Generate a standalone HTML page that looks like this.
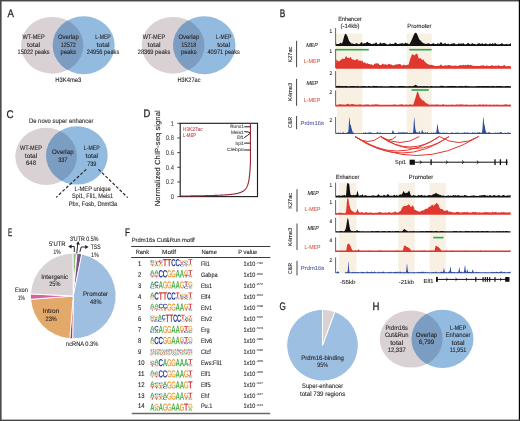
<!DOCTYPE html>
<html><head><meta charset="utf-8"><title>figure</title>
<style>
html,body{margin:0;padding:0;background:#ffffff;}
svg{display:block;will-change:transform;}
text{font-family:"Liberation Sans", sans-serif;}
</style></head>
<body>
<svg width="520" height="421" viewBox="0 0 520 421" text-rendering="geometricPrecision">
<defs>
<path id="gA" d="M1133 0 1008 360H471L346 0H51L565 1409H913L1425 0ZM739 1192 733 1170Q723 1134 709.0 1088.0Q695 1042 537 582H942L803 987L760 1123Z" transform="matrix(0.0007278 0 0 -0.0007097 -0.03712 1.00000)"/>
<path id="gC" d="M795 212Q1062 212 1166 480L1423 383Q1340 179 1179.5 79.5Q1019 -20 795 -20Q455 -20 269.5 172.5Q84 365 84 711Q84 1058 263.0 1244.0Q442 1430 782 1430Q1030 1430 1186.0 1330.5Q1342 1231 1405 1038L1145 967Q1112 1073 1015.5 1135.5Q919 1198 788 1198Q588 1198 484.5 1074.0Q381 950 381 711Q381 468 487.5 340.0Q594 212 795 212Z" transform="matrix(0.0007468 0 0 -0.0006897 -0.06273 0.98621)"/>
<path id="gG" d="M806 211Q921 211 1029.0 244.5Q1137 278 1196 330V525H852V743H1466V225Q1354 110 1174.5 45.0Q995 -20 798 -20Q454 -20 269.0 170.5Q84 361 84 711Q84 1059 270.0 1244.5Q456 1430 805 1430Q1301 1430 1436 1063L1164 981Q1120 1088 1026.0 1143.0Q932 1198 805 1198Q597 1198 489.0 1072.0Q381 946 381 711Q381 472 492.5 341.5Q604 211 806 211Z" transform="matrix(0.0007236 0 0 -0.0006897 -0.06078 0.98621)"/>
<path id="gT" d="M773 1181V0H478V1181H23V1409H1229V1181Z" transform="matrix(0.0008292 0 0 -0.0007097 -0.01907 1.00000)"/>
</defs>
<rect x="0" y="0" width="520" height="421" fill="#ffffff"/>
<text x="7.5" y="17.1" font-size="11" text-anchor="start" fill="#231f20" textLength="6.4" lengthAdjust="spacingAndGlyphs" stroke="#231f20" stroke-width="0.28">A</text>
<text x="279.7" y="16.5" font-size="11" text-anchor="start" fill="#231f20" textLength="5.5" lengthAdjust="spacingAndGlyphs" stroke="#231f20" stroke-width="0.28">B</text>
<text x="6.4" y="117.9" font-size="11" text-anchor="start" fill="#231f20" textLength="7.1" lengthAdjust="spacingAndGlyphs" stroke="#231f20" stroke-width="0.28">C</text>
<text x="143.5" y="117.4" font-size="11" text-anchor="start" fill="#231f20" textLength="6.8" lengthAdjust="spacingAndGlyphs" stroke="#231f20" stroke-width="0.28">D</text>
<text x="7.9" y="235.8" font-size="11" text-anchor="start" fill="#231f20" textLength="4.2" lengthAdjust="spacingAndGlyphs" stroke="#231f20" stroke-width="0.28">E</text>
<text x="125" y="235.8" font-size="11" text-anchor="start" fill="#231f20" textLength="4.9" lengthAdjust="spacingAndGlyphs" stroke="#231f20" stroke-width="0.28">F</text>
<text x="279.5" y="310" font-size="11" text-anchor="start" fill="#231f20" textLength="6.3" lengthAdjust="spacingAndGlyphs" stroke="#231f20" stroke-width="0.28">G</text>
<text x="372.5" y="309.8" font-size="11" text-anchor="start" fill="#231f20" textLength="6.9" lengthAdjust="spacingAndGlyphs" stroke="#231f20" stroke-width="0.28">H</text>
<ellipse cx="52.2" cy="45.3" rx="31.2" ry="28.4" fill="#d9d1d3"/>
<ellipse cx="83.7" cy="45.2" rx="31" ry="29" fill="#93bbdf"/>
<clipPath id="c11"><ellipse cx="52.2" cy="45.3" rx="31.2" ry="28.4"/></clipPath>
<ellipse cx="83.7" cy="45.2" rx="31" ry="29" fill="#7b9dc1" clip-path="url(#c11)"/>
<text x="33.6" y="38.8" font-size="6.5" text-anchor="middle" fill="#231f20" textLength="22.3" lengthAdjust="spacingAndGlyphs" stroke="#231f20" stroke-width="0.1">WT-MEP</text>
<text x="33.6" y="46.5" font-size="6.5" text-anchor="middle" fill="#231f20" textLength="13" lengthAdjust="spacingAndGlyphs" stroke="#231f20" stroke-width="0.1">total</text>
<text x="33.6" y="54.2" font-size="6.5" text-anchor="middle" fill="#231f20" textLength="32" lengthAdjust="spacingAndGlyphs" stroke="#231f20" stroke-width="0.1">15022 peaks</text>
<text x="68.3" y="38.8" font-size="6.5" text-anchor="middle" fill="#231f20" textLength="20.8" lengthAdjust="spacingAndGlyphs" stroke="#231f20" stroke-width="0.1">Overlap</text>
<text x="68.3" y="46.5" font-size="6.5" text-anchor="middle" fill="#231f20" textLength="15.2" lengthAdjust="spacingAndGlyphs" stroke="#231f20" stroke-width="0.1">12572</text>
<text x="68.3" y="54.2" font-size="6.5" text-anchor="middle" fill="#231f20" textLength="15.5" lengthAdjust="spacingAndGlyphs" stroke="#231f20" stroke-width="0.1">peaks</text>
<text x="103" y="38.8" font-size="6.5" text-anchor="middle" fill="#231f20" textLength="15.4" lengthAdjust="spacingAndGlyphs" stroke="#231f20" stroke-width="0.1">L-MEP</text>
<text x="103" y="46.5" font-size="6.5" text-anchor="middle" fill="#231f20" textLength="13" lengthAdjust="spacingAndGlyphs" stroke="#231f20" stroke-width="0.1">total</text>
<text x="103" y="54.2" font-size="6.5" text-anchor="middle" fill="#231f20" textLength="32.5" lengthAdjust="spacingAndGlyphs" stroke="#231f20" stroke-width="0.1">24956 peaks</text>
<text x="68.3" y="82.1" font-size="6.5" text-anchor="middle" fill="#231f20" textLength="26" lengthAdjust="spacingAndGlyphs" stroke="#231f20" stroke-width="0.1">H3K4me3</text>
<ellipse cx="173.1" cy="45.3" rx="31.4" ry="28.4" fill="#d9d1d3"/>
<ellipse cx="204.3" cy="45.2" rx="31.2" ry="29" fill="#93bbdf"/>
<clipPath id="c25"><ellipse cx="173.1" cy="45.3" rx="31.4" ry="28.4"/></clipPath>
<ellipse cx="204.3" cy="45.2" rx="31.2" ry="29" fill="#7b9dc1" clip-path="url(#c25)"/>
<text x="154" y="38.8" font-size="6.5" text-anchor="middle" fill="#231f20" textLength="22.3" lengthAdjust="spacingAndGlyphs" stroke="#231f20" stroke-width="0.1">WT-MEP</text>
<text x="154" y="46.5" font-size="6.5" text-anchor="middle" fill="#231f20" textLength="13" lengthAdjust="spacingAndGlyphs" stroke="#231f20" stroke-width="0.1">total</text>
<text x="154" y="54.2" font-size="6.5" text-anchor="middle" fill="#231f20" textLength="32.5" lengthAdjust="spacingAndGlyphs" stroke="#231f20" stroke-width="0.1">28369 peaks</text>
<text x="188.8" y="38.8" font-size="6.5" text-anchor="middle" fill="#231f20" textLength="20.8" lengthAdjust="spacingAndGlyphs" stroke="#231f20" stroke-width="0.1">Overlap</text>
<text x="188.8" y="46.5" font-size="6.5" text-anchor="middle" fill="#231f20" textLength="15.2" lengthAdjust="spacingAndGlyphs" stroke="#231f20" stroke-width="0.1">15218</text>
<text x="188.8" y="54.2" font-size="6.5" text-anchor="middle" fill="#231f20" textLength="15.5" lengthAdjust="spacingAndGlyphs" stroke="#231f20" stroke-width="0.1">peaks</text>
<text x="223.7" y="38.8" font-size="6.5" text-anchor="middle" fill="#231f20" textLength="15.4" lengthAdjust="spacingAndGlyphs" stroke="#231f20" stroke-width="0.1">L-MEP</text>
<text x="223.7" y="46.5" font-size="6.5" text-anchor="middle" fill="#231f20" textLength="13" lengthAdjust="spacingAndGlyphs" stroke="#231f20" stroke-width="0.1">total</text>
<text x="223.7" y="54.2" font-size="6.5" text-anchor="middle" fill="#231f20" textLength="32.5" lengthAdjust="spacingAndGlyphs" stroke="#231f20" stroke-width="0.1">40971 peaks</text>
<text x="189" y="82.1" font-size="6.5" text-anchor="middle" fill="#231f20" textLength="23" lengthAdjust="spacingAndGlyphs" stroke="#231f20" stroke-width="0.1">H3K27ac</text>
<text x="61.2" y="122.9" font-size="6.5" text-anchor="middle" fill="#231f20" textLength="64.5" lengthAdjust="spacingAndGlyphs" stroke="#231f20" stroke-width="0.1">De novo super enhancer</text>
<ellipse cx="46.1" cy="156.4" rx="30.8" ry="28.6" fill="#d9d1d3"/>
<ellipse cx="76.9" cy="155.4" rx="30.8" ry="29.2" fill="#93bbdf"/>
<clipPath id="c40"><ellipse cx="46.1" cy="156.4" rx="30.8" ry="28.6"/></clipPath>
<ellipse cx="76.9" cy="155.4" rx="30.8" ry="29.2" fill="#7b9dc1" clip-path="url(#c40)"/>
<text x="31" y="150.4" font-size="6.5" text-anchor="middle" fill="#231f20" textLength="22.1" lengthAdjust="spacingAndGlyphs" stroke="#231f20" stroke-width="0.1">WT-MEP</text>
<text x="31" y="157.9" font-size="6.5" text-anchor="middle" fill="#231f20" textLength="12.3" lengthAdjust="spacingAndGlyphs" stroke="#231f20" stroke-width="0.1">total</text>
<text x="31" y="165.4" font-size="6.5" text-anchor="middle" fill="#231f20" textLength="10" lengthAdjust="spacingAndGlyphs" stroke="#231f20" stroke-width="0.1">648</text>
<text x="62.8" y="154.1" font-size="6.5" text-anchor="middle" fill="#231f20" textLength="21.6" lengthAdjust="spacingAndGlyphs" stroke="#231f20" stroke-width="0.1">Overlap</text>
<text x="62.8" y="161.9" font-size="6.5" text-anchor="middle" fill="#231f20" textLength="9.3" lengthAdjust="spacingAndGlyphs" stroke="#231f20" stroke-width="0.1">337</text>
<text x="91.8" y="150.2" font-size="6.5" text-anchor="middle" fill="#231f20" textLength="15.9" lengthAdjust="spacingAndGlyphs" stroke="#231f20" stroke-width="0.1">L-MEP</text>
<text x="91.8" y="157.9" font-size="6.5" text-anchor="middle" fill="#231f20" textLength="12.4" lengthAdjust="spacingAndGlyphs" stroke="#231f20" stroke-width="0.1">total</text>
<text x="91.8" y="165.6" font-size="6.5" text-anchor="middle" fill="#231f20" textLength="9.2" lengthAdjust="spacingAndGlyphs" stroke="#231f20" stroke-width="0.1">739</text>
<line x1="86.2" y1="169.3" x2="56.2" y2="197.3" stroke="#231f20" stroke-width="1.15" stroke-dasharray="3.0 1.9"/>
<line x1="98.5" y1="169.3" x2="127.7" y2="197.6" stroke="#231f20" stroke-width="1.15" stroke-dasharray="3.0 1.9"/>
<text x="92.6" y="190.5" font-size="6.5" text-anchor="middle" fill="#231f20" textLength="36.3" lengthAdjust="spacingAndGlyphs" stroke="#231f20" stroke-width="0.1">L-MEP unique</text>
<text x="92.6" y="198.3" font-size="6.5" text-anchor="middle" fill="#231f20" textLength="41.1" lengthAdjust="spacingAndGlyphs" stroke="#231f20" stroke-width="0.1">Spi1, Fli1, Meis1</text>
<text x="93" y="206" font-size="6.5" text-anchor="middle" fill="#231f20" textLength="48.4" lengthAdjust="spacingAndGlyphs" stroke="#231f20" stroke-width="0.1">Pbx, Fosb, Dnmt3a</text>
<rect x="180.2" y="123.3" width="77.3" height="73.3" fill="none" stroke="#231f20" stroke-width="1.15"/>
<line x1="177.2" y1="196.6" x2="180.2" y2="196.6" stroke="#231f20" stroke-width="0.8"/>
<text x="173.9" y="198.9" font-size="6.8" text-anchor="end" fill="#505050" textLength="3.25" lengthAdjust="spacingAndGlyphs" stroke="#505050" stroke-width="0.1">0</text>
<line x1="177.2" y1="181.94" x2="180.2" y2="181.94" stroke="#231f20" stroke-width="0.8"/>
<text x="173.9" y="184.24" font-size="6.8" text-anchor="end" fill="#505050" textLength="8.13" lengthAdjust="spacingAndGlyphs" stroke="#505050" stroke-width="0.1">0.2</text>
<line x1="177.2" y1="167.28" x2="180.2" y2="167.28" stroke="#231f20" stroke-width="0.8"/>
<text x="173.9" y="169.58" font-size="6.8" text-anchor="end" fill="#505050" textLength="8.13" lengthAdjust="spacingAndGlyphs" stroke="#505050" stroke-width="0.1">0.4</text>
<line x1="177.2" y1="152.62" x2="180.2" y2="152.62" stroke="#231f20" stroke-width="0.8"/>
<text x="173.9" y="154.92" font-size="6.8" text-anchor="end" fill="#505050" textLength="8.13" lengthAdjust="spacingAndGlyphs" stroke="#505050" stroke-width="0.1">0.6</text>
<line x1="177.2" y1="137.96" x2="180.2" y2="137.96" stroke="#231f20" stroke-width="0.8"/>
<text x="173.9" y="140.26" font-size="6.8" text-anchor="end" fill="#505050" textLength="8.13" lengthAdjust="spacingAndGlyphs" stroke="#505050" stroke-width="0.1">0.8</text>
<line x1="177.2" y1="123.3" x2="180.2" y2="123.3" stroke="#231f20" stroke-width="0.8"/>
<text x="173.9" y="125.6" font-size="6.8" text-anchor="end" fill="#505050" textLength="3.25" lengthAdjust="spacingAndGlyphs" stroke="#505050" stroke-width="0.1">1</text>
<text transform="translate(157.6 158.3) rotate(-90)" x="0" y="0" font-size="7.4" text-anchor="middle" dominant-baseline="central" fill="#231f20" textLength="96" lengthAdjust="spacingAndGlyphs" stroke="#231f20" stroke-width="0.1">Normalized ChIP-seq signal</text>
<polyline points="180.7,196.06 180.93,196.05 181.16,196.05 181.4,196.05 181.63,196.05 181.86,196.04 182.09,196.04 182.32,196.04 182.56,196.04 182.79,196.03 183.02,196.03 183.25,196.03 183.48,196.03 183.72,196.03 183.95,196.02 184.18,196.02 184.41,196.02 184.64,196.02 184.88,196.01 185.11,196.01 185.34,196.01 185.57,196.01 185.8,196 186.04,196 186.27,196 186.5,195.99 186.73,195.99 186.96,195.99 187.2,195.99 187.43,195.98 187.66,195.98 187.89,195.98 188.12,195.98 188.36,195.97 188.59,195.97 188.82,195.97 189.05,195.96 189.28,195.96 189.52,195.96 189.75,195.96 189.98,195.95 190.21,195.95 190.44,195.95 190.68,195.94 190.91,195.94 191.14,195.94 191.37,195.93 191.6,195.93 191.84,195.93 192.07,195.93 192.3,195.92 192.53,195.92 192.76,195.92 193,195.91 193.23,195.91 193.46,195.91 193.69,195.9 193.92,195.9 194.16,195.9 194.39,195.89 194.62,195.89 194.85,195.89 195.08,195.88 195.32,195.88 195.55,195.88 195.78,195.87 196.01,195.87 196.24,195.86 196.48,195.86 196.71,195.86 196.94,195.85 197.17,195.85 197.4,195.85 197.64,195.84 197.87,195.84 198.1,195.83 198.33,195.83 198.56,195.83 198.8,195.82 199.03,195.82 199.26,195.81 199.49,195.81 199.72,195.81 199.96,195.8 200.19,195.8 200.42,195.79 200.65,195.79 200.88,195.78 201.12,195.78 201.35,195.78 201.58,195.77 201.81,195.77 202.04,195.76 202.28,195.76 202.51,195.75 202.74,195.75 202.97,195.74 203.2,195.74 203.44,195.73 203.67,195.73 203.9,195.72 204.13,195.72 204.36,195.71 204.6,195.71 204.83,195.7 205.06,195.7 205.29,195.69 205.52,195.69 205.76,195.68 205.99,195.68 206.22,195.67 206.45,195.67 206.68,195.66 206.92,195.66 207.15,195.65 207.38,195.64 207.61,195.64 207.84,195.63 208.08,195.63 208.31,195.62 208.54,195.62 208.77,195.61 209,195.6 209.24,195.6 209.47,195.59 209.7,195.58 209.93,195.58 210.16,195.57 210.4,195.57 210.63,195.56 210.86,195.55 211.09,195.55 211.32,195.54 211.56,195.53 211.79,195.52 212.02,195.52 212.25,195.51 212.48,195.5 212.72,195.5 212.95,195.49 213.18,195.48 213.41,195.47 213.64,195.47 213.88,195.46 214.11,195.45 214.34,195.44 214.57,195.43 214.8,195.43 215.04,195.42 215.27,195.41 215.5,195.4 215.73,195.39 215.96,195.38 216.2,195.37 216.43,195.36 216.66,195.36 216.89,195.35 217.12,195.34 217.36,195.33 217.59,195.32 217.82,195.31 218.05,195.3 218.28,195.29 218.52,195.28 218.75,195.27 218.98,195.26 219.21,195.25 219.44,195.24 219.68,195.23 219.91,195.22 220.14,195.2 220.37,195.19 220.6,195.18 220.84,195.17 221.07,195.16 221.3,195.15 221.53,195.13 221.76,195.12 222,195.11 222.23,195.1 222.46,195.08 222.69,195.07 222.92,195.06 223.16,195.04 223.39,195.03 223.62,195.01 223.85,195 224.08,194.99 224.32,194.97 224.55,194.96 224.78,194.94 225.01,194.92 225.24,194.91 225.48,194.89 225.71,194.88 225.94,194.86 226.17,194.84 226.4,194.83 226.64,194.81 226.87,194.79 227.1,194.77 227.33,194.75 227.56,194.73 227.8,194.71 228.03,194.69 228.26,194.67 228.49,194.65 228.72,194.63 228.96,194.61 229.19,194.59 229.42,194.57 229.65,194.55 229.88,194.52 230.12,194.5 230.35,194.47 230.58,194.45 230.81,194.42 231.04,194.4 231.28,194.37 231.51,194.34 231.74,194.32 231.97,194.29 232.2,194.26 232.44,194.23 232.67,194.2 232.9,194.17 233.13,194.14 233.36,194.1 233.6,194.07 233.83,194.04 234.06,194 234.29,193.96 234.52,193.93 234.76,193.89 234.99,193.85 235.22,193.81 235.45,193.77 235.68,193.73 235.92,193.68 236.15,193.64 236.38,193.59 236.61,193.54 236.84,193.49 237.08,193.44 237.31,193.39 237.54,193.33 237.77,193.28 238,193.22 238.24,193.16 238.47,193.1 238.7,193.03 238.93,192.97 239.16,192.9 239.4,192.83 239.63,192.75 239.86,192.67 240.09,192.59 240.32,192.51 240.56,192.42 240.79,192.33 241.02,192.24 241.25,192.14 241.48,192.04 241.72,191.93 241.95,191.81 242.18,191.7 242.41,191.57 242.64,191.44 242.88,191.3 243.11,191.16 243.34,191.01 243.57,190.85 243.8,190.68 244.04,190.5 244.27,190.3 244.5,190.1 244.73,189.88 244.96,189.65 245.2,189.4 245.43,189.14 245.66,188.85 245.89,188.54 246.12,188.21 246.36,187.85 246.59,187.45 246.82,187.02 247.05,186.55 247.28,186.03 247.52,185.46 247.75,184.82 247.98,184.1 248.21,183.29 248.44,182.37 248.68,181.31 248.91,180.08 249.14,178.65 249.37,176.94 249.6,174.87 249.84,172.33 250.07,169.12 250.3,164.93 250.45,163.62 250.45,123.3" fill="none" stroke="#9e2838" stroke-width="1.15"/>
<text x="183" y="131.2" font-size="5.3" text-anchor="start" fill="#c24a58" textLength="19.6" lengthAdjust="spacingAndGlyphs" stroke="#c24a58" stroke-width="0.1">H3K27ac</text>
<text x="183" y="137.3" font-size="5.3" text-anchor="start" fill="#c24a58" textLength="13.1" lengthAdjust="spacingAndGlyphs" stroke="#c24a58" stroke-width="0.1">L-MEP</text>
<text x="243.8" y="128.3" font-size="4.6" text-anchor="end" fill="#4a4a4a" textLength="13.6" lengthAdjust="spacingAndGlyphs" stroke="#4a4a4a" stroke-width="0.1">Runx1</text>
<text x="243.8" y="133.5" font-size="4.6" text-anchor="end" fill="#4a4a4a" textLength="12.9" lengthAdjust="spacingAndGlyphs" stroke="#4a4a4a" stroke-width="0.1">Meis1</text>
<text x="243.8" y="139" font-size="4.6" text-anchor="end" fill="#4a4a4a" textLength="6.9" lengthAdjust="spacingAndGlyphs" stroke="#4a4a4a" stroke-width="0.1">Elf1</text>
<text x="243.8" y="144.8" font-size="4.6" text-anchor="end" fill="#4a4a4a" textLength="8.5" lengthAdjust="spacingAndGlyphs" stroke="#4a4a4a" stroke-width="0.1">Spi1</text>
<text x="243.8" y="151.4" font-size="4.6" text-anchor="end" fill="#4a4a4a" textLength="16.9" lengthAdjust="spacingAndGlyphs" stroke="#4a4a4a" stroke-width="0.1">C/ebpα</text>
<line x1="244.2" y1="126.8" x2="250.4" y2="126.8" stroke="#231f20" stroke-width="1"/>
<polyline points="244.2,131.6 248,131.9 250.4,133.2" fill="none" stroke="#231f20" stroke-width="1.0"/>
<polyline points="244.2,137.6 247.5,135.4 250.4,133.2" fill="none" stroke="#231f20" stroke-width="1.0"/>
<line x1="244.2" y1="143.1" x2="250.4" y2="143.1" stroke="#231f20" stroke-width="1"/>
<line x1="244.2" y1="150" x2="250.4" y2="150" stroke="#231f20" stroke-width="1"/>
<path d="M73.3,296 L72.93,253.15 A42.85,42.85 0 0 1 76.51,253.27 Z" fill="#8dc07c" stroke="#ffffff" stroke-width="0.9" stroke-linejoin="round"/>
<path d="M73.3,296 L76.51,253.27 A42.85,42.85 0 0 1 77.03,253.31 Z" fill="#f4f1f3" stroke="#ffffff" stroke-width="0.9" stroke-linejoin="round"/>
<path d="M73.3,296 L77.03,253.31 A42.85,42.85 0 0 1 81.77,254 Z" fill="#7b4e88" stroke="#ffffff" stroke-width="0.9" stroke-linejoin="round"/>
<path d="M73.3,296 L81.77,254 A42.85,42.85 0 0 1 72.63,338.84 Z" fill="#9ebfe0" stroke="#ffffff" stroke-width="0.9" stroke-linejoin="round"/>
<path d="M73.3,296 L72.63,338.84 A42.85,42.85 0 0 1 69.64,338.69 Z" fill="#b83a40" stroke="#ffffff" stroke-width="0.9" stroke-linejoin="round"/>
<path d="M73.3,296 L69.79,338.71 A42.85,42.85 0 0 1 30.58,299.29 Z" fill="#e3a96b" stroke="#ffffff" stroke-width="0.9" stroke-linejoin="round"/>
<path d="M73.3,296 L30.58,299.29 A42.85,42.85 0 0 1 30.5,293.91 Z" fill="#d8629e" stroke="#ffffff" stroke-width="0.9" stroke-linejoin="round"/>
<path d="M73.3,296 L30.5,293.91 A42.85,42.85 0 0 1 72.93,253.15 Z" fill="#d9d3d6" stroke="#ffffff" stroke-width="0.9" stroke-linejoin="round"/>
<text x="54.7" y="278.5" font-size="6.5" text-anchor="middle" fill="#231f20" textLength="26.9" lengthAdjust="spacingAndGlyphs" stroke="#231f20" stroke-width="0.1">Intergenic</text>
<text x="54.8" y="286.2" font-size="6.5" text-anchor="middle" fill="#231f20" textLength="11.2" lengthAdjust="spacingAndGlyphs" stroke="#231f20" stroke-width="0.1">25%</text>
<text x="95.6" y="296.2" font-size="6.5" text-anchor="middle" fill="#231f20" textLength="25.1" lengthAdjust="spacingAndGlyphs" stroke="#231f20" stroke-width="0.1">Promoter</text>
<text x="95.8" y="303.8" font-size="6.5" text-anchor="middle" fill="#231f20" textLength="11.4" lengthAdjust="spacingAndGlyphs" stroke="#231f20" stroke-width="0.1">48%</text>
<text x="51" y="313.1" font-size="6.5" text-anchor="middle" fill="#231f20" textLength="16.6" lengthAdjust="spacingAndGlyphs" stroke="#231f20" stroke-width="0.1">Intron</text>
<text x="51.2" y="320.8" font-size="6.5" text-anchor="middle" fill="#231f20" textLength="11.3" lengthAdjust="spacingAndGlyphs" stroke="#231f20" stroke-width="0.1">23%</text>
<text x="21.4" y="292.1" font-size="6.5" text-anchor="middle" fill="#231f20" textLength="13" lengthAdjust="spacingAndGlyphs" stroke="#231f20" stroke-width="0.1">Exon</text>
<text x="21.4" y="300.1" font-size="6.5" text-anchor="middle" fill="#231f20" textLength="7" lengthAdjust="spacingAndGlyphs" stroke="#231f20" stroke-width="0.1">1%</text>
<text x="57.3" y="245.7" font-size="6.5" text-anchor="middle" fill="#231f20" textLength="16.6" lengthAdjust="spacingAndGlyphs" stroke="#231f20" stroke-width="0.1">5'UTR</text>
<text x="57" y="253.6" font-size="6.5" text-anchor="middle" fill="#231f20" textLength="7" lengthAdjust="spacingAndGlyphs" stroke="#231f20" stroke-width="0.1">1%</text>
<text x="69.9" y="240.8" font-size="6.5" text-anchor="start" fill="#231f20" textLength="28.5" lengthAdjust="spacingAndGlyphs" stroke="#231f20" stroke-width="0.1">3'UTR 0.5%</text>
<text x="90.7" y="248.5" font-size="6.5" text-anchor="start" fill="#231f20" textLength="10" lengthAdjust="spacingAndGlyphs" stroke="#231f20" stroke-width="0.1">TSS</text>
<text x="91.3" y="256.7" font-size="6.5" text-anchor="start" fill="#231f20" textLength="7.4" lengthAdjust="spacingAndGlyphs" stroke="#231f20" stroke-width="0.1">1%</text>
<text x="66" y="345.6" font-size="6.5" text-anchor="start" fill="#231f20" textLength="32.3" lengthAdjust="spacingAndGlyphs" stroke="#231f20" stroke-width="0.1">ncRNA 0.3%</text>
<polyline points="74.3,252.0 74.3,246.5 71.0,246.5" fill="none" stroke="#231f20" stroke-width="0.95" stroke-linejoin="round"/>
<path d="M68.2,246.5 L71.6,244.6 L71.6,248.4 Z" fill="#231f20"/>
<polyline points="76.7,253.6 77.8,244.0" fill="none" stroke="#231f20" stroke-width="0.95"/>
<path d="M78.2,240.9 L76.2,244.3 L79.9,244.7 Z" fill="#231f20"/>
<polyline points="79.8,252.2 81.2,247.0 85.8,247.0" fill="none" stroke="#231f20" stroke-width="0.95" stroke-linejoin="round"/>
<path d="M88.6,247.0 L85.2,245.1 L85.2,248.9 Z" fill="#231f20"/>
<text x="131.7" y="241.8" font-size="6" text-anchor="start" fill="#231f20" textLength="63" lengthAdjust="spacingAndGlyphs" stroke="#231f20" stroke-width="0.1">Prdm16s Cut&amp;Run motif</text>
<line x1="131.2" y1="246.5" x2="270.4" y2="246.5" stroke="#3a3a3a" stroke-width="1"/>
<line x1="131.2" y1="257.5" x2="270.4" y2="257.5" stroke="#3a3a3a" stroke-width="1"/>
<line x1="131.8" y1="413.5" x2="270.2" y2="413.5" stroke="#6a6a6a" stroke-width="1.5"/>
<text x="135.7" y="253.9" font-size="6" text-anchor="start" fill="#231f20" textLength="13.4" lengthAdjust="spacingAndGlyphs" stroke="#231f20" stroke-width="0.1">Rank</text>
<text x="162" y="253.9" font-size="6" text-anchor="start" fill="#231f20" textLength="14.1" lengthAdjust="spacingAndGlyphs" stroke="#231f20" stroke-width="0.1">Motif</text>
<text x="201.4" y="253.9" font-size="6" text-anchor="start" fill="#231f20" textLength="15.5" lengthAdjust="spacingAndGlyphs" stroke="#231f20" stroke-width="0.1">Name</text>
<text x="238.3" y="253.9" font-size="6" text-anchor="start" fill="#231f20" textLength="19" lengthAdjust="spacingAndGlyphs" stroke="#231f20" stroke-width="0.1">P value</text>
<text x="137.9" y="266.4" font-size="6.8" text-anchor="start" fill="#231f20" textLength="3.3" lengthAdjust="spacingAndGlyphs" stroke="#231f20" stroke-width="0.1">1</text>
<text x="200.9" y="266.4" font-size="6.5" text-anchor="start" fill="#231f20" textLength="9.01" lengthAdjust="spacingAndGlyphs" stroke="#231f20" stroke-width="0.1">Fli1</text>
<text x="243.4" y="266.4" font-size="6.4" text-anchor="start" fill="#231f20" textLength="11.9" lengthAdjust="spacingAndGlyphs" stroke="#231f20" stroke-width="0.1">1x10</text>
<text x="255.7" y="263.6" font-size="3" text-anchor="start" fill="#444444" textLength="7.4" lengthAdjust="spacingAndGlyphs" stroke="#444444" stroke-width="0.05">-732</text>
<text x="137.9" y="277.33" font-size="6.8" text-anchor="start" fill="#231f20" textLength="3.3" lengthAdjust="spacingAndGlyphs" stroke="#231f20" stroke-width="0.1">2</text>
<text x="200.9" y="277.33" font-size="6.5" text-anchor="start" fill="#231f20" textLength="16.78" lengthAdjust="spacingAndGlyphs" stroke="#231f20" stroke-width="0.1">Gabpa</text>
<text x="243.4" y="277.33" font-size="6.4" text-anchor="start" fill="#231f20" textLength="11.9" lengthAdjust="spacingAndGlyphs" stroke="#231f20" stroke-width="0.1">1x10</text>
<text x="255.7" y="274.53" font-size="3" text-anchor="start" fill="#444444" textLength="7.4" lengthAdjust="spacingAndGlyphs" stroke="#444444" stroke-width="0.05">-692</text>
<text x="137.9" y="288.26" font-size="6.8" text-anchor="start" fill="#231f20" textLength="3.3" lengthAdjust="spacingAndGlyphs" stroke="#231f20" stroke-width="0.1">3</text>
<text x="200.9" y="288.26" font-size="6.5" text-anchor="start" fill="#231f20" textLength="11.19" lengthAdjust="spacingAndGlyphs" stroke="#231f20" stroke-width="0.1">Ets1</text>
<text x="243.4" y="288.26" font-size="6.4" text-anchor="start" fill="#231f20" textLength="11.9" lengthAdjust="spacingAndGlyphs" stroke="#231f20" stroke-width="0.1">1x10</text>
<text x="255.7" y="285.46" font-size="3" text-anchor="start" fill="#444444" textLength="7.4" lengthAdjust="spacingAndGlyphs" stroke="#444444" stroke-width="0.05">-672</text>
<text x="137.9" y="299.19" font-size="6.8" text-anchor="start" fill="#231f20" textLength="3.3" lengthAdjust="spacingAndGlyphs" stroke="#231f20" stroke-width="0.1">4</text>
<text x="200.9" y="299.19" font-size="6.5" text-anchor="start" fill="#231f20" textLength="9.63" lengthAdjust="spacingAndGlyphs" stroke="#231f20" stroke-width="0.1">Elf4</text>
<text x="243.4" y="299.19" font-size="6.4" text-anchor="start" fill="#231f20" textLength="11.9" lengthAdjust="spacingAndGlyphs" stroke="#231f20" stroke-width="0.1">1x10</text>
<text x="255.7" y="296.39" font-size="3" text-anchor="start" fill="#444444" textLength="7.4" lengthAdjust="spacingAndGlyphs" stroke="#444444" stroke-width="0.05">-604</text>
<text x="137.9" y="310.12" font-size="6.8" text-anchor="start" fill="#231f20" textLength="3.3" lengthAdjust="spacingAndGlyphs" stroke="#231f20" stroke-width="0.1">5</text>
<text x="200.9" y="310.12" font-size="6.5" text-anchor="start" fill="#231f20" textLength="11.19" lengthAdjust="spacingAndGlyphs" stroke="#231f20" stroke-width="0.1">Etv1</text>
<text x="243.4" y="310.12" font-size="6.4" text-anchor="start" fill="#231f20" textLength="11.9" lengthAdjust="spacingAndGlyphs" stroke="#231f20" stroke-width="0.1">1x10</text>
<text x="255.7" y="307.32" font-size="3" text-anchor="start" fill="#444444" textLength="7.4" lengthAdjust="spacingAndGlyphs" stroke="#444444" stroke-width="0.05">-598</text>
<text x="137.9" y="321.05" font-size="6.8" text-anchor="start" fill="#231f20" textLength="3.3" lengthAdjust="spacingAndGlyphs" stroke="#231f20" stroke-width="0.1">6</text>
<text x="200.9" y="321.05" font-size="6.5" text-anchor="start" fill="#231f20" textLength="11.19" lengthAdjust="spacingAndGlyphs" stroke="#231f20" stroke-width="0.1">Etv2</text>
<text x="243.4" y="321.05" font-size="6.4" text-anchor="start" fill="#231f20" textLength="11.9" lengthAdjust="spacingAndGlyphs" stroke="#231f20" stroke-width="0.1">1x10</text>
<text x="255.7" y="318.25" font-size="3" text-anchor="start" fill="#444444" textLength="7.4" lengthAdjust="spacingAndGlyphs" stroke="#444444" stroke-width="0.05">-595</text>
<text x="137.9" y="331.98" font-size="6.8" text-anchor="start" fill="#231f20" textLength="3.3" lengthAdjust="spacingAndGlyphs" stroke="#231f20" stroke-width="0.1">7</text>
<text x="200.9" y="331.98" font-size="6.5" text-anchor="start" fill="#231f20" textLength="8.7" lengthAdjust="spacingAndGlyphs" stroke="#231f20" stroke-width="0.1">Erg</text>
<text x="243.4" y="331.98" font-size="6.4" text-anchor="start" fill="#231f20" textLength="11.9" lengthAdjust="spacingAndGlyphs" stroke="#231f20" stroke-width="0.1">1x10</text>
<text x="255.7" y="329.18" font-size="3" text-anchor="start" fill="#444444" textLength="7.4" lengthAdjust="spacingAndGlyphs" stroke="#444444" stroke-width="0.05">-523</text>
<text x="137.9" y="342.91" font-size="6.8" text-anchor="start" fill="#231f20" textLength="3.3" lengthAdjust="spacingAndGlyphs" stroke="#231f20" stroke-width="0.1">8</text>
<text x="200.9" y="342.91" font-size="6.5" text-anchor="start" fill="#231f20" textLength="11.19" lengthAdjust="spacingAndGlyphs" stroke="#231f20" stroke-width="0.1">Etv6</text>
<text x="243.4" y="342.91" font-size="6.4" text-anchor="start" fill="#231f20" textLength="11.9" lengthAdjust="spacingAndGlyphs" stroke="#231f20" stroke-width="0.1">1x10</text>
<text x="255.7" y="340.11" font-size="3" text-anchor="start" fill="#444444" textLength="7.4" lengthAdjust="spacingAndGlyphs" stroke="#444444" stroke-width="0.05">-589</text>
<text x="137.9" y="353.84" font-size="6.8" text-anchor="start" fill="#231f20" textLength="3.3" lengthAdjust="spacingAndGlyphs" stroke="#231f20" stroke-width="0.1">9</text>
<text x="200.9" y="353.84" font-size="6.5" text-anchor="start" fill="#231f20" textLength="9.94" lengthAdjust="spacingAndGlyphs" stroke="#231f20" stroke-width="0.1">Ctcf</text>
<text x="243.4" y="353.84" font-size="6.4" text-anchor="start" fill="#231f20" textLength="11.9" lengthAdjust="spacingAndGlyphs" stroke="#231f20" stroke-width="0.1">1x10</text>
<text x="255.7" y="351.04" font-size="3" text-anchor="start" fill="#444444" textLength="7.4" lengthAdjust="spacingAndGlyphs" stroke="#444444" stroke-width="0.05">-530</text>
<text x="137.9" y="364.77" font-size="6.8" text-anchor="start" fill="#231f20" textLength="6.6" lengthAdjust="spacingAndGlyphs" stroke="#231f20" stroke-width="0.1">10</text>
<text x="200.9" y="364.77" font-size="6.5" text-anchor="start" fill="#231f20" textLength="21.12" lengthAdjust="spacingAndGlyphs" stroke="#231f20" stroke-width="0.1">Ews:Fli1</text>
<text x="243.4" y="364.77" font-size="6.4" text-anchor="start" fill="#231f20" textLength="11.9" lengthAdjust="spacingAndGlyphs" stroke="#231f20" stroke-width="0.1">1x10</text>
<text x="255.7" y="361.97" font-size="3" text-anchor="start" fill="#444444" textLength="7.4" lengthAdjust="spacingAndGlyphs" stroke="#444444" stroke-width="0.05">-469</text>
<text x="137.9" y="375.7" font-size="6.8" text-anchor="start" fill="#231f20" textLength="6.6" lengthAdjust="spacingAndGlyphs" stroke="#231f20" stroke-width="0.1">11</text>
<text x="200.9" y="375.7" font-size="6.5" text-anchor="start" fill="#231f20" textLength="9.63" lengthAdjust="spacingAndGlyphs" stroke="#231f20" stroke-width="0.1">Elf1</text>
<text x="243.4" y="375.7" font-size="6.4" text-anchor="start" fill="#231f20" textLength="11.9" lengthAdjust="spacingAndGlyphs" stroke="#231f20" stroke-width="0.1">1x10</text>
<text x="255.7" y="372.9" font-size="3" text-anchor="start" fill="#444444" textLength="7.4" lengthAdjust="spacingAndGlyphs" stroke="#444444" stroke-width="0.05">-469</text>
<text x="137.9" y="386.63" font-size="6.8" text-anchor="start" fill="#231f20" textLength="6.6" lengthAdjust="spacingAndGlyphs" stroke="#231f20" stroke-width="0.1">12</text>
<text x="200.9" y="386.63" font-size="6.5" text-anchor="start" fill="#231f20" textLength="9.63" lengthAdjust="spacingAndGlyphs" stroke="#231f20" stroke-width="0.1">Elf5</text>
<text x="243.4" y="386.63" font-size="6.4" text-anchor="start" fill="#231f20" textLength="11.9" lengthAdjust="spacingAndGlyphs" stroke="#231f20" stroke-width="0.1">1x10</text>
<text x="255.7" y="383.83" font-size="3" text-anchor="start" fill="#444444" textLength="7.4" lengthAdjust="spacingAndGlyphs" stroke="#444444" stroke-width="0.05">-447</text>
<text x="137.9" y="397.56" font-size="6.8" text-anchor="start" fill="#231f20" textLength="6.6" lengthAdjust="spacingAndGlyphs" stroke="#231f20" stroke-width="0.1">13</text>
<text x="200.9" y="397.56" font-size="6.5" text-anchor="start" fill="#231f20" textLength="8.39" lengthAdjust="spacingAndGlyphs" stroke="#231f20" stroke-width="0.1">Ehf</text>
<text x="243.4" y="397.56" font-size="6.4" text-anchor="start" fill="#231f20" textLength="11.9" lengthAdjust="spacingAndGlyphs" stroke="#231f20" stroke-width="0.1">1x10</text>
<text x="255.7" y="394.76" font-size="3" text-anchor="start" fill="#444444" textLength="7.4" lengthAdjust="spacingAndGlyphs" stroke="#444444" stroke-width="0.05">-447</text>
<text x="137.9" y="408.49" font-size="6.8" text-anchor="start" fill="#231f20" textLength="6.6" lengthAdjust="spacingAndGlyphs" stroke="#231f20" stroke-width="0.1">14</text>
<text x="200.9" y="408.49" font-size="6.5" text-anchor="start" fill="#231f20" textLength="11.5" lengthAdjust="spacingAndGlyphs" stroke="#231f20" stroke-width="0.1">Pu.1</text>
<text x="243.4" y="408.49" font-size="6.4" text-anchor="start" fill="#231f20" textLength="11.9" lengthAdjust="spacingAndGlyphs" stroke="#231f20" stroke-width="0.1">1x10</text>
<text x="255.7" y="405.69" font-size="3" text-anchor="start" fill="#444444" textLength="7.4" lengthAdjust="spacingAndGlyphs" stroke="#444444" stroke-width="0.05">-444</text>
<use href="#gC" fill="#2d3f97" transform="translate(150.24 260.14) scale(4.15 1.54)"/>
<use href="#gA" fill="#4dae4b" transform="translate(150.24 261.68) scale(4.15 1.54)"/>
<use href="#gG" fill="#eba23e" transform="translate(150.24 263.22) scale(4.15 1.54)"/>
<use href="#gT" fill="#d03c3c" transform="translate(150.24 264.76) scale(4.15 1.54)"/>
<use href="#gG" fill="#eba23e" transform="translate(154.47 260.14) scale(4.15 2.05)"/>
<use href="#gT" fill="#d03c3c" transform="translate(154.47 262.19) scale(4.15 2.05)"/>
<use href="#gA" fill="#4dae4b" transform="translate(154.47 264.25) scale(4.15 2.05)"/>
<use href="#gC" fill="#2d3f97" transform="translate(158.7 260.14) scale(4.15 2.05)"/>
<use href="#gT" fill="#d03c3c" transform="translate(158.7 262.19) scale(4.15 2.05)"/>
<use href="#gG" fill="#eba23e" transform="translate(158.7 264.25) scale(4.15 2.05)"/>
<use href="#gT" fill="#d03c3c" transform="translate(162.93 258.99) scale(4.15 7.31)"/>
<use href="#gT" fill="#d03c3c" transform="translate(167.16 258.99) scale(4.15 7.31)"/>
<use href="#gC" fill="#2d3f97" transform="translate(171.39 258.99) scale(4.15 7.31)"/>
<use href="#gC" fill="#2d3f97" transform="translate(175.62 258.99) scale(4.15 7.31)"/>
<use href="#gG" fill="#eba23e" transform="translate(179.85 260.14) scale(4.15 2.05)"/>
<use href="#gT" fill="#d03c3c" transform="translate(179.85 262.19) scale(4.15 2.05)"/>
<use href="#gC" fill="#2d3f97" transform="translate(179.85 264.25) scale(4.15 2.05)"/>
<use href="#gG" fill="#eba23e" transform="translate(184.08 260.14) scale(4.15 1.54)"/>
<use href="#gC" fill="#2d3f97" transform="translate(184.08 261.68) scale(4.15 1.54)"/>
<use href="#gA" fill="#4dae4b" transform="translate(184.08 263.22) scale(4.15 1.54)"/>
<use href="#gT" fill="#d03c3c" transform="translate(184.08 264.76) scale(4.15 1.54)"/>
<use href="#gT" fill="#d03c3c" transform="translate(188.31 259.22) scale(4.15 4.77)"/>
<use href="#gA" fill="#4dae4b" transform="translate(188.31 263.99) scale(4.15 1.16)"/>
<use href="#gG" fill="#eba23e" transform="translate(188.31 265.14) scale(4.15 1.16)"/>
<use href="#gA" fill="#4dae4b" transform="translate(150.24 270.34) scale(4.15 3.85)"/>
<use href="#gC" fill="#2d3f97" transform="translate(150.24 274.19) scale(4.15 1.08)"/>
<use href="#gG" fill="#eba23e" transform="translate(150.24 275.26) scale(4.15 1.08)"/>
<use href="#gT" fill="#d03c3c" transform="translate(150.24 276.34) scale(4.15 1.08)"/>
<use href="#gA" fill="#4dae4b" transform="translate(154.47 270.34) scale(4.15 3.85)"/>
<use href="#gG" fill="#eba23e" transform="translate(154.47 274.19) scale(4.15 1.08)"/>
<use href="#gC" fill="#2d3f97" transform="translate(154.47 275.26) scale(4.15 1.08)"/>
<use href="#gT" fill="#d03c3c" transform="translate(154.47 276.34) scale(4.15 1.08)"/>
<use href="#gC" fill="#2d3f97" transform="translate(158.7 270.11) scale(4.15 7.31)"/>
<use href="#gC" fill="#2d3f97" transform="translate(162.93 270.11) scale(4.15 7.31)"/>
<use href="#gG" fill="#eba23e" transform="translate(167.16 270.11) scale(4.15 7.31)"/>
<use href="#gG" fill="#eba23e" transform="translate(171.39 270.11) scale(4.15 7.31)"/>
<use href="#gA" fill="#4dae4b" transform="translate(175.62 270.11) scale(4.15 7.31)"/>
<use href="#gA" fill="#4dae4b" transform="translate(179.85 270.11) scale(4.15 7.31)"/>
<use href="#gG" fill="#eba23e" transform="translate(184.08 270.34) scale(4.15 4.77)"/>
<use href="#gT" fill="#d03c3c" transform="translate(184.08 275.11) scale(4.15 2.31)"/>
<use href="#gT" fill="#d03c3c" transform="translate(188.31 270.34) scale(4.15 4.77)"/>
<use href="#gC" fill="#2d3f97" transform="translate(188.31 275.11) scale(4.15 1.16)"/>
<use href="#gA" fill="#4dae4b" transform="translate(188.31 276.26) scale(4.15 1.16)"/>
<use href="#gA" fill="#4dae4b" transform="translate(150.24 281.46) scale(4.15 4.77)"/>
<use href="#gC" fill="#2d3f97" transform="translate(150.24 286.23) scale(4.15 2.31)"/>
<use href="#gC" fill="#2d3f97" transform="translate(154.47 281.46) scale(4.15 4.77)"/>
<use href="#gA" fill="#4dae4b" transform="translate(154.47 286.23) scale(4.15 2.31)"/>
<use href="#gA" fill="#4dae4b" transform="translate(158.7 281.23) scale(4.15 7.31)"/>
<use href="#gG" fill="#eba23e" transform="translate(162.93 281.23) scale(4.15 7.31)"/>
<use href="#gG" fill="#eba23e" transform="translate(167.16 281.23) scale(4.15 7.31)"/>
<use href="#gA" fill="#4dae4b" transform="translate(171.39 281.23) scale(4.15 7.31)"/>
<use href="#gA" fill="#4dae4b" transform="translate(175.62 281.23) scale(4.15 7.31)"/>
<use href="#gG" fill="#eba23e" transform="translate(179.85 281.23) scale(4.15 7.31)"/>
<use href="#gT" fill="#d03c3c" transform="translate(184.08 281.46) scale(4.15 4.77)"/>
<use href="#gC" fill="#2d3f97" transform="translate(184.08 286.23) scale(4.15 2.31)"/>
<use href="#gG" fill="#eba23e" transform="translate(188.31 281.46) scale(4.15 4.77)"/>
<use href="#gC" fill="#2d3f97" transform="translate(188.31 286.23) scale(4.15 1.16)"/>
<use href="#gA" fill="#4dae4b" transform="translate(188.31 287.38) scale(4.15 1.16)"/>
<use href="#gA" fill="#4dae4b" transform="translate(150.24 292.58) scale(4.15 4.77)"/>
<use href="#gG" fill="#eba23e" transform="translate(150.24 297.35) scale(4.15 2.31)"/>
<use href="#gC" fill="#2d3f97" transform="translate(154.47 292.35) scale(4.15 7.31)"/>
<use href="#gT" fill="#d03c3c" transform="translate(158.7 292.35) scale(4.15 7.31)"/>
<use href="#gT" fill="#d03c3c" transform="translate(162.93 292.35) scale(4.15 7.31)"/>
<use href="#gC" fill="#2d3f97" transform="translate(167.16 292.35) scale(4.15 7.31)"/>
<use href="#gC" fill="#2d3f97" transform="translate(171.39 292.35) scale(4.15 7.31)"/>
<use href="#gT" fill="#d03c3c" transform="translate(175.62 292.58) scale(4.15 4.77)"/>
<use href="#gC" fill="#2d3f97" transform="translate(175.62 297.35) scale(4.15 1.16)"/>
<use href="#gG" fill="#eba23e" transform="translate(175.62 298.5) scale(4.15 1.16)"/>
<use href="#gG" fill="#eba23e" transform="translate(179.85 293.5) scale(4.15 1.54)"/>
<use href="#gC" fill="#2d3f97" transform="translate(179.85 295.04) scale(4.15 1.54)"/>
<use href="#gA" fill="#4dae4b" transform="translate(179.85 296.58) scale(4.15 1.54)"/>
<use href="#gT" fill="#d03c3c" transform="translate(179.85 298.12) scale(4.15 1.54)"/>
<use href="#gG" fill="#eba23e" transform="translate(184.08 293.5) scale(4.15 1.54)"/>
<use href="#gT" fill="#d03c3c" transform="translate(184.08 295.04) scale(4.15 1.54)"/>
<use href="#gC" fill="#2d3f97" transform="translate(184.08 296.58) scale(4.15 1.54)"/>
<use href="#gA" fill="#4dae4b" transform="translate(184.08 298.12) scale(4.15 1.54)"/>
<use href="#gT" fill="#d03c3c" transform="translate(188.31 292.58) scale(4.15 4.77)"/>
<use href="#gA" fill="#4dae4b" transform="translate(188.31 297.35) scale(4.15 1.16)"/>
<use href="#gG" fill="#eba23e" transform="translate(188.31 298.5) scale(4.15 1.16)"/>
<use href="#gA" fill="#4dae4b" transform="translate(150.24 303.7) scale(4.15 3.85)"/>
<use href="#gC" fill="#2d3f97" transform="translate(150.24 307.55) scale(4.15 1.08)"/>
<use href="#gG" fill="#eba23e" transform="translate(150.24 308.62) scale(4.15 1.08)"/>
<use href="#gT" fill="#d03c3c" transform="translate(150.24 309.7) scale(4.15 1.08)"/>
<use href="#gA" fill="#4dae4b" transform="translate(154.47 303.7) scale(4.15 3.85)"/>
<use href="#gG" fill="#eba23e" transform="translate(154.47 307.55) scale(4.15 1.08)"/>
<use href="#gC" fill="#2d3f97" transform="translate(154.47 308.62) scale(4.15 1.08)"/>
<use href="#gT" fill="#d03c3c" transform="translate(154.47 309.7) scale(4.15 1.08)"/>
<use href="#gC" fill="#2d3f97" transform="translate(158.7 303.7) scale(4.15 4.77)"/>
<use href="#gG" fill="#eba23e" transform="translate(158.7 308.47) scale(4.15 2.31)"/>
<use href="#gC" fill="#2d3f97" transform="translate(162.93 303.7) scale(4.15 4.77)"/>
<use href="#gT" fill="#d03c3c" transform="translate(162.93 308.47) scale(4.15 2.31)"/>
<use href="#gG" fill="#eba23e" transform="translate(167.16 303.47) scale(4.15 7.31)"/>
<use href="#gG" fill="#eba23e" transform="translate(171.39 303.47) scale(4.15 7.31)"/>
<use href="#gA" fill="#4dae4b" transform="translate(175.62 303.47) scale(4.15 7.31)"/>
<use href="#gA" fill="#4dae4b" transform="translate(179.85 303.47) scale(4.15 7.31)"/>
<use href="#gG" fill="#eba23e" transform="translate(184.08 303.7) scale(4.15 4.77)"/>
<use href="#gT" fill="#d03c3c" transform="translate(184.08 308.47) scale(4.15 2.31)"/>
<use href="#gT" fill="#d03c3c" transform="translate(188.31 303.7) scale(4.15 4.77)"/>
<use href="#gC" fill="#2d3f97" transform="translate(188.31 308.47) scale(4.15 1.16)"/>
<use href="#gA" fill="#4dae4b" transform="translate(188.31 309.62) scale(4.15 1.16)"/>
<use href="#gC" fill="#2d3f97" transform="translate(150.24 315.74) scale(3.77 1.54)"/>
<use href="#gA" fill="#4dae4b" transform="translate(150.24 317.28) scale(3.77 1.54)"/>
<use href="#gG" fill="#eba23e" transform="translate(150.24 318.82) scale(3.77 1.54)"/>
<use href="#gT" fill="#d03c3c" transform="translate(150.24 320.36) scale(3.77 1.54)"/>
<use href="#gG" fill="#eba23e" transform="translate(154.09 315.74) scale(3.77 1.54)"/>
<use href="#gT" fill="#d03c3c" transform="translate(154.09 317.28) scale(3.77 1.54)"/>
<use href="#gA" fill="#4dae4b" transform="translate(154.09 318.82) scale(3.77 1.54)"/>
<use href="#gC" fill="#2d3f97" transform="translate(154.09 320.36) scale(3.77 1.54)"/>
<use href="#gA" fill="#4dae4b" transform="translate(157.93 314.82) scale(3.77 4.77)"/>
<use href="#gC" fill="#2d3f97" transform="translate(157.93 319.59) scale(3.77 2.31)"/>
<use href="#gC" fill="#2d3f97" transform="translate(161.78 314.82) scale(3.77 4.77)"/>
<use href="#gT" fill="#d03c3c" transform="translate(161.78 319.59) scale(3.77 1.16)"/>
<use href="#gG" fill="#eba23e" transform="translate(161.78 320.74) scale(3.77 1.16)"/>
<use href="#gT" fill="#d03c3c" transform="translate(165.62 314.58) scale(3.77 7.31)"/>
<use href="#gT" fill="#d03c3c" transform="translate(169.47 314.58) scale(3.77 7.31)"/>
<use href="#gC" fill="#2d3f97" transform="translate(173.31 314.58) scale(3.77 7.31)"/>
<use href="#gC" fill="#2d3f97" transform="translate(177.16 314.58) scale(3.77 7.31)"/>
<use href="#gT" fill="#d03c3c" transform="translate(181 314.82) scale(3.77 4.77)"/>
<use href="#gG" fill="#eba23e" transform="translate(181 319.59) scale(3.77 2.31)"/>
<use href="#gG" fill="#eba23e" transform="translate(184.85 315.74) scale(3.77 1.54)"/>
<use href="#gA" fill="#4dae4b" transform="translate(184.85 317.28) scale(3.77 1.54)"/>
<use href="#gC" fill="#2d3f97" transform="translate(184.85 318.82) scale(3.77 1.54)"/>
<use href="#gT" fill="#d03c3c" transform="translate(184.85 320.36) scale(3.77 1.54)"/>
<use href="#gT" fill="#d03c3c" transform="translate(188.69 315.74) scale(3.77 1.54)"/>
<use href="#gG" fill="#eba23e" transform="translate(188.69 317.28) scale(3.77 1.54)"/>
<use href="#gC" fill="#2d3f97" transform="translate(188.69 318.82) scale(3.77 1.54)"/>
<use href="#gA" fill="#4dae4b" transform="translate(188.69 320.36) scale(3.77 1.54)"/>
<use href="#gA" fill="#4dae4b" transform="translate(150.24 325.94) scale(4.15 4.77)"/>
<use href="#gC" fill="#2d3f97" transform="translate(150.24 330.71) scale(4.15 2.31)"/>
<use href="#gC" fill="#2d3f97" transform="translate(154.47 325.94) scale(4.15 4.77)"/>
<use href="#gA" fill="#4dae4b" transform="translate(154.47 330.71) scale(4.15 2.31)"/>
<use href="#gA" fill="#4dae4b" transform="translate(158.7 325.7) scale(4.15 7.31)"/>
<use href="#gG" fill="#eba23e" transform="translate(162.93 325.7) scale(4.15 7.31)"/>
<use href="#gG" fill="#eba23e" transform="translate(167.16 325.7) scale(4.15 7.31)"/>
<use href="#gA" fill="#4dae4b" transform="translate(171.39 325.7) scale(4.15 7.31)"/>
<use href="#gA" fill="#4dae4b" transform="translate(175.62 325.7) scale(4.15 7.31)"/>
<use href="#gG" fill="#eba23e" transform="translate(179.85 325.94) scale(4.15 4.77)"/>
<use href="#gT" fill="#d03c3c" transform="translate(179.85 330.71) scale(4.15 2.31)"/>
<use href="#gT" fill="#d03c3c" transform="translate(184.08 325.94) scale(4.15 4.77)"/>
<use href="#gC" fill="#2d3f97" transform="translate(184.08 330.71) scale(4.15 2.31)"/>
<use href="#gG" fill="#eba23e" transform="translate(188.31 325.94) scale(4.15 4.77)"/>
<use href="#gC" fill="#2d3f97" transform="translate(188.31 330.71) scale(4.15 1.16)"/>
<use href="#gA" fill="#4dae4b" transform="translate(188.31 331.86) scale(4.15 1.16)"/>
<use href="#gA" fill="#4dae4b" transform="translate(150.24 337.06) scale(4.15 4.77)"/>
<use href="#gG" fill="#eba23e" transform="translate(150.24 341.83) scale(4.15 2.31)"/>
<use href="#gC" fill="#2d3f97" transform="translate(154.47 336.82) scale(4.15 7.31)"/>
<use href="#gC" fill="#2d3f97" transform="translate(158.7 336.82) scale(4.15 7.31)"/>
<use href="#gG" fill="#eba23e" transform="translate(162.93 336.82) scale(4.15 7.31)"/>
<use href="#gG" fill="#eba23e" transform="translate(167.16 336.82) scale(4.15 7.31)"/>
<use href="#gA" fill="#4dae4b" transform="translate(171.39 336.82) scale(4.15 7.31)"/>
<use href="#gA" fill="#4dae4b" transform="translate(175.62 336.82) scale(4.15 7.31)"/>
<use href="#gG" fill="#eba23e" transform="translate(179.85 337.06) scale(4.15 4.77)"/>
<use href="#gT" fill="#d03c3c" transform="translate(179.85 341.83) scale(4.15 2.31)"/>
<use href="#gT" fill="#d03c3c" transform="translate(184.08 337.06) scale(4.15 4.77)"/>
<use href="#gC" fill="#2d3f97" transform="translate(184.08 341.83) scale(4.15 2.31)"/>
<use href="#gG" fill="#eba23e" transform="translate(188.31 337.06) scale(4.15 4.77)"/>
<use href="#gC" fill="#2d3f97" transform="translate(188.31 341.83) scale(4.15 1.16)"/>
<use href="#gA" fill="#4dae4b" transform="translate(188.31 342.98) scale(4.15 1.16)"/>
<use href="#gA" fill="#4dae4b" transform="translate(150.24 349.1) scale(2.15 1.54)"/>
<use href="#gT" fill="#d03c3c" transform="translate(150.24 350.64) scale(2.15 1.54)"/>
<use href="#gG" fill="#eba23e" transform="translate(150.24 352.18) scale(2.15 1.54)"/>
<use href="#gC" fill="#2d3f97" transform="translate(150.24 353.72) scale(2.15 1.54)"/>
<use href="#gT" fill="#d03c3c" transform="translate(152.47 349.1) scale(2.15 1.54)"/>
<use href="#gA" fill="#4dae4b" transform="translate(152.47 350.64) scale(2.15 1.54)"/>
<use href="#gC" fill="#2d3f97" transform="translate(152.47 352.18) scale(2.15 1.54)"/>
<use href="#gG" fill="#eba23e" transform="translate(152.47 353.72) scale(2.15 1.54)"/>
<use href="#gG" fill="#eba23e" transform="translate(154.69 349.1) scale(2.15 1.54)"/>
<use href="#gC" fill="#2d3f97" transform="translate(154.69 350.64) scale(2.15 1.54)"/>
<use href="#gA" fill="#4dae4b" transform="translate(154.69 352.18) scale(2.15 1.54)"/>
<use href="#gT" fill="#d03c3c" transform="translate(154.69 353.72) scale(2.15 1.54)"/>
<use href="#gT" fill="#d03c3c" transform="translate(156.92 349.1) scale(2.15 1.54)"/>
<use href="#gG" fill="#eba23e" transform="translate(156.92 350.64) scale(2.15 1.54)"/>
<use href="#gC" fill="#2d3f97" transform="translate(156.92 352.18) scale(2.15 1.54)"/>
<use href="#gA" fill="#4dae4b" transform="translate(156.92 353.72) scale(2.15 1.54)"/>
<use href="#gC" fill="#2d3f97" transform="translate(159.15 349.1) scale(2.15 1.54)"/>
<use href="#gG" fill="#eba23e" transform="translate(159.15 350.64) scale(2.15 1.54)"/>
<use href="#gA" fill="#4dae4b" transform="translate(159.15 352.18) scale(2.15 1.54)"/>
<use href="#gT" fill="#d03c3c" transform="translate(159.15 353.72) scale(2.15 1.54)"/>
<use href="#gA" fill="#4dae4b" transform="translate(161.37 349.1) scale(2.15 1.54)"/>
<use href="#gG" fill="#eba23e" transform="translate(161.37 350.64) scale(2.15 1.54)"/>
<use href="#gT" fill="#d03c3c" transform="translate(161.37 352.18) scale(2.15 1.54)"/>
<use href="#gC" fill="#2d3f97" transform="translate(161.37 353.72) scale(2.15 1.54)"/>
<use href="#gG" fill="#eba23e" transform="translate(163.6 349.1) scale(2.15 1.54)"/>
<use href="#gC" fill="#2d3f97" transform="translate(163.6 350.64) scale(2.15 1.54)"/>
<use href="#gT" fill="#d03c3c" transform="translate(163.6 352.18) scale(2.15 1.54)"/>
<use href="#gA" fill="#4dae4b" transform="translate(163.6 353.72) scale(2.15 1.54)"/>
<use href="#gA" fill="#4dae4b" transform="translate(165.82 349.1) scale(2.15 1.54)"/>
<use href="#gC" fill="#2d3f97" transform="translate(165.82 350.64) scale(2.15 1.54)"/>
<use href="#gG" fill="#eba23e" transform="translate(165.82 352.18) scale(2.15 1.54)"/>
<use href="#gT" fill="#d03c3c" transform="translate(165.82 353.72) scale(2.15 1.54)"/>
<use href="#gT" fill="#d03c3c" transform="translate(168.05 349.1) scale(2.15 1.54)"/>
<use href="#gC" fill="#2d3f97" transform="translate(168.05 350.64) scale(2.15 1.54)"/>
<use href="#gG" fill="#eba23e" transform="translate(168.05 352.18) scale(2.15 1.54)"/>
<use href="#gA" fill="#4dae4b" transform="translate(168.05 353.72) scale(2.15 1.54)"/>
<use href="#gC" fill="#2d3f97" transform="translate(170.28 349.1) scale(2.15 1.54)"/>
<use href="#gT" fill="#d03c3c" transform="translate(170.28 350.64) scale(2.15 1.54)"/>
<use href="#gA" fill="#4dae4b" transform="translate(170.28 352.18) scale(2.15 1.54)"/>
<use href="#gG" fill="#eba23e" transform="translate(170.28 353.72) scale(2.15 1.54)"/>
<use href="#gG" fill="#eba23e" transform="translate(172.5 349.1) scale(2.15 1.54)"/>
<use href="#gA" fill="#4dae4b" transform="translate(172.5 350.64) scale(2.15 1.54)"/>
<use href="#gT" fill="#d03c3c" transform="translate(172.5 352.18) scale(2.15 1.54)"/>
<use href="#gC" fill="#2d3f97" transform="translate(172.5 353.72) scale(2.15 1.54)"/>
<use href="#gT" fill="#d03c3c" transform="translate(174.73 349.1) scale(2.15 1.54)"/>
<use href="#gG" fill="#eba23e" transform="translate(174.73 350.64) scale(2.15 1.54)"/>
<use href="#gA" fill="#4dae4b" transform="translate(174.73 352.18) scale(2.15 1.54)"/>
<use href="#gC" fill="#2d3f97" transform="translate(174.73 353.72) scale(2.15 1.54)"/>
<use href="#gC" fill="#2d3f97" transform="translate(176.96 349.1) scale(2.15 1.54)"/>
<use href="#gT" fill="#d03c3c" transform="translate(176.96 350.64) scale(2.15 1.54)"/>
<use href="#gG" fill="#eba23e" transform="translate(176.96 352.18) scale(2.15 1.54)"/>
<use href="#gA" fill="#4dae4b" transform="translate(176.96 353.72) scale(2.15 1.54)"/>
<use href="#gA" fill="#4dae4b" transform="translate(179.18 349.1) scale(2.15 1.54)"/>
<use href="#gC" fill="#2d3f97" transform="translate(179.18 350.64) scale(2.15 1.54)"/>
<use href="#gT" fill="#d03c3c" transform="translate(179.18 352.18) scale(2.15 1.54)"/>
<use href="#gG" fill="#eba23e" transform="translate(179.18 353.72) scale(2.15 1.54)"/>
<use href="#gG" fill="#eba23e" transform="translate(181.41 349.1) scale(2.15 1.54)"/>
<use href="#gT" fill="#d03c3c" transform="translate(181.41 350.64) scale(2.15 1.54)"/>
<use href="#gC" fill="#2d3f97" transform="translate(181.41 352.18) scale(2.15 1.54)"/>
<use href="#gA" fill="#4dae4b" transform="translate(181.41 353.72) scale(2.15 1.54)"/>
<use href="#gT" fill="#d03c3c" transform="translate(183.63 349.1) scale(2.15 1.54)"/>
<use href="#gC" fill="#2d3f97" transform="translate(183.63 350.64) scale(2.15 1.54)"/>
<use href="#gA" fill="#4dae4b" transform="translate(183.63 352.18) scale(2.15 1.54)"/>
<use href="#gG" fill="#eba23e" transform="translate(183.63 353.72) scale(2.15 1.54)"/>
<use href="#gA" fill="#4dae4b" transform="translate(185.86 349.1) scale(2.15 1.54)"/>
<use href="#gG" fill="#eba23e" transform="translate(185.86 350.64) scale(2.15 1.54)"/>
<use href="#gC" fill="#2d3f97" transform="translate(185.86 352.18) scale(2.15 1.54)"/>
<use href="#gT" fill="#d03c3c" transform="translate(185.86 353.72) scale(2.15 1.54)"/>
<use href="#gC" fill="#2d3f97" transform="translate(188.09 349.1) scale(2.15 1.54)"/>
<use href="#gG" fill="#eba23e" transform="translate(188.09 350.64) scale(2.15 1.54)"/>
<use href="#gT" fill="#d03c3c" transform="translate(188.09 352.18) scale(2.15 1.54)"/>
<use href="#gA" fill="#4dae4b" transform="translate(188.09 353.72) scale(2.15 1.54)"/>
<use href="#gC" fill="#2d3f97" transform="translate(190.31 349.1) scale(2.15 1.54)"/>
<use href="#gA" fill="#4dae4b" transform="translate(190.31 350.64) scale(2.15 1.54)"/>
<use href="#gT" fill="#d03c3c" transform="translate(190.31 352.18) scale(2.15 1.54)"/>
<use href="#gG" fill="#eba23e" transform="translate(190.31 353.72) scale(2.15 1.54)"/>
<use href="#gG" fill="#eba23e" transform="translate(150.24 360.22) scale(4.15 1.54)"/>
<use href="#gC" fill="#2d3f97" transform="translate(150.24 361.76) scale(4.15 1.54)"/>
<use href="#gA" fill="#4dae4b" transform="translate(150.24 363.3) scale(4.15 1.54)"/>
<use href="#gT" fill="#d03c3c" transform="translate(150.24 364.84) scale(4.15 1.54)"/>
<use href="#gA" fill="#4dae4b" transform="translate(154.47 359.3) scale(4.15 4.77)"/>
<use href="#gC" fill="#2d3f97" transform="translate(154.47 364.07) scale(4.15 1.16)"/>
<use href="#gG" fill="#eba23e" transform="translate(154.47 365.22) scale(4.15 1.16)"/>
<use href="#gC" fill="#2d3f97" transform="translate(158.7 359.06) scale(4.15 7.31)"/>
<use href="#gA" fill="#4dae4b" transform="translate(162.93 359.06) scale(4.15 7.31)"/>
<use href="#gG" fill="#eba23e" transform="translate(167.16 359.06) scale(4.15 7.31)"/>
<use href="#gG" fill="#eba23e" transform="translate(171.39 359.06) scale(4.15 7.31)"/>
<use href="#gA" fill="#4dae4b" transform="translate(175.62 359.06) scale(4.15 7.31)"/>
<use href="#gA" fill="#4dae4b" transform="translate(179.85 359.06) scale(4.15 7.31)"/>
<use href="#gA" fill="#4dae4b" transform="translate(184.08 359.06) scale(4.15 7.31)"/>
<use href="#gT" fill="#d03c3c" transform="translate(188.31 359.3) scale(4.15 4.77)"/>
<use href="#gC" fill="#2d3f97" transform="translate(188.31 364.07) scale(4.15 1.16)"/>
<use href="#gG" fill="#eba23e" transform="translate(188.31 365.22) scale(4.15 1.16)"/>
<use href="#gA" fill="#4dae4b" transform="translate(150.24 370.42) scale(4.15 3.85)"/>
<use href="#gC" fill="#2d3f97" transform="translate(150.24 374.27) scale(4.15 1.08)"/>
<use href="#gG" fill="#eba23e" transform="translate(150.24 375.34) scale(4.15 1.08)"/>
<use href="#gT" fill="#d03c3c" transform="translate(150.24 376.42) scale(4.15 1.08)"/>
<use href="#gA" fill="#4dae4b" transform="translate(154.47 371.34) scale(4.15 1.54)"/>
<use href="#gC" fill="#2d3f97" transform="translate(154.47 372.88) scale(4.15 1.54)"/>
<use href="#gG" fill="#eba23e" transform="translate(154.47 374.42) scale(4.15 1.54)"/>
<use href="#gT" fill="#d03c3c" transform="translate(154.47 375.96) scale(4.15 1.54)"/>
<use href="#gC" fill="#2d3f97" transform="translate(158.7 370.19) scale(4.15 7.31)"/>
<use href="#gC" fill="#2d3f97" transform="translate(162.93 370.19) scale(4.15 7.31)"/>
<use href="#gG" fill="#eba23e" transform="translate(167.16 370.19) scale(4.15 7.31)"/>
<use href="#gG" fill="#eba23e" transform="translate(171.39 370.19) scale(4.15 7.31)"/>
<use href="#gA" fill="#4dae4b" transform="translate(175.62 370.19) scale(4.15 7.31)"/>
<use href="#gA" fill="#4dae4b" transform="translate(179.85 370.19) scale(4.15 7.31)"/>
<use href="#gG" fill="#eba23e" transform="translate(184.08 370.19) scale(4.15 7.31)"/>
<use href="#gT" fill="#d03c3c" transform="translate(188.31 370.42) scale(4.15 4.77)"/>
<use href="#gC" fill="#2d3f97" transform="translate(188.31 375.19) scale(4.15 1.16)"/>
<use href="#gA" fill="#4dae4b" transform="translate(188.31 376.34) scale(4.15 1.16)"/>
<use href="#gA" fill="#4dae4b" transform="translate(150.24 381.54) scale(4.15 4.77)"/>
<use href="#gT" fill="#d03c3c" transform="translate(150.24 386.31) scale(4.15 2.31)"/>
<use href="#gC" fill="#2d3f97" transform="translate(154.47 382.46) scale(4.15 1.54)"/>
<use href="#gG" fill="#eba23e" transform="translate(154.47 384) scale(4.15 1.54)"/>
<use href="#gA" fill="#4dae4b" transform="translate(154.47 385.54) scale(4.15 1.54)"/>
<use href="#gT" fill="#d03c3c" transform="translate(154.47 387.08) scale(4.15 1.54)"/>
<use href="#gC" fill="#2d3f97" transform="translate(158.7 382.46) scale(4.15 1.54)"/>
<use href="#gG" fill="#eba23e" transform="translate(158.7 384) scale(4.15 1.54)"/>
<use href="#gT" fill="#d03c3c" transform="translate(158.7 385.54) scale(4.15 1.54)"/>
<use href="#gA" fill="#4dae4b" transform="translate(158.7 387.08) scale(4.15 1.54)"/>
<use href="#gA" fill="#4dae4b" transform="translate(162.93 381.54) scale(4.15 4.77)"/>
<use href="#gC" fill="#2d3f97" transform="translate(162.93 386.31) scale(4.15 2.31)"/>
<use href="#gG" fill="#eba23e" transform="translate(167.16 381.31) scale(4.15 7.31)"/>
<use href="#gG" fill="#eba23e" transform="translate(171.39 381.31) scale(4.15 7.31)"/>
<use href="#gA" fill="#4dae4b" transform="translate(175.62 381.31) scale(4.15 7.31)"/>
<use href="#gA" fill="#4dae4b" transform="translate(179.85 381.31) scale(4.15 7.31)"/>
<use href="#gG" fill="#eba23e" transform="translate(184.08 381.31) scale(4.15 7.31)"/>
<use href="#gT" fill="#d03c3c" transform="translate(188.31 381.31) scale(4.15 7.31)"/>
<use href="#gA" fill="#4dae4b" transform="translate(150.24 392.66) scale(4.15 4.77)"/>
<use href="#gT" fill="#d03c3c" transform="translate(150.24 397.43) scale(4.15 2.31)"/>
<use href="#gC" fill="#2d3f97" transform="translate(154.47 393.58) scale(4.15 1.54)"/>
<use href="#gG" fill="#eba23e" transform="translate(154.47 395.12) scale(4.15 1.54)"/>
<use href="#gA" fill="#4dae4b" transform="translate(154.47 396.66) scale(4.15 1.54)"/>
<use href="#gT" fill="#d03c3c" transform="translate(154.47 398.2) scale(4.15 1.54)"/>
<use href="#gC" fill="#2d3f97" transform="translate(158.7 393.58) scale(4.15 1.54)"/>
<use href="#gG" fill="#eba23e" transform="translate(158.7 395.12) scale(4.15 1.54)"/>
<use href="#gT" fill="#d03c3c" transform="translate(158.7 396.66) scale(4.15 1.54)"/>
<use href="#gA" fill="#4dae4b" transform="translate(158.7 398.2) scale(4.15 1.54)"/>
<use href="#gA" fill="#4dae4b" transform="translate(162.93 392.66) scale(4.15 4.77)"/>
<use href="#gC" fill="#2d3f97" transform="translate(162.93 397.43) scale(4.15 2.31)"/>
<use href="#gG" fill="#eba23e" transform="translate(167.16 392.43) scale(4.15 7.31)"/>
<use href="#gG" fill="#eba23e" transform="translate(171.39 392.43) scale(4.15 7.31)"/>
<use href="#gA" fill="#4dae4b" transform="translate(175.62 392.43) scale(4.15 7.31)"/>
<use href="#gA" fill="#4dae4b" transform="translate(179.85 392.43) scale(4.15 7.31)"/>
<use href="#gG" fill="#eba23e" transform="translate(184.08 392.66) scale(4.15 4.77)"/>
<use href="#gT" fill="#d03c3c" transform="translate(184.08 397.43) scale(4.15 2.31)"/>
<use href="#gT" fill="#d03c3c" transform="translate(188.31 392.66) scale(4.15 4.77)"/>
<use href="#gC" fill="#2d3f97" transform="translate(188.31 397.43) scale(4.15 1.16)"/>
<use href="#gA" fill="#4dae4b" transform="translate(188.31 398.58) scale(4.15 1.16)"/>
<use href="#gA" fill="#4dae4b" transform="translate(150.24 403.55) scale(4.15 7.31)"/>
<use href="#gG" fill="#eba23e" transform="translate(154.47 403.78) scale(4.15 4.77)"/>
<use href="#gA" fill="#4dae4b" transform="translate(154.47 408.55) scale(4.15 2.31)"/>
<use href="#gA" fill="#4dae4b" transform="translate(158.7 403.55) scale(4.15 7.31)"/>
<use href="#gG" fill="#eba23e" transform="translate(162.93 403.55) scale(4.15 7.31)"/>
<use href="#gG" fill="#eba23e" transform="translate(167.16 403.55) scale(4.15 7.31)"/>
<use href="#gA" fill="#4dae4b" transform="translate(171.39 403.55) scale(4.15 7.31)"/>
<use href="#gA" fill="#4dae4b" transform="translate(175.62 403.55) scale(4.15 7.31)"/>
<use href="#gG" fill="#eba23e" transform="translate(179.85 403.55) scale(4.15 7.31)"/>
<use href="#gT" fill="#d03c3c" transform="translate(184.08 403.55) scale(4.15 7.31)"/>
<use href="#gG" fill="#eba23e" transform="translate(188.31 403.78) scale(4.15 4.77)"/>
<use href="#gA" fill="#4dae4b" transform="translate(188.31 408.55) scale(4.15 2.31)"/>
<path d="M322.5,345.2 L334.86,311.6 A35.8,35.8 0 1 1 322.5,309.4 Z" fill="#9dbfe1" stroke="#ffffff" stroke-width="1"/>
<path d="M322.5,345.2 L322.5,309.4 A35.8,35.8 0 0 1 334.86,311.6 Z" fill="#d9d1d4" stroke="#ffffff" stroke-width="1"/>
<text x="322.6" y="359.9" font-size="6.5" text-anchor="middle" fill="#231f20" textLength="42.5" lengthAdjust="spacingAndGlyphs" stroke="#231f20" stroke-width="0.1">Prdm16-binding</text>
<text x="322.6" y="367.3" font-size="6.5" text-anchor="middle" fill="#231f20" textLength="10.5" lengthAdjust="spacingAndGlyphs" stroke="#231f20" stroke-width="0.1">95%</text>
<text x="322.6" y="388" font-size="6.5" text-anchor="middle" fill="#231f20" textLength="41" lengthAdjust="spacingAndGlyphs" stroke="#231f20" stroke-width="0.1">Super-enhancer</text>
<text x="322.6" y="395.6" font-size="6.5" text-anchor="middle" fill="#231f20" textLength="45.2" lengthAdjust="spacingAndGlyphs" stroke="#231f20" stroke-width="0.1">total 739 regions</text>
<ellipse cx="411.2" cy="339" rx="31.5" ry="28.6" fill="#d9d1d3"/>
<ellipse cx="442.5" cy="338.9" rx="31" ry="29.1" fill="#93bbdf"/>
<clipPath id="c502"><ellipse cx="411.2" cy="339" rx="31.5" ry="28.6"/></clipPath>
<ellipse cx="442.5" cy="338.9" rx="31" ry="29.1" fill="#7b9dc1" clip-path="url(#c502)"/>
<text x="396.7" y="329.6" font-size="6.5" text-anchor="middle" fill="#231f20" textLength="22.5" lengthAdjust="spacingAndGlyphs" stroke="#231f20" stroke-width="0.1">Prdm16s</text>
<text x="396.7" y="337.1" font-size="6.5" text-anchor="middle" fill="#231f20" textLength="23.5" lengthAdjust="spacingAndGlyphs" stroke="#231f20" stroke-width="0.1">Cut&amp;Run</text>
<text x="396.7" y="344.6" font-size="6.5" text-anchor="middle" fill="#231f20" textLength="13" lengthAdjust="spacingAndGlyphs" stroke="#231f20" stroke-width="0.1">total</text>
<text x="396.7" y="352.1" font-size="6.5" text-anchor="middle" fill="#231f20" textLength="18" lengthAdjust="spacingAndGlyphs" stroke="#231f20" stroke-width="0.1">12,337</text>
<text x="426.5" y="336.7" font-size="6.5" text-anchor="middle" fill="#231f20" textLength="21.4" lengthAdjust="spacingAndGlyphs" stroke="#231f20" stroke-width="0.1">Overlap</text>
<text x="426.5" y="344.2" font-size="6.5" text-anchor="middle" fill="#231f20" textLength="15.5" lengthAdjust="spacingAndGlyphs" stroke="#231f20" stroke-width="0.1">6,799</text>
<text x="458.1" y="329.6" font-size="6.5" text-anchor="middle" fill="#231f20" textLength="16.1" lengthAdjust="spacingAndGlyphs" stroke="#231f20" stroke-width="0.1">L-MEP</text>
<text x="458.1" y="337.1" font-size="6.5" text-anchor="middle" fill="#231f20" textLength="24.8" lengthAdjust="spacingAndGlyphs" stroke="#231f20" stroke-width="0.1">Enhancer</text>
<text x="458.1" y="344.6" font-size="6.5" text-anchor="middle" fill="#231f20" textLength="13" lengthAdjust="spacingAndGlyphs" stroke="#231f20" stroke-width="0.1">total</text>
<text x="458.1" y="352.1" font-size="6.5" text-anchor="middle" fill="#231f20" textLength="16.5" lengthAdjust="spacingAndGlyphs" stroke="#231f20" stroke-width="0.1">11,951</text>
<rect x="336" y="33.6" width="26.4" height="74.4" fill="#f7f0e3"/>
<rect x="406.8" y="33.6" width="24.8" height="74.4" fill="#f7f0e3"/>
<rect x="337.2" y="108.3" width="25.2" height="25.9" fill="#f7f0e3"/>
<rect x="406.8" y="108.3" width="24.8" height="25.9" fill="#f7f0e3"/>
<text x="338.2" y="21.1" font-size="6" text-anchor="start" fill="#231f20" textLength="23.7" lengthAdjust="spacingAndGlyphs" stroke="#231f20" stroke-width="0.1">Enhancer</text>
<text x="340.5" y="27.6" font-size="6" text-anchor="start" fill="#231f20" textLength="19.1" lengthAdjust="spacingAndGlyphs" stroke="#231f20" stroke-width="0.1">(-14kb)</text>
<text x="407.3" y="27.9" font-size="6" text-anchor="start" fill="#231f20" textLength="24.3" lengthAdjust="spacingAndGlyphs" stroke="#231f20" stroke-width="0.1">Promoter</text>
<path d="M336,46.1 L336,43.43 L336.3,43.72 L336.6,44 L336.9,44.15 L337.2,44.14 L337.5,44.03 L337.8,43.93 L338.1,43.92 L338.4,43.99 L338.7,44.08 L339,44.04 L339.3,43.83 L339.6,43.45 L339.9,43.04 L340.2,42.75 L340.5,42.7 L340.8,42.91 L341.1,43.3 L341.4,43.55 L341.7,43.33 L342,42.97 L342.3,42.49 L342.6,41.97 L342.9,41.21 L343.2,40.03 L343.5,38.84 L343.8,37.63 L344.1,36.53 L344.4,35.66 L344.7,34.83 L345,34.03 L345.3,33.97 L345.6,33.92 L345.9,33.84 L346.2,34.01 L346.5,34.63 L346.8,35.19 L347.1,35.64 L347.4,36.23 L347.7,36.91 L348,37.71 L348.3,38.78 L348.6,39.68 L348.9,40.4 L349.2,40.96 L349.5,41.38 L349.8,41.77 L350.1,41.97 L350.4,42.28 L350.7,42.74 L351,43.29 L351.3,43.5 L351.6,43.59 L351.9,43.54 L352.2,43.45 L352.5,43.42 L352.8,43.49 L353.1,43.64 L353.4,43.8 L353.7,43.92 L354,44 L354.3,44.04 L354.6,44.01 L354.9,43.92 L355.2,43.8 L355.5,43.72 L355.8,43.67 L356.1,43.53 L356.4,43.28 L356.7,43.04 L357,43.01 L357.3,43.28 L357.6,43.68 L357.9,44.02 L358.2,44.19 L358.5,44.21 L358.8,44.16 L359.1,44.07 L359.4,44 L359.7,43.91 L360,43.73 L360.3,43.44 L360.6,43.04 L360.9,42.58 L361.2,42.17 L361.5,41.98 L361.8,42.14 L362.1,42.61 L362.4,43.17 L362.7,43.55 L363,43.66 L363.3,43.58 L363.6,43.5 L363.9,43.43 L364.2,43.33 L364.5,43.18 L364.8,43.05 L365.1,43.07 L365.4,43.19 L365.7,43.25 L366,43.11 L366.3,42.77 L366.6,42.35 L366.9,42 L367.2,41.84 L367.5,41.88 L367.8,42.11 L368.1,42.46 L368.4,42.85 L368.7,43.11 L369,43.16 L369.3,43.02 L369.6,42.9 L369.9,42.97 L370.2,43.23 L370.5,43.57 L370.8,43.87 L371.1,44.06 L371.4,44.12 L371.7,44.1 L372,44.05 L372.3,44.02 L372.6,43.99 L372.9,43.87 L373.2,43.67 L373.5,43.46 L373.8,43.39 L374.1,43.5 L374.4,43.64 L374.7,43.64 L375,43.43 L375.3,43.08 L375.6,42.73 L375.9,42.48 L376.2,42.45 L376.5,42.68 L376.8,43.1 L377.1,43.56 L377.4,43.93 L377.7,44.15 L378,44.24 L378.3,44.25 L378.6,44.16 L378.9,44.01 L379.2,43.81 L379.5,43.54 L379.8,43.15 L380.1,42.71 L380.4,42.42 L380.7,42.49 L381,42.86 L381.3,43.33 L381.6,43.63 L381.9,43.67 L382.2,43.49 L382.5,43.26 L382.8,43.15 L383.1,43.16 L383.4,43.14 L383.7,43.01 L384,42.87 L384.3,42.89 L384.6,43.09 L384.9,43.32 L385.2,43.49 L385.5,43.57 L385.8,43.66 L386.1,43.8 L386.4,43.97 L386.7,44.15 L387,44.27 L387.3,44.35 L387.6,44.38 L387.9,44.39 L388.2,44.4 L388.5,44.4 L388.8,44.36 L389.1,44.26 L389.4,44.05 L389.7,43.73 L390,43.4 L390.3,43.23 L390.6,43.34 L390.9,43.63 L391.2,43.93 L391.5,44.08 L391.8,44.06 L392.1,43.95 L392.4,43.86 L392.7,43.86 L393,43.94 L393.3,43.99 L393.6,43.94 L393.9,43.77 L394.2,43.5 L394.5,43.18 L394.8,42.89 L395.1,42.67 L395.4,42.57 L395.7,42.63 L396,42.81 L396.3,43.08 L396.6,43.39 L396.9,43.69 L397.2,43.91 L397.5,44.03 L397.8,44.06 L398.1,44.05 L398.4,44.06 L398.7,44.06 L399,44.01 L399.3,43.86 L399.6,43.68 L399.9,43.57 L400.2,43.56 L400.5,43.59 L400.8,43.59 L401.1,43.51 L401.4,43.4 L401.7,43.32 L402,43.26 L402.3,43.23 L402.6,43.24 L402.9,43.32 L403.2,43.5 L403.5,43.7 L403.8,43.84 L404.1,43.82 L404.4,43.67 L404.7,43.4 L405,43.07 L405.3,42.75 L405.6,42.61 L405.9,42.73 L406.2,43.07 L406.5,43.4 L406.8,43.53 L407.1,43.44 L407.4,43.3 L407.7,43.32 L408,43.54 L408.3,43.87 L408.6,44.14 L408.9,44.3 L409.2,44.37 L409.5,44.06 L409.8,43.55 L410.1,43.02 L410.4,42.48 L410.7,41.92 L411,41.32 L411.3,40.72 L411.6,40.12 L411.9,39.48 L412.2,38.81 L412.5,38.09 L412.8,37.31 L413.1,36.61 L413.4,35.95 L413.7,35.25 L414,34.51 L414.3,33.88 L414.6,33.38 L414.9,33.05 L415.2,32.77 L415.5,32.9 L415.8,32.87 L416.1,32.79 L416.4,32.94 L416.7,33.55 L417,34.13 L417.3,34.67 L417.6,35.24 L417.9,35.94 L418.2,36.63 L418.5,37.47 L418.8,38.16 L419.1,38.83 L419.4,39.47 L419.7,39.92 L420,40.19 L420.3,40.3 L420.6,40.52 L420.9,40.87 L421.2,41.28 L421.5,41.65 L421.8,41.96 L422.1,42.22 L422.4,42.46 L422.7,42.67 L423,42.89 L423.3,43.03 L423.6,43.16 L423.9,43.29 L424.2,43.41 L424.5,43.56 L424.8,43.71 L425.1,43.86 L425.4,43.96 L425.7,43.99 L426,43.98 L426.3,43.86 L426.6,43.81 L426.9,43.83 L427.2,43.81 L427.5,43.67 L427.8,43.45 L428.1,43.3 L428.4,43.29 L428.7,43.37 L429,43.44 L429.3,43.53 L429.6,43.69 L429.9,43.9 L430.2,44.09 L430.5,44.16 L430.8,44.14 L431.1,44.07 L431.4,44 L431.7,43.93 L432,43.82 L432.3,43.64 L432.6,43.44 L432.9,43.28 L433.2,43.23 L433.5,43.28 L433.8,43.41 L434.1,43.59 L434.4,43.78 L434.7,43.94 L435,44.06 L435.3,44.11 L435.6,44.11 L435.9,44.12 L436.2,44.13 L436.5,44.12 L436.8,44.01 L437.1,43.74 L437.4,43.39 L437.7,43.15 L438,43.17 L438.3,43.44 L438.6,43.78 L438.9,43.97 L439.2,43.95 L439.5,43.71 L439.8,43.33 L440.1,42.88 L440.4,42.48 L440.7,42.21 L441,42.14 L441.3,42.29 L441.6,42.62 L441.9,43.06 L442.2,43.48 L442.5,43.8 L442.8,43.97 L443.1,43.98 L443.4,43.86 L443.7,43.7 L444,43.56 L444.3,43.39 L444.6,43.17 L444.9,43 L445.2,43.02 L445.5,43.29 L445.8,43.66 L446.1,43.93 L446.4,44.04 L446.7,44.03 L447,43.99 L447.3,43.91 L447.6,43.8 L447.9,43.66 L448.2,43.59 L448.5,43.68 L448.8,43.89 L449.1,44.1 L449.4,44.23 L449.7,44.28 L450,44.27 L450.3,44.24 L450.6,44.16 L450.9,44.04 L451.2,43.85 L451.5,43.63 L451.8,43.45 L452.1,43.4 L452.4,43.49 L452.7,43.64 L453,43.7 L453.3,43.57 L453.6,43.3 L453.9,43.04 L454.2,42.99 L454.5,43.2 L454.8,43.57 L455.1,43.93 L455.4,44.18 L455.7,44.32 L456,44.37 L456.3,44.37 L456.6,44.33 L456.9,44.26 L457.2,44.16 L457.5,44.06 L457.8,43.94 L458.1,43.77 L458.4,43.53 L458.7,43.33 L459,43.32 L459.3,43.52 L459.6,43.79 L459.9,43.95 L460.2,43.88 L460.5,43.62 L460.8,43.34 L461.1,43.24 L461.4,43.41 L461.7,43.69 L462,43.9 L462.3,43.86 L462.6,43.59 L462.9,43.24 L463.2,43.03 L463.5,43.15 L463.8,43.5 L464.1,43.89 L464.4,44.16 L464.7,44.29 L465,44.33 L465.3,44.33 L465.6,44.29 L465.9,44.23 L466.2,44.16 L466.5,44.09 L466.8,44 L467.1,43.83 L467.4,43.56 L467.7,43.2 L468,42.89 L468.3,42.82 L468.6,43.01 L468.9,43.36 L469.2,43.68 L469.5,43.9 L469.8,44.05 L470.1,44.18 L470.4,44.26 L470.7,44.28 L471,44.2 L471.3,43.96 L471.6,43.6 L471.9,43.24 L472.2,43.09 L472.5,43.24 L472.8,43.58 L473.1,43.87 L473.4,43.98 L473.7,43.93 L474,43.85 L474.3,43.83 L474.6,43.94 L474.9,44.1 L475.2,44.24 L475.5,44.32 L475.8,44.36 L476.1,44.39 L476.4,44.39 L476.7,44.36 L477,44.28 L477.3,44.1 L477.6,43.82 L477.9,43.5 L478.2,43.3 L478.5,43.29 L478.8,43.38 L479.1,43.41 L479.4,43.37 L479.7,43.37 L480,43.52 L480.3,43.79 L480.6,43.99 L480.9,44.05 L481.2,43.94 L481.5,43.7 L481.8,43.39 L482.1,43.19 L482.4,43.24 L482.7,43.52 L483,43.87 L483.3,44.12 L483.6,44.22 L483.9,44.18 L484.2,44.07 L484.5,43.94 L484.8,43.85 L485.1,43.75 L485.4,43.58 L485.7,43.39 L486,43.3 L486.3,43.43 L486.6,43.71 L486.9,44 L487.2,44.2 L487.5,44.3 L487.8,44.32 L488.1,44.3 L488.4,44.23 L488.7,44.13 L489,43.97 L489.3,43.77 L489.6,43.56 L489.9,43.42 L490.2,43.41 L490.5,43.54 L490.8,43.74 L491.1,43.91 L491.4,43.99 L491.7,43.89 L492,43.63 L492.3,43.32 L492.6,43.17 L492.9,43.29 L493.2,43.59 L493.5,43.9 L493.8,44.02 L494.1,43.89 L494.4,43.57 L494.7,43.23 L495,43.03 L495.3,43.08 L495.6,43.3 L495.9,43.59 L496.2,43.85 L496.5,44.08 L496.8,44.25 L497.1,44.33 L497.4,44.35 L497.7,44.35 L498,44.3 L498.3,44.23 L498.6,44.18 L498.9,44.16 L499.2,44.18 L499.5,44.19 L499.8,44.17 L500.1,44.13 L500.4,44.08 L500.7,43.99 L501,43.78 L501.3,43.45 L501.6,43.15 L501.9,43.06 L502.2,43.27 L502.5,43.64 L502.8,43.98 L503.1,44.16 L503.4,44.23 L503.7,44.26 L504,44.28 L504.3,44.32 L504.6,44.35 L504.9,44.35 L505.2,44.3 L505.5,44.19 L505.8,44.03 L506.1,43.88 L506.4,43.84 L506.7,43.92 L507,44.06 L507.3,44.18 L507.6,44.22 L507.9,44.21 L508.2,44.21 L508.5,44.22 L508.8,44.24 L509.1,44.25 L509.4,44.17 L509.7,44.04 L510,43.81 L510.3,43.48 L510.6,43.15 L510.9,43.01 L511,46.1 Z" fill="#111111"/>
<path d="M336,68.7 L336,63.63 L336.3,59.92 L336.6,59.43 L336.9,59.45 L337.2,59.88 L337.5,60.49 L337.8,61.02 L338.1,61.33 L338.4,61.44 L338.7,61.35 L339,61.17 L339.3,60.93 L339.6,60.7 L339.9,60.55 L340.2,60.44 L340.5,60.35 L340.8,60.17 L341.1,59.87 L341.4,59.46 L341.7,59.07 L342,58.81 L342.3,58.71 L342.6,58.69 L342.9,58.68 L343.2,58.66 L343.5,58.71 L343.8,58.81 L344.1,58.89 L344.4,58.88 L344.7,58.69 L345,58.26 L345.3,57.59 L345.6,56.84 L345.9,56.29 L346.2,56.19 L346.5,56.52 L346.8,57.02 L347.1,57.44 L347.4,57.71 L347.7,57.77 L348,57.75 L348.3,57.71 L348.6,57.8 L348.9,57.96 L349.2,58.12 L349.5,58.12 L349.8,57.86 L350.1,57.42 L350.4,57.09 L350.7,57.13 L351,57.56 L351.3,58.2 L351.6,58.78 L351.9,59.15 L352.2,59.32 L352.5,59.38 L352.8,59.44 L353.1,59.52 L353.4,59.63 L353.7,59.76 L354,59.89 L354.3,60.02 L354.6,60.12 L354.9,60.17 L355.2,60.12 L355.5,59.94 L355.8,59.68 L356.1,59.4 L356.4,59.27 L356.7,59.27 L357,59.3 L357.3,59.29 L357.6,59.3 L357.9,59.5 L358.2,59.92 L358.5,60.42 L358.8,60.81 L359.1,60.95 L359.4,60.84 L359.7,60.59 L360,60.43 L360.3,60.48 L360.6,60.76 L360.9,61.08 L361.2,61.19 L361.5,61.03 L361.8,60.73 L362.1,60.59 L362.4,60.81 L362.7,61.35 L363,61.98 L363.3,62.47 L363.6,62.7 L363.9,62.67 L364.2,62.51 L364.5,62.33 L364.8,62.3 L365.1,62.5 L365.4,62.87 L365.7,63.22 L366,63.46 L366.3,63.54 L366.6,63.47 L366.9,63.36 L367.2,63.28 L367.5,63.33 L367.8,63.5 L368.1,63.74 L368.4,63.97 L368.7,64.09 L369,64.1 L369.3,64.07 L369.6,64.09 L369.9,64.19 L370.2,64.38 L370.5,64.53 L370.8,64.55 L371.1,64.4 L371.4,64.21 L371.7,64.14 L372,64.32 L372.3,64.71 L372.6,65.17 L372.9,65.33 L373.2,65.24 L373.5,64.99 L373.8,64.64 L374.1,64.23 L374.4,63.88 L374.7,63.67 L375,63.6 L375.3,63.59 L375.6,63.54 L375.9,63.41 L376.2,63.31 L376.5,63.39 L376.8,63.37 L377.1,63.35 L377.4,63.37 L377.7,63.41 L378,63.47 L378.3,63.56 L378.6,63.75 L378.9,64.06 L379.2,64.48 L379.5,64.9 L379.8,65.08 L380.1,65.1 L380.4,65.08 L380.7,65.07 L381,65.04 L381.3,64.98 L381.6,64.81 L381.9,64.48 L382.2,64.05 L382.5,63.68 L382.8,63.54 L383.1,63.71 L383.4,64.06 L383.7,64.41 L384,64.6 L384.3,64.6 L384.6,64.47 L384.9,64.31 L385.2,64.2 L385.5,64.24 L385.8,64.42 L386.1,64.61 L386.4,64.75 L386.7,64.8 L387,64.79 L387.3,64.74 L387.6,64.66 L387.9,64.54 L388.2,64.33 L388.5,64.04 L388.8,63.82 L389.1,63.8 L389.4,64.01 L389.7,64.3 L390,64.46 L390.3,64.39 L390.6,64.24 L390.9,64.2 L391.2,64.37 L391.5,64.67 L391.8,64.98 L392.1,65.21 L392.4,65.32 L392.7,65.35 L393,65.35 L393.3,65.31 L393.6,65.28 L393.9,65.24 L394.2,65.2 L394.5,65.12 L394.8,64.96 L395.1,64.76 L395.4,64.61 L395.7,64.55 L396,64.61 L396.3,64.65 L396.6,64.57 L396.9,64.37 L397.2,64.18 L397.5,64.14 L397.8,64.24 L398.1,64.34 L398.4,64.32 L398.7,64.21 L399,64.11 L399.3,64.09 L399.6,64.11 L399.9,64.11 L400.2,64.12 L400.5,64.26 L400.8,64.56 L401.1,64.93 L401.4,65.22 L401.7,65.39 L402,65.46 L402.3,65.47 L402.6,65.39 L402.9,65.24 L403.2,65.02 L403.5,64.77 L403.8,64.6 L404.1,64.59 L404.4,64.74 L404.7,64.96 L405,65.16 L405.3,65.24 L405.6,65.25 L405.9,65.23 L406.2,65.16 L406.5,65.08 L406.8,64.98 L407.1,64.87 L407.4,64.78 L407.7,64.73 L408,64.72 L408.3,64.73 L408.6,64.4 L408.9,63.42 L409.2,62.4 L409.5,61.36 L409.8,60.3 L410.1,59.33 L410.4,58.5 L410.7,57.72 L411,56.94 L411.3,56.16 L411.6,55.35 L411.9,54.53 L412.2,54.04 L412.5,54.23 L412.8,54.43 L413.1,54.63 L413.4,54.83 L413.7,55.03 L414,55.23 L414.3,55.43 L414.6,55.31 L414.9,55.04 L415.2,54.77 L415.5,54.47 L415.8,54.12 L416.1,53.64 L416.4,53.78 L416.7,53.77 L417,53.81 L417.3,54.12 L417.6,54.83 L417.9,55.83 L418.2,56.88 L418.5,57.7 L418.8,58.15 L419.1,58.41 L419.4,58.56 L419.7,58.54 L420,58.38 L420.3,58.17 L420.6,58.11 L420.9,58.32 L421.2,58.78 L421.5,59.34 L421.8,59.83 L422.1,60.07 L422.4,60.03 L422.7,59.78 L423,59.48 L423.3,59.38 L423.6,59.62 L423.9,60.18 L424.2,60.82 L424.5,61.35 L424.8,61.71 L425.1,61.99 L425.4,62.24 L425.7,62.48 L426,62.75 L426.3,63.03 L426.6,63.3 L426.9,63.54 L427.2,63.77 L427.5,63.99 L427.8,64.18 L428.1,64.28 L428.4,64.39 L428.7,64.5 L429,64.59 L429.3,64.67 L429.6,64.75 L429.9,64.83 L430.2,64.9 L430.5,64.96 L430.8,64.96 L431.1,64.92 L431.4,64.83 L431.7,64.8 L432,64.89 L432.3,65.06 L432.6,65.23 L432.9,65.35 L433.2,65.41 L433.5,65.46 L433.8,65.52 L434.1,65.61 L434.4,65.71 L434.7,65.8 L435,65.88 L435.3,65.89 L435.6,65.9 L435.9,65.9 L436.2,65.9 L436.5,65.89 L436.8,65.89 L437.1,65.88 L437.4,65.88 L437.7,65.87 L438,65.87 L438.3,65.87 L438.6,65.87 L438.9,65.88 L439.2,65.86 L439.5,65.8 L439.8,65.65 L440.1,65.36 L440.4,64.97 L440.7,64.61 L441,64.46 L441.3,64.61 L441.6,64.97 L441.9,65.36 L442.2,65.66 L442.5,65.82 L442.8,65.88 L443.1,65.88 L443.4,65.84 L443.7,65.77 L444,65.7 L444.3,65.62 L444.6,65.5 L444.9,65.36 L445.2,65.25 L445.5,65.25 L445.8,65.37 L446.1,65.55 L446.4,65.7 L446.7,65.75 L447,65.67 L447.3,65.47 L447.6,65.22 L447.9,65.03 L448.2,64.97 L448.5,65 L448.8,65.07 L449.1,65.11 L449.4,65.12 L449.7,65.16 L450,65.25 L450.3,65.37 L450.6,65.53 L450.9,65.67 L451.2,65.76 L451.5,65.79 L451.8,65.77 L452.1,65.73 L452.4,65.71 L452.7,65.7 L453,65.72 L453.3,65.75 L453.6,65.77 L453.9,65.75 L454.2,65.68 L454.5,65.58 L454.8,65.51 L455.1,65.52 L455.4,65.6 L455.7,65.71 L456,65.78 L456.3,65.82 L456.6,65.82 L456.9,65.85 L457.2,65.88 L457.5,65.92 L457.8,65.94 L458.1,65.92 L458.4,65.83 L458.7,65.65 L459,65.41 L459.3,65.16 L459.6,65.03 L459.9,65.05 L460.2,65.15 L460.5,65.22 L460.8,65.22 L461.1,65.19 L461.4,65.18 L461.7,65.19 L462,65.19 L462.3,65.16 L462.6,65.09 L462.9,64.98 L463.2,64.87 L463.5,64.83 L463.8,64.93 L464.1,65.15 L464.4,65.36 L464.7,65.38 L465,65.2 L465.3,64.92 L465.6,64.73 L465.9,64.73 L466.2,64.93 L466.5,65.13 L466.8,65.15 L467.1,64.96 L467.4,64.68 L467.7,64.54 L468,64.6 L468.3,64.81 L468.6,64.99 L468.9,65.06 L469.2,65.06 L469.5,65.09 L469.8,65.13 L470.1,65.1 L470.4,64.98 L470.7,64.86 L471,64.89 L471.3,65.1 L471.6,65.37 L471.9,65.58 L472.2,65.66 L472.5,65.63 L472.8,65.59 L473.1,65.62 L473.4,65.7 L473.7,65.82 L474,65.91 L474.3,65.95 L474.6,65.94 L474.9,65.93 L475.2,65.91 L475.5,65.92 L475.8,65.93 L476.1,65.92 L476.4,65.89 L476.7,65.85 L477,65.84 L477.3,65.87 L477.6,65.93 L477.9,65.99 L478.2,66.03 L478.5,66.05 L478.8,66.05 L479.1,66.05 L479.4,66.03 L479.7,66.01 L480,65.96 L480.3,65.86 L480.6,65.7 L480.9,65.54 L481.2,65.45 L481.5,65.47 L481.8,65.56 L482.1,65.64 L482.4,65.59 L482.7,65.41 L483,65.21 L483.3,65.12 L483.6,65.21 L483.9,65.43 L484.2,65.68 L484.5,65.86 L484.8,65.96 L485.1,65.99 L485.4,65.98 L485.7,65.88 L486,65.72 L486.3,65.52 L486.6,65.38 L486.9,65.36 L487.2,65.49 L487.5,65.7 L487.8,65.89 L488.1,66.01 L488.4,66.07 L488.7,66.1 L489,66.11 L489.3,66.11 L489.6,66.11 L489.9,66.09 L490.2,66.06 L490.5,65.96 L490.8,65.78 L491.1,65.54 L491.4,65.32 L491.7,65.2 L492,65.26 L492.3,65.41 L492.6,65.55 L492.9,65.61 L493.2,65.63 L493.5,65.66 L493.8,65.77 L494.1,65.87 L494.4,65.94 L494.7,65.94 L495,65.85 L495.3,65.71 L495.6,65.6 L495.9,65.59 L496.2,65.69 L496.5,65.81 L496.8,65.9 L497.1,65.88 L497.4,65.71 L497.7,65.45 L498,65.2 L498.3,65.09 L498.6,65.2 L498.9,65.47 L499.2,65.74 L499.5,65.94 L499.8,66.03 L500.1,66.02 L500.4,65.98 L500.7,65.92 L501,65.89 L501.3,65.89 L501.6,65.9 L501.9,65.92 L502.2,65.94 L502.5,65.94 L502.8,65.92 L503.1,65.81 L503.4,65.56 L503.7,65.23 L504,64.95 L504.3,64.9 L504.6,65.09 L504.9,65.43 L505.2,65.76 L505.5,65.98 L505.8,66.09 L506.1,66.12 L506.4,66.14 L506.7,66.14 L507,66.14 L507.3,66.15 L507.6,66.14 L507.9,66.12 L508.2,66.1 L508.5,66.1 L508.8,66.1 L509.1,66.12 L509.4,66.13 L509.7,66.15 L510,66.16 L510.3,66.18 L510.6,66.19 L510.9,66.2 L511,68.7 Z" fill="#e0382e"/>
<path d="M336,87.7 L336,86.07 L336.3,86.09 L336.6,86.1 L336.9,86.06 L337.2,85.98 L337.5,85.88 L337.8,85.81 L338.1,85.82 L338.4,85.89 L338.7,85.94 L339,85.92 L339.3,85.86 L339.6,85.85 L339.9,85.91 L340.2,86.02 L340.5,86.1 L340.8,86.13 L341.1,86.12 L341.4,86.09 L341.7,86.07 L342,86.05 L342.3,86.04 L342.6,86.02 L342.9,86.02 L343.2,86.06 L343.5,86.12 L343.8,86.15 L344.1,86.16 L344.4,86.12 L344.7,86.05 L345,85.99 L345.3,85.97 L345.6,85.99 L345.9,86.01 L346.2,85.99 L346.5,85.96 L346.8,85.97 L347.1,86.03 L347.4,86.11 L347.7,86.16 L348,86.19 L348.3,86.2 L348.6,86.2 L348.9,86.2 L349.2,86.2 L349.5,86.18 L349.8,86.15 L350.1,86.1 L350.4,86.03 L350.7,85.99 L351,86.01 L351.3,86.07 L351.6,86.12 L351.9,86.14 L352.2,86.1 L352.5,86.01 L352.8,85.92 L353.1,85.89 L353.4,85.94 L353.7,86.02 L354,86.07 L354.3,86.09 L354.6,86.09 L354.9,86.11 L355.2,86.15 L355.5,86.17 L355.8,86.18 L356.1,86.17 L356.4,86.13 L356.7,86.04 L357,85.94 L357.3,85.87 L357.6,85.88 L357.9,85.98 L358.2,86.07 L358.5,86.13 L358.8,86.15 L359.1,86.14 L359.4,86.14 L359.7,86.14 L360,86.14 L360.3,86.13 L360.6,86.12 L360.9,86.13 L361.2,86.14 L361.5,86.13 L361.8,86.07 L362.1,85.98 L362.4,85.91 L362.7,85.91 L363,85.99 L363.3,86.07 L363.6,86.11 L363.9,86.07 L364.2,86 L364.5,85.93 L364.8,85.93 L365.1,86 L365.4,86.09 L365.7,86.15 L366,86.18 L366.3,86.18 L366.6,86.18 L366.9,86.18 L367.2,86.19 L367.5,86.18 L367.8,86.16 L368.1,86.11 L368.4,86.02 L368.7,85.93 L369,85.9 L369.3,85.95 L369.6,86.04 L369.9,86.11 L370.2,86.15 L370.5,86.16 L370.8,86.17 L371.1,86.18 L371.4,86.18 L371.7,86.17 L372,86.15 L372.3,86.13 L372.6,86.09 L372.9,86.02 L373.2,85.92 L373.5,85.85 L373.8,85.84 L374.1,85.89 L374.4,85.95 L374.7,85.95 L375,85.93 L375.3,85.92 L375.6,85.96 L375.9,86.03 L376.2,86.09 L376.5,86.11 L376.8,86.08 L377.1,86.04 L377.4,86.03 L377.7,86.07 L378,86.11 L378.3,86.13 L378.6,86.13 L378.9,86.13 L379.2,86.15 L379.5,86.17 L379.8,86.18 L380.1,86.17 L380.4,86.15 L380.7,86.11 L381,86.08 L381.3,86.08 L381.6,86.11 L381.9,86.15 L382.2,86.18 L382.5,86.19 L382.8,86.19 L383.1,86.19 L383.4,86.19 L383.7,86.18 L384,86.17 L384.3,86.17 L384.6,86.17 L384.9,86.18 L385.2,86.19 L385.5,86.19 L385.8,86.18 L386.1,86.18 L386.4,86.17 L386.7,86.16 L387,86.15 L387.3,86.14 L387.6,86.14 L387.9,86.15 L388.2,86.17 L388.5,86.18 L388.8,86.18 L389.1,86.16 L389.4,86.13 L389.7,86.11 L390,86.09 L390.3,86.07 L390.6,86.03 L390.9,86.01 L391.2,86.03 L391.5,86.07 L391.8,86.1 L392.1,86.09 L392.4,86.05 L392.7,86.03 L393,86.05 L393.3,86.1 L393.6,86.15 L393.9,86.16 L394.2,86.15 L394.5,86.12 L394.8,86.1 L395.1,86.11 L395.4,86.13 L395.7,86.15 L396,86.15 L396.3,86.14 L396.6,86.14 L396.9,86.16 L397.2,86.17 L397.5,86.18 L397.8,86.18 L398.1,86.16 L398.4,86.11 L398.7,86.05 L399,86.01 L399.3,85.99 L399.6,85.98 L399.9,85.99 L400.2,86 L400.5,86 L400.8,85.99 L401.1,85.99 L401.4,86.01 L401.7,86.03 L402,86.05 L402.3,86.08 L402.6,86.1 L402.9,86.08 L403.2,86.04 L403.5,86 L403.8,86 L404.1,86.05 L404.4,86.12 L404.7,86.16 L405,86.19 L405.3,86.19 L405.6,86.2 L405.9,86.2 L406.2,86.2 L406.5,86.2 L406.8,86.19 L407.1,86.18 L407.4,86.17 L407.7,86.16 L408,86.15 L408.3,86.15 L408.6,86.14 L408.9,86.13 L409.2,86.12 L409.5,86.12 L409.8,86.12 L410.1,86.11 L410.4,86.12 L410.7,86.13 L411,86.15 L411.3,86.15 L411.6,86.13 L411.9,86.12 L412.2,86.12 L412.5,86.13 L412.8,86.12 L413.1,86.07 L413.4,85.98 L413.7,85.87 L414,85.76 L414.3,85.62 L414.6,85.44 L414.9,85.23 L415.2,85.03 L415.5,84.9 L415.8,84.87 L416.1,84.97 L416.4,85.16 L416.7,85.4 L417,85.63 L417.3,85.82 L417.6,85.96 L417.9,86.06 L418.2,86.12 L418.5,86.16 L418.8,86.18 L419.1,86.19 L419.4,86.18 L419.7,86.15 L420,86.09 L420.3,86.01 L420.6,85.94 L420.9,85.94 L421.2,86 L421.5,86.09 L421.8,86.15 L422.1,86.17 L422.4,86.17 L422.7,86.15 L423,86.11 L423.3,86.04 L423.6,85.95 L423.9,85.91 L424.2,85.94 L424.5,86.02 L424.8,86.1 L425.1,86.15 L425.4,86.17 L425.7,86.15 L426,86.09 L426.3,86.02 L426.6,85.95 L426.9,85.96 L427.2,86.02 L427.5,86.1 L427.8,86.15 L428.1,86.16 L428.4,86.16 L428.7,86.15 L429,86.15 L429.3,86.17 L429.6,86.18 L429.9,86.17 L430.2,86.14 L430.5,86.07 L430.8,85.99 L431.1,85.94 L431.4,85.95 L431.7,86.01 L432,86.07 L432.3,86.12 L432.6,86.15 L432.9,86.18 L433.2,86.18 L433.5,86.17 L433.8,86.15 L434.1,86.13 L434.4,86.13 L434.7,86.14 L435,86.14 L435.3,86.13 L435.6,86.11 L435.9,86.11 L436.2,86.13 L436.5,86.16 L436.8,86.18 L437.1,86.19 L437.4,86.2 L437.7,86.2 L438,86.2 L438.3,86.2 L438.6,86.2 L438.9,86.19 L439.2,86.18 L439.5,86.13 L439.8,86.05 L440.1,85.94 L440.4,85.86 L440.7,85.86 L441,85.93 L441.3,85.96 L441.6,85.93 L441.9,85.87 L442.2,85.84 L442.5,85.84 L442.8,85.85 L443.1,85.88 L443.4,85.94 L443.7,86.03 L444,86.1 L444.3,86.13 L444.6,86.14 L444.9,86.15 L445.2,86.16 L445.5,86.17 L445.8,86.18 L446.1,86.19 L446.4,86.18 L446.7,86.15 L447,86.09 L447.3,86 L447.6,85.95 L447.9,85.95 L448.2,85.99 L448.5,86.02 L448.8,86.01 L449.1,85.99 L449.4,86.01 L449.7,86.06 L450,86.11 L450.3,86.12 L450.6,86.07 L450.9,85.98 L451.2,85.89 L451.5,85.84 L451.8,85.85 L452.1,85.88 L452.4,85.92 L452.7,85.97 L453,86.01 L453.3,86.02 L453.6,86 L453.9,86.01 L454.2,86.04 L454.5,86.06 L454.8,86.02 L455.1,85.94 L455.4,85.88 L455.7,85.91 L456,85.99 L456.3,86.08 L456.6,86.13 L456.9,86.15 L457.2,86.16 L457.5,86.16 L457.8,86.17 L458.1,86.17 L458.4,86.14 L458.7,86.07 L459,86 L459.3,85.95 L459.6,85.95 L459.9,85.99 L460.2,86.01 L460.5,86.04 L460.8,86.07 L461.1,86.11 L461.4,86.13 L461.7,86.1 L462,86.03 L462.3,85.97 L462.6,85.96 L462.9,86.01 L463.2,86.09 L463.5,86.15 L463.8,86.17 L464.1,86.15 L464.4,86.09 L464.7,85.99 L465,85.89 L465.3,85.82 L465.6,85.79 L465.9,85.8 L466.2,85.87 L466.5,85.96 L466.8,86.06 L467.1,86.12 L467.4,86.15 L467.7,86.15 L468,86.12 L468.3,86.09 L468.6,86.09 L468.9,86.12 L469.2,86.15 L469.5,86.18 L469.8,86.19 L470.1,86.19 L470.4,86.19 L470.7,86.19 L471,86.19 L471.3,86.19 L471.6,86.19 L471.9,86.2 L472.2,86.2 L472.5,86.2 L472.8,86.2 L473.1,86.2 L473.4,86.2 L473.7,86.19 L474,86.19 L474.3,86.18 L474.6,86.17 L474.9,86.15 L475.2,86.14 L475.5,86.14 L475.8,86.14 L476.1,86.13 L476.4,86.1 L476.7,86.05 L477,86.03 L477.3,86.04 L477.6,86.07 L477.9,86.1 L478.2,86.11 L478.5,86.1 L478.8,86.06 L479.1,86.01 L479.4,85.98 L479.7,86 L480,86.06 L480.3,86.12 L480.6,86.15 L480.9,86.17 L481.2,86.16 L481.5,86.12 L481.8,86.05 L482.1,85.98 L482.4,85.96 L482.7,85.99 L483,86.04 L483.3,86.06 L483.6,86.04 L483.9,86.01 L484.2,86.01 L484.5,86.03 L484.8,86.04 L485.1,86.06 L485.4,86.09 L485.7,86.12 L486,86.13 L486.3,86.1 L486.6,86.04 L486.9,86 L487.2,86 L487.5,86.03 L487.8,86.05 L488.1,86.06 L488.4,86.05 L488.7,86.08 L489,86.11 L489.3,86.13 L489.6,86.13 L489.9,86.11 L490.2,86.1 L490.5,86.12 L490.8,86.15 L491.1,86.15 L491.4,86.11 L491.7,86.02 L492,85.92 L492.3,85.87 L492.6,85.9 L492.9,85.95 L493.2,85.97 L493.5,85.95 L493.8,85.94 L494.1,85.99 L494.4,86.07 L494.7,86.13 L495,86.17 L495.3,86.18 L495.6,86.17 L495.9,86.13 L496.2,86.05 L496.5,85.96 L496.8,85.91 L497.1,85.94 L497.4,86.02 L497.7,86.09 L498,86.1 L498.3,86.05 L498.6,85.99 L498.9,85.96 L499.2,85.98 L499.5,86 L499.8,85.99 L500.1,85.97 L500.4,85.95 L500.7,85.93 L501,85.92 L501.3,85.97 L501.6,86.04 L501.9,86.12 L502.2,86.16 L502.5,86.18 L502.8,86.2 L503.1,86.2 L503.4,86.2 L503.7,86.2 L504,86.2 L504.3,86.2 L504.6,86.19 L504.9,86.18 L505.2,86.14 L505.5,86.07 L505.8,85.99 L506.1,85.93 L506.4,85.95 L506.7,86.03 L507,86.11 L507.3,86.14 L507.6,86.12 L507.9,86.05 L508.2,85.94 L508.5,85.88 L508.8,85.9 L509.1,86 L509.4,86.1 L509.7,86.16 L510,86.19 L510.3,86.2 L510.6,86.19 L510.9,86.17 L511,87.7 Z" fill="#111111"/>
<path d="M336,106.6 L336,104.78 L336.3,104.79 L336.6,104.79 L336.9,104.79 L337.2,104.79 L337.5,104.79 L337.8,104.78 L338.1,104.76 L338.4,104.68 L338.7,104.56 L339,104.43 L339.3,104.34 L339.6,104.32 L339.9,104.31 L340.2,104.28 L340.5,104.22 L340.8,104.2 L341.1,104.25 L341.4,104.34 L341.7,104.44 L342,104.53 L342.3,104.6 L342.6,104.64 L342.9,104.62 L343.2,104.54 L343.5,104.45 L343.8,104.41 L344.1,104.48 L344.4,104.6 L344.7,104.69 L345,104.73 L345.3,104.71 L345.6,104.66 L345.9,104.55 L346.2,104.37 L346.5,104.15 L346.8,103.93 L347.1,103.79 L347.4,103.76 L347.7,103.8 L348,103.87 L348.3,103.99 L348.6,104.14 L348.9,104.29 L349.2,104.44 L349.5,104.55 L349.8,104.59 L350.1,104.56 L350.4,104.48 L350.7,104.38 L351,104.29 L351.3,104.2 L351.6,104.11 L351.9,104.03 L352.2,103.99 L352.5,104.01 L352.8,104.08 L353.1,104.19 L353.4,104.29 L353.7,104.36 L354,104.42 L354.3,104.48 L354.6,104.54 L354.9,104.58 L355.2,104.58 L355.5,104.57 L355.8,104.59 L356.1,104.66 L356.4,104.71 L356.7,104.73 L357,104.7 L357.3,104.65 L357.6,104.61 L357.9,104.61 L358.2,104.63 L358.5,104.62 L358.8,104.58 L359.1,104.51 L359.4,104.42 L359.7,104.34 L360,104.31 L360.3,104.33 L360.6,104.41 L360.9,104.51 L361.2,104.61 L361.5,104.68 L361.8,104.68 L362.1,104.65 L362.4,104.64 L362.7,104.66 L363,104.71 L363.3,104.75 L363.6,104.75 L363.9,104.72 L364.2,104.67 L364.5,104.59 L364.8,104.54 L365.1,104.53 L365.4,104.55 L365.7,104.55 L366,104.51 L366.3,104.47 L366.6,104.47 L366.9,104.51 L367.2,104.51 L367.5,104.44 L367.8,104.36 L368.1,104.35 L368.4,104.44 L368.7,104.57 L369,104.69 L369.3,104.75 L369.6,104.78 L369.9,104.79 L370.2,104.78 L370.5,104.76 L370.8,104.74 L371.1,104.71 L371.4,104.68 L371.7,104.65 L372,104.62 L372.3,104.61 L372.6,104.59 L372.9,104.51 L373.2,104.41 L373.5,104.37 L373.8,104.44 L374.1,104.56 L374.4,104.66 L374.7,104.67 L375,104.56 L375.3,104.36 L375.6,104.14 L375.9,104.01 L376.2,104.03 L376.5,104.18 L376.8,104.4 L377.1,104.57 L377.4,104.63 L377.7,104.57 L378,104.44 L378.3,104.35 L378.6,104.38 L378.9,104.51 L379.2,104.64 L379.5,104.73 L379.8,104.74 L380.1,104.73 L380.4,104.72 L380.7,104.72 L381,104.73 L381.3,104.75 L381.6,104.77 L381.9,104.78 L382.2,104.77 L382.5,104.75 L382.8,104.71 L383.1,104.68 L383.4,104.67 L383.7,104.7 L384,104.74 L384.3,104.77 L384.6,104.78 L384.9,104.77 L385.2,104.75 L385.5,104.73 L385.8,104.72 L386.1,104.73 L386.4,104.73 L386.7,104.7 L387,104.67 L387.3,104.66 L387.6,104.68 L387.9,104.72 L388.2,104.76 L388.5,104.78 L388.8,104.78 L389.1,104.77 L389.4,104.75 L389.7,104.74 L390,104.73 L390.3,104.73 L390.6,104.74 L390.9,104.76 L391.2,104.75 L391.5,104.71 L391.8,104.66 L392.1,104.61 L392.4,104.62 L392.7,104.67 L393,104.71 L393.3,104.71 L393.6,104.62 L393.9,104.48 L394.2,104.34 L394.5,104.31 L394.8,104.4 L395.1,104.52 L395.4,104.61 L395.7,104.64 L396,104.65 L396.3,104.68 L396.6,104.7 L396.9,104.72 L397.2,104.74 L397.5,104.76 L397.8,104.78 L398.1,104.78 L398.4,104.77 L398.7,104.72 L399,104.66 L399.3,104.6 L399.6,104.58 L399.9,104.59 L400.2,104.6 L400.5,104.54 L400.8,104.43 L401.1,104.32 L401.4,104.26 L401.7,104.23 L402,104.24 L402.3,104.32 L402.6,104.46 L402.9,104.62 L403.2,104.72 L403.5,104.76 L403.8,104.75 L404.1,104.72 L404.4,104.68 L404.7,104.67 L405,104.69 L405.3,104.7 L405.6,104.67 L405.9,104.58 L406.2,104.48 L406.5,104.45 L406.8,104.51 L407.1,104.62 L407.4,104.72 L407.7,104.76 L408,104.78 L408.3,104.77 L408.6,104.74 L408.9,104.67 L409.2,104.55 L409.5,104.42 L409.8,104.37 L410.1,104.43 L410.4,104.54 L410.7,104.6 L411,104.58 L411.3,104.54 L411.6,104.54 L411.9,104.6 L412.2,104.68 L412.5,104.72 L412.8,104.69 L413.1,104.6 L413.4,104.18 L413.7,103.21 L414,102.33 L414.3,101.5 L414.6,100.64 L414.9,99.69 L415.2,98.72 L415.5,97.75 L415.8,96.8 L416.1,95.8 L416.4,94.68 L416.7,93.52 L417,92.42 L417.3,91.4 L417.6,91.75 L417.9,92.1 L418.2,92.49 L418.5,93.2 L418.8,94.06 L419.1,94.96 L419.4,95.94 L419.7,96.93 L420,97.67 L420.3,97.98 L420.6,98.19 L420.9,98.42 L421.2,98.78 L421.5,99.3 L421.8,99.71 L422.1,100.08 L422.4,100.33 L422.7,100.45 L423,100.46 L423.3,100.44 L423.6,100.5 L423.9,100.72 L424.2,101.09 L424.5,101.55 L424.8,102 L425.1,102.36 L425.4,102.63 L425.7,102.86 L426,103.08 L426.3,103.28 L426.6,103.45 L426.9,103.57 L427.2,103.61 L427.5,103.65 L427.8,103.78 L428.1,104.03 L428.4,104.31 L428.7,104.55 L429,104.74 L429.3,104.74 L429.6,104.72 L429.9,104.66 L430.2,104.56 L430.5,104.44 L430.8,104.38 L431.1,104.43 L431.4,104.56 L431.7,104.67 L432,104.7 L432.3,104.66 L432.6,104.58 L432.9,104.49 L433.2,104.45 L433.5,104.47 L433.8,104.55 L434.1,104.65 L434.4,104.72 L434.7,104.74 L435,104.7 L435.3,104.61 L435.6,104.49 L435.9,104.39 L436.2,104.34 L436.5,104.35 L436.8,104.41 L437.1,104.45 L437.4,104.43 L437.7,104.4 L438,104.42 L438.3,104.52 L438.6,104.64 L438.9,104.7 L439.2,104.7 L439.5,104.65 L439.8,104.61 L440.1,104.61 L440.4,104.66 L440.7,104.72 L441,104.75 L441.3,104.75 L441.6,104.71 L441.9,104.64 L442.2,104.54 L442.5,104.4 L442.8,104.26 L443.1,104.21 L443.4,104.25 L443.7,104.36 L444,104.5 L444.3,104.63 L444.6,104.72 L444.9,104.76 L445.2,104.76 L445.5,104.73 L445.8,104.68 L446.1,104.66 L446.4,104.67 L446.7,104.71 L447,104.76 L447.3,104.78 L447.6,104.79 L447.9,104.79 L448.2,104.79 L448.5,104.79 L448.8,104.79 L449.1,104.78 L449.4,104.76 L449.7,104.73 L450,104.72 L450.3,104.73 L450.6,104.75 L450.9,104.76 L451.2,104.74 L451.5,104.66 L451.8,104.55 L452.1,104.46 L452.4,104.45 L452.7,104.53 L453,104.64 L453.3,104.71 L453.6,104.73 L453.9,104.72 L454.2,104.7 L454.5,104.69 L454.8,104.7 L455.1,104.72 L455.4,104.74 L455.7,104.7 L456,104.61 L456.3,104.48 L456.6,104.37 L456.9,104.35 L457.2,104.43 L457.5,104.55 L457.8,104.66 L458.1,104.7 L458.4,104.68 L458.7,104.58 L459,104.46 L459.3,104.35 L459.6,104.32 L459.9,104.38 L460.2,104.5 L460.5,104.58 L460.8,104.55 L461.1,104.43 L461.4,104.33 L461.7,104.33 L462,104.44 L462.3,104.55 L462.6,104.6 L462.9,104.58 L463.2,104.56 L463.5,104.58 L463.8,104.63 L464.1,104.66 L464.4,104.65 L464.7,104.64 L465,104.64 L465.3,104.65 L465.6,104.61 L465.9,104.52 L466.2,104.42 L466.5,104.4 L466.8,104.48 L467.1,104.61 L467.4,104.71 L467.7,104.74 L468,104.72 L468.3,104.68 L468.6,104.65 L468.9,104.65 L469.2,104.67 L469.5,104.67 L469.8,104.68 L470.1,104.69 L470.4,104.72 L470.7,104.75 L471,104.77 L471.3,104.78 L471.6,104.79 L471.9,104.79 L472.2,104.78 L472.5,104.77 L472.8,104.76 L473.1,104.76 L473.4,104.76 L473.7,104.74 L474,104.69 L474.3,104.62 L474.6,104.58 L474.9,104.6 L475.2,104.67 L475.5,104.73 L475.8,104.77 L476.1,104.78 L476.4,104.79 L476.7,104.79 L477,104.79 L477.3,104.78 L477.6,104.77 L477.9,104.76 L478.2,104.75 L478.5,104.74 L478.8,104.7 L479.1,104.61 L479.4,104.48 L479.7,104.35 L480,104.3 L480.3,104.37 L480.6,104.52 L480.9,104.66 L481.2,104.74 L481.5,104.75 L481.8,104.7 L482.1,104.59 L482.4,104.48 L482.7,104.44 L483,104.48 L483.3,104.57 L483.6,104.62 L483.9,104.61 L484.2,104.58 L484.5,104.58 L484.8,104.63 L485.1,104.67 L485.4,104.64 L485.7,104.53 L486,104.4 L486.3,104.35 L486.6,104.42 L486.9,104.56 L487.2,104.69 L487.5,104.76 L487.8,104.78 L488.1,104.79 L488.4,104.78 L488.7,104.77 L489,104.74 L489.3,104.68 L489.6,104.58 L489.9,104.5 L490.2,104.49 L490.5,104.56 L490.8,104.65 L491.1,104.72 L491.4,104.73 L491.7,104.72 L492,104.72 L492.3,104.72 L492.6,104.73 L492.9,104.71 L493.2,104.66 L493.5,104.59 L493.8,104.57 L494.1,104.61 L494.4,104.68 L494.7,104.74 L495,104.77 L495.3,104.77 L495.6,104.74 L495.9,104.69 L496.2,104.64 L496.5,104.59 L496.8,104.54 L497.1,104.54 L497.4,104.59 L497.7,104.67 L498,104.74 L498.3,104.78 L498.6,104.78 L498.9,104.76 L499.2,104.72 L499.5,104.69 L499.8,104.67 L500.1,104.68 L500.4,104.71 L500.7,104.72 L501,104.71 L501.3,104.71 L501.6,104.71 L501.9,104.73 L502.2,104.75 L502.5,104.77 L502.8,104.78 L503.1,104.76 L503.4,104.72 L503.7,104.64 L504,104.58 L504.3,104.56 L504.6,104.59 L504.9,104.61 L505.2,104.56 L505.5,104.41 L505.8,104.23 L506.1,104.13 L506.4,104.18 L506.7,104.36 L507,104.56 L507.3,104.7 L507.6,104.77 L507.9,104.78 L508.2,104.75 L508.5,104.69 L508.8,104.61 L509.1,104.55 L509.4,104.54 L509.7,104.58 L510,104.65 L510.3,104.71 L510.6,104.72 L510.9,104.68 L511,106.6 Z" fill="#e0382e"/>
<path d="M336,134.1 L336,132.38 L336.3,132.44 L336.6,132.71 L336.9,132.91 L337.2,132.99 L337.5,132.98 L337.8,132.9 L338.1,132.69 L338.4,132.42 L338.7,132.39 L339,132.63 L339.3,132.86 L339.6,132.89 L339.9,132.79 L340.2,132.69 L340.5,132.74 L340.8,132.87 L341.1,132.97 L341.4,132.99 L341.7,133 L342,132.99 L342.3,132.93 L342.6,132.71 L342.9,132.34 L343.2,132.14 L343.5,132.35 L343.8,132.67 L344.1,132.83 L344.4,132.88 L344.7,132.93 L345,132.97 L345.3,132.99 L345.6,133 L345.9,133 L346.2,132.99 L346.5,132.93 L346.8,132.71 L347.1,132.33 L347.4,132.12 L347.7,132.3 L348,132.42 L348.3,131.57 L348.6,128.71 L348.9,123.51 L349.2,118.27 L349.5,116.83 L349.8,120.27 L350.1,123.91 L350.4,124.86 L350.7,125.01 L351,126.07 L351.3,127.53 L351.6,128.57 L351.9,129.4 L352.2,130.4 L352.5,131.46 L352.8,132.27 L353.1,132.63 L353.4,132.55 L353.7,132.26 L354,133.3 L354.3,133.3 L354.6,133.3 L354.9,133.3 L355.2,133.3 L355.5,133.3 L355.8,133.3 L356.1,133.3 L356.4,133.3 L356.7,133.3 L357,133.3 L357.3,133.3 L357.6,133.3 L357.9,133.3 L358.2,133.3 L358.5,133.3 L358.8,133.3 L359.1,133.3 L359.4,133.3 L359.7,133.3 L360,133.3 L360.3,133.3 L360.6,133.3 L360.9,133.3 L361.2,133.3 L361.5,133.3 L361.8,133.3 L362.1,133.3 L362.4,133.3 L362.7,133.3 L363,132.73 L363.3,132.5 L363.6,132.46 L363.9,132.68 L364.2,132.87 L364.5,132.88 L364.8,132.66 L365.1,132.34 L365.4,132.28 L365.7,132.56 L366,132.83 L366.3,132.92 L366.6,132.83 L366.9,132.7 L367.2,132.68 L367.5,132.81 L367.8,132.92 L368.1,132.89 L368.4,132.64 L368.7,132.22 L369,132.04 L369.3,132.33 L369.6,132.7 L369.9,132.79 L370.2,132.56 L370.5,132.26 L370.8,132.28 L371.1,132.56 L371.4,132.73 L371.7,132.76 L372,132.81 L372.3,132.91 L372.6,132.97 L372.9,132.99 L373.2,132.99 L373.5,132.99 L373.8,133 L374.1,133 L374.4,132.99 L374.7,132.95 L375,132.92 L375.3,132.92 L375.6,132.95 L375.9,132.98 L376.2,132.98 L376.5,132.88 L376.8,132.58 L377.1,132.19 L377.4,132.1 L377.7,132.37 L378,132.58 L378.3,132.6 L378.6,132.66 L378.9,132.82 L379.2,132.94 L379.5,132.94 L379.8,132.8 L380.1,132.52 L380.4,132.35 L380.7,132.5 L381,132.78 L381.3,132.94 L381.6,132.99 L381.9,133 L382.2,133 L382.5,133 L382.8,133 L383.1,132.99 L383.4,132.99 L383.7,133 L384,132.99 L384.3,132.97 L384.6,132.9 L384.9,132.82 L385.2,132.81 L385.5,132.89 L385.8,132.96 L386.1,132.99 L386.4,133 L386.7,132.99 L387,132.96 L387.3,132.88 L387.6,132.81 L387.9,132.83 L388.2,132.91 L388.5,132.97 L388.8,132.99 L389.1,132.96 L389.4,132.9 L389.7,132.83 L390,132.84 L390.3,132.92 L390.6,132.96 L390.9,132.98 L391.2,132.98 L391.5,132.98 L391.8,132.86 L392.1,132.34 L392.4,131.21 L392.7,130.17 L393,130.21 L393.3,130.98 L393.6,131.68 L393.9,132.27 L394.2,132.73 L394.5,132.94 L394.8,132.99 L395.1,132.96 L395.4,132.91 L395.7,132.88 L396,132.92 L396.3,132.96 L396.6,132.99 L396.9,132.99 L397.2,132.95 L397.5,132.84 L397.8,132.71 L398.1,132.65 L398.4,132.58 L398.7,132.32 L399,132.12 L399.3,132.31 L399.6,132.63 L399.9,132.67 L400.2,132.41 L400.5,132.23 L400.8,132.4 L401.1,132.66 L401.4,132.59 L401.7,132.25 L402,132.08 L402.3,132.34 L402.6,132.66 L402.9,132.62 L403.2,132.24 L403.5,131.98 L403.8,132.21 L404.1,132.62 L404.4,132.79 L404.7,132.62 L405,132.3 L405.3,132.25 L405.6,132.54 L405.9,132.8 L406.2,132.79 L406.5,132.45 L406.8,132.06 L407.1,132.08 L407.4,132.49 L407.7,132.84 L408,132.97 L408.3,133 L408.6,132.99 L408.9,132.95 L409.2,132.84 L409.5,132.72 L409.8,132.71 L410.1,132.83 L410.4,132.91 L410.7,132.86 L411,132.73 L411.3,132.67 L411.6,132.77 L411.9,132.89 L412.2,132.93 L412.5,132.9 L412.8,132.67 L413.1,131.7 L413.4,128.96 L413.7,124.1 L414,119.09 L414.3,117.4 L414.6,120.09 L414.9,124.51 L415.2,127.8 L415.5,129.56 L415.8,130.67 L416.1,131.55 L416.4,132.18 L416.7,132.4 L417,132.31 L417.3,132.32 L417.6,132.58 L417.9,132.84 L418.2,132.9 L418.5,132.66 L418.8,131.99 L419.1,131.22 L419.4,131.06 L419.7,131.64 L420,132.38 L420.3,132.82 L420.6,132.96 L420.9,132.94 L421.2,132.72 L421.5,132.07 L421.8,130.98 L422.1,130.06 L422.4,130.07 L422.7,130.96 L423,131.96 L423.3,132.5 L423.6,132.52 L423.9,132.4 L424.2,132.5 L424.5,132.73 L424.8,132.82 L425.1,132.63 L425.4,132.37 L425.7,132.37 L426,132.64 L426.3,132.87 L426.6,132.89 L426.9,132.67 L427.2,132.27 L427.5,132.08 L427.8,132.34 L428.1,132.73 L428.4,132.94 L428.7,133 L429,133 L429.3,133 L429.6,133 L429.9,133 L430.2,132.99 L430.5,132.93 L430.8,132.76 L431.1,132.53 L431.4,132.46 L431.7,132.65 L432,132.87 L432.3,132.97 L432.6,132.96 L432.9,132.84 L433.2,132.62 L433.5,132.48 L433.8,132.59 L434.1,132.82 L434.4,132.93 L434.7,132.87 L435,132.67 L435.3,132.49 L435.6,132.55 L435.9,132.68 L436.2,132.43 L436.5,131.21 L436.8,128.61 L437.1,125.41 L437.4,123.73 L437.7,124.74 L438,127.21 L438.3,129.25 L438.6,130.49 L438.9,131.44 L439.2,132.21 L439.5,132.62 L439.8,132.61 L440.1,132.45 L440.4,132.48 L440.7,132.72 L441,132.91 L441.3,132.98 L441.6,133 L441.9,132.97 L442.2,132.87 L442.5,132.71 L442.8,132.62 L443.1,132.66 L443.4,132.63 L443.7,132.39 L444,132.23 L444.3,132.43 L444.6,132.76 L444.9,132.94 L445.2,133 L445.5,132.99 L445.8,132.95 L446.1,132.79 L446.4,132.54 L446.7,132.43 L447,132.59 L447.3,132.83 L447.6,132.96 L447.9,133 L448.2,132.99 L448.5,132.97 L448.8,132.94 L449.1,132.93 L449.4,132.96 L449.7,132.99 L450,132.98 L450.3,132.92 L450.6,132.73 L450.9,132.51 L451.2,132.48 L451.5,132.69 L451.8,132.86 L452.1,132.83 L452.4,132.58 L452.7,132.34 L453,132.4 L453.3,132.69 L453.6,132.91 L453.9,132.98 L454.2,133 L454.5,133 L454.8,132.99 L455.1,132.94 L455.4,132.8 L455.7,132.57 L456,132.48 L456.3,132.64 L456.6,132.83 L456.9,132.83 L457.2,132.66 L457.5,132.5 L457.8,132.57 L458.1,132.74 L458.4,132.84 L458.7,132.86 L459,132.84 L459.3,132.81 L459.6,132.84 L459.9,132.92 L460.2,132.97 L460.5,132.99 L460.8,132.99 L461.1,132.99 L461.4,133 L461.7,132.98 L462,132.89 L462.3,132.7 L462.6,132.53 L462.9,132.58 L463.2,132.79 L463.5,132.9 L463.8,132.81 L464.1,132.49 L464.4,132.17 L464.7,132.23 L465,132.57 L465.3,132.79 L465.6,132.84 L465.9,132.87 L466.2,132.89 L466.5,132.78 L466.8,132.49 L467.1,132.25 L467.4,132.37 L467.7,132.67 L468,132.82 L468.3,132.71 L468.6,132.54 L468.9,132.57 L469.2,132.77 L469.5,132.91 L469.8,132.91 L470.1,132.83 L470.4,132.8 L470.7,132.87 L471,132.95 L471.3,132.99 L471.6,132.96 L471.9,132.83 L472.2,132.54 L472.5,132.28 L472.8,132.36 L473.1,132.66 L473.4,132.82 L473.7,132.71 L474,132.52 L474.3,132.49 L474.6,132.59 L474.9,132.58 L475.2,132.52 L475.5,132.63 L475.8,132.83 L476.1,132.96 L476.4,132.99 L476.7,132.97 L477,132.85 L477.3,132.53 L477.6,132.13 L477.9,132.09 L478.2,132.43 L478.5,132.67 L478.8,132.51 L479.1,132.19 L479.4,132.14 L479.7,132.32 L480,132.45 L480.3,132.58 L480.6,132.79 L480.9,132.93 L481.2,132.95 L481.5,132.83 L481.8,132.47 L482.1,131.63 L482.4,129.53 L482.7,125.23 L483,119.81 L483.3,116.82 L483.6,118.3 L483.9,121.87 L484.2,124.19 L484.5,124.97 L484.8,125.94 L485.1,127.8 L485.4,129.77 L485.7,130.98 L486,131.58 L486.3,132.13 L486.6,132.64 L486.9,132.91 L487.2,132.94 L487.5,132.79 L487.8,132.44 L488.1,132.14 L488.4,132.24 L488.7,132.53 L489,132.52 L489.3,132.19 L489.6,132.03 L489.9,132.33 L490.2,132.74 L490.5,132.93 L490.8,132.96 L491.1,132.88 L491.4,132.82 L491.7,132.85 L492,132.92 L492.3,132.98 L492.6,133 L492.9,133 L493.2,132.98 L493.5,132.94 L493.8,132.87 L494.1,132.85 L494.4,132.89 L494.7,132.9 L495,132.77 L495.3,132.57 L495.6,132.52 L495.9,132.7 L496.2,132.88 L496.5,132.91 L496.8,132.74 L497.1,132.44 L497.4,132.31 L497.7,132.52 L498,132.81 L498.3,132.95 L498.6,132.95 L498.9,132.82 L499.2,132.65 L499.5,132.58 L499.8,132.55 L500.1,132.31 L500.4,132.01 L500.7,132.07 L501,132.33 L501.3,132.36 L501.6,132.28 L501.9,132.44 L502.2,132.72 L502.5,132.88 L502.8,132.94 L503.1,132.98 L503.4,132.99 L503.7,133 L504,132.98 L504.3,132.91 L504.6,132.74 L504.9,132.55 L505.2,132.56 L505.5,132.75 L505.8,132.92 L506.1,132.96 L506.4,132.89 L506.7,132.71 L507,132.54 L507.3,132.59 L507.6,132.79 L507.9,132.89 L508.2,132.79 L508.5,132.51 L508.8,132.34 L509.1,132.49 L509.4,132.77 L509.7,132.93 L510,132.94 L510.3,132.87 L510.6,132.81 L510.9,132.84 L511,134.1 Z" fill="#2e4e9e"/>
<rect x="335.4" y="48.9" width="33.4" height="1.6" fill="#2aa84a"/>
<rect x="409.2" y="48.9" width="22.4" height="1.6" fill="#2aa84a"/>
<rect x="411.6" y="89.2" width="17.2" height="1.6" fill="#2aa84a"/>
<line x1="335.6" y1="28" x2="335.6" y2="45.8" stroke="#555555" stroke-width="0.9"/>
<text x="329.4" y="32.7" font-size="5.4" text-anchor="start" fill="#231f20" textLength="2.58" lengthAdjust="spacingAndGlyphs" stroke="#231f20" stroke-width="0.1">1</text>
<line x1="335.6" y1="49.2" x2="335.6" y2="68.2" stroke="#555555" stroke-width="0.9"/>
<text x="329.4" y="53.1" font-size="5.4" text-anchor="start" fill="#231f20" textLength="2.58" lengthAdjust="spacingAndGlyphs" stroke="#231f20" stroke-width="0.1">1</text>
<line x1="335.6" y1="71" x2="335.6" y2="87.8" stroke="#555555" stroke-width="0.9"/>
<text x="329.4" y="75.4" font-size="5.4" text-anchor="start" fill="#231f20" textLength="2.58" lengthAdjust="spacingAndGlyphs" stroke="#231f20" stroke-width="0.1">2</text>
<line x1="335.6" y1="90.5" x2="335.6" y2="106.3" stroke="#555555" stroke-width="0.9"/>
<text x="329.4" y="94.2" font-size="5.4" text-anchor="start" fill="#231f20" textLength="2.58" lengthAdjust="spacingAndGlyphs" stroke="#231f20" stroke-width="0.1">2</text>
<line x1="335.6" y1="117" x2="335.6" y2="133.8" stroke="#555555" stroke-width="0.9"/>
<text x="329.4" y="121.5" font-size="5.4" text-anchor="start" fill="#231f20" textLength="2.58" lengthAdjust="spacingAndGlyphs" stroke="#231f20" stroke-width="0.1">2</text>
<line x1="296.6" y1="40.8" x2="296.6" y2="67.2" stroke="#444444" stroke-width="1"/>
<text transform="translate(290.6 54.6) rotate(-90)" x="0" y="0" font-size="5.6" text-anchor="middle" dominant-baseline="central" fill="#231f20" textLength="15.8" lengthAdjust="spacingAndGlyphs" stroke="#231f20" stroke-width="0.1">K27ac</text>
<line x1="296.6" y1="78.8" x2="296.6" y2="105.8" stroke="#444444" stroke-width="1"/>
<text transform="translate(290.6 92) rotate(-90)" x="0" y="0" font-size="5.6" text-anchor="middle" dominant-baseline="central" fill="#231f20" textLength="18.4" lengthAdjust="spacingAndGlyphs" stroke="#231f20" stroke-width="0.1">K4me3</text>
<line x1="296.6" y1="116" x2="296.6" y2="129.3" stroke="#444444" stroke-width="1"/>
<text transform="translate(290.6 122.5) rotate(-90)" x="0" y="0" font-size="5.6" text-anchor="middle" dominant-baseline="central" fill="#231f20" textLength="11" lengthAdjust="spacingAndGlyphs" stroke="#231f20" stroke-width="0.1">C&amp;R</text>
<text x="306.2" y="46.9" font-size="5.8" text-anchor="start" fill="#231f20" textLength="11.5" lengthAdjust="spacingAndGlyphs" stroke="#231f20" stroke-width="0.1" font-style="italic">MEP</text>
<text x="303.8" y="63" font-size="5.8" text-anchor="start" fill="#d95a46" textLength="16.5" lengthAdjust="spacingAndGlyphs" stroke="#d95a46" stroke-width="0.08">L-MEP</text>
<text x="306.5" y="85.4" font-size="5.8" text-anchor="start" fill="#231f20" textLength="11.5" lengthAdjust="spacingAndGlyphs" stroke="#231f20" stroke-width="0.1" font-style="italic">MEP</text>
<text x="303.8" y="101.8" font-size="5.8" text-anchor="start" fill="#d95a46" textLength="16.5" lengthAdjust="spacingAndGlyphs" stroke="#d95a46" stroke-width="0.08">L-MEP</text>
<text x="300.5" y="124.7" font-size="5.8" text-anchor="start" fill="#5060a8" textLength="23.3" lengthAdjust="spacingAndGlyphs" stroke="#5060a8" stroke-width="0.08">Prdm16s</text>
<path d="M355,136.5 Q367.85,146.5 380.7,136.5" fill="none" stroke="#e5362f" stroke-width="1.0"/>
<path d="M355,136.5 Q397.15,165.5 439.3,136.5" fill="none" stroke="#e5362f" stroke-width="1.0"/>
<path d="M355,136.5 Q402,169.5 449,136.5" fill="none" stroke="#e5362f" stroke-width="1.0"/>
<path d="M355,136.5 Q416.8,174.5 478.6,136.5" fill="none" stroke="#e5362f" stroke-width="1.0"/>
<path d="M380.7,136.5 Q410,157.5 439.3,136.5" fill="none" stroke="#e5362f" stroke-width="1.0"/>
<path d="M380.7,136.5 Q414.85,160.5 449,136.5" fill="none" stroke="#e5362f" stroke-width="1.0"/>
<path d="M380.7,136.5 Q388.4,143.7 396.1,136.5" fill="none" stroke="#e5362f" stroke-width="1.0"/>
<path d="M380.7,136.5 Q400.05,148.5 419.4,136.5" fill="none" stroke="#e5362f" stroke-width="1.0"/>
<path d="M439.3,136.5 Q458.95,148.5 478.6,136.5" fill="none" stroke="#e5362f" stroke-width="1.0"/>
<text x="395.1" y="164.3" font-size="5.8" text-anchor="start" fill="#231f20" textLength="11.1" lengthAdjust="spacingAndGlyphs" stroke="#231f20" stroke-width="0.1">Spi1</text>
<rect x="409.6" y="159.7" width="5.3" height="5.1" fill="#111111"/>
<line x1="414.9" y1="162.2" x2="507.8" y2="162.2" stroke="#111111" stroke-width="1"/>
<rect x="430.45" y="159.3" width="1.3" height="5.8" fill="#111111"/>
<rect x="494.35" y="159.3" width="1.3" height="5.8" fill="#111111"/>
<rect x="499.75" y="159.3" width="1.3" height="5.8" fill="#111111"/>
<rect x="505.95" y="159.3" width="1.3" height="5.8" fill="#111111"/>
<polyline points="419.8,160.6 421.6,162.2 419.8,163.8" fill="none" stroke="#111111" stroke-width="0.9"/>
<polyline points="445.9,160.6 447.7,162.2 445.9,163.8" fill="none" stroke="#111111" stroke-width="0.9"/>
<polyline points="462,160.6 463.8,162.2 462,163.8" fill="none" stroke="#111111" stroke-width="0.9"/>
<polyline points="476.8,160.6 478.6,162.2 476.8,163.8" fill="none" stroke="#111111" stroke-width="0.9"/>
<rect x="339.2" y="182.8" width="17.2" height="90.4" fill="#f7f0e3"/>
<rect x="398.4" y="183" width="16.2" height="91.6" fill="#f7f0e3"/>
<rect x="429.6" y="183" width="16.2" height="91.6" fill="#f7f0e3"/>
<text x="335.7" y="178.9" font-size="6" text-anchor="start" fill="#231f20" textLength="23.7" lengthAdjust="spacingAndGlyphs" stroke="#231f20" stroke-width="0.1">Enhancer</text>
<text x="408.8" y="178.9" font-size="6" text-anchor="start" fill="#231f20" textLength="24.5" lengthAdjust="spacingAndGlyphs" stroke="#231f20" stroke-width="0.1">Promoter</text>
<path d="M336,197.6 L336,195.48 L336.3,195.55 L336.6,195.68 L336.9,195.77 L337.2,195.78 L337.5,195.7 L337.8,195.59 L338.1,195.53 L338.4,195.55 L338.7,195.6 L339,195.6 L339.3,195.55 L339.6,195.52 L339.9,195.58 L340.2,195.7 L340.5,195.8 L340.8,195.86 L341.1,195.87 L341.4,195.82 L341.7,195.7 L342,195.5 L342.3,195.28 L342.6,195.16 L342.9,195.22 L343.2,195.39 L343.5,195.47 L343.8,195.34 L344.1,195.08 L344.4,194.93 L344.7,195.02 L345,195.31 L345.3,195.6 L345.6,195.78 L345.9,195.83 L346.2,193.44 L346.5,189.75 L346.8,185.95 L347.1,184.1 L347.4,183.34 L347.7,182.95 L348,183.04 L348.3,183.15 L348.6,183.51 L348.9,183.96 L349.2,184.32 L349.5,186.45 L349.8,189.42 L350.1,191.97 L350.4,193.79 L350.7,194.99 L351,194.96 L351.3,195.04 L351.6,195.15 L351.9,195.2 L352.2,195.2 L352.5,195.19 L352.8,195.13 L353.1,195.01 L353.4,194.87 L353.7,194.85 L354,195 L354.3,195.24 L354.6,195.37 L354.9,195.29 L355.2,195.05 L355.5,194.88 L355.8,194.9 L356.1,194.95 L356.4,194.65 L356.7,193.71 L357,192.31 L357.3,191.16 L357.6,190.97 L357.9,191.92 L358.2,193.39 L358.5,194.66 L358.8,195.4 L359.1,195.69 L359.4,195.67 L359.7,195.47 L360,195.24 L360.3,195.12 L360.6,195.21 L360.9,195.41 L361.2,195.51 L361.5,195.36 L361.8,194.97 L362.1,194.54 L362.4,194.34 L362.7,194.53 L363,194.97 L363.3,195.42 L363.6,195.69 L363.9,195.77 L364.2,195.7 L364.5,195.55 L364.8,195.36 L365.1,195.17 L365.4,195.07 L365.7,195.1 L366,195.26 L366.3,195.45 L366.6,195.62 L366.9,195.74 L367.2,195.83 L367.5,195.87 L367.8,195.89 L368.1,195.89 L368.4,195.88 L368.7,195.87 L369,195.86 L369.3,195.85 L369.6,195.86 L369.9,195.87 L370.2,195.88 L370.5,195.88 L370.8,195.84 L371.1,195.76 L371.4,195.63 L371.7,195.51 L372,195.47 L372.3,195.5 L372.6,195.52 L372.9,195.44 L373.2,195.31 L373.5,195.27 L373.8,195.38 L374.1,195.57 L374.4,195.73 L374.7,195.81 L375,195.83 L375.3,195.82 L375.6,195.79 L375.9,195.76 L376.2,195.74 L376.5,195.74 L376.8,195.69 L377.1,195.53 L377.4,195.23 L377.7,194.83 L378,194.47 L378.3,194.28 L378.6,194.37 L378.9,194.69 L379.2,195.09 L379.5,195.42 L379.8,195.58 L380.1,195.62 L380.4,195.63 L380.7,195.68 L381,195.76 L381.3,195.83 L381.6,195.87 L381.9,195.87 L382.2,195.85 L382.5,195.77 L382.8,195.64 L383.1,195.43 L383.4,195.18 L383.7,194.95 L384,194.83 L384.3,194.88 L384.6,195.07 L384.9,195.34 L385.2,195.58 L385.5,195.74 L385.8,195.8 L386.1,195.75 L386.4,195.61 L386.7,195.35 L387,194.96 L387.3,194.5 L387.6,194.12 L387.9,193.99 L388.2,194.17 L388.5,194.53 L388.8,194.92 L389.1,195.23 L389.4,195.48 L389.7,195.64 L390,195.73 L390.3,195.74 L390.6,195.66 L390.9,195.58 L391.2,195.57 L391.5,195.64 L391.8,195.73 L392.1,195.8 L392.4,195.8 L392.7,195.75 L393,195.63 L393.3,195.42 L393.6,195.13 L393.9,194.88 L394.2,194.78 L394.5,194.86 L394.8,195.1 L395.1,195.4 L395.4,195.61 L395.7,195.68 L396,195.53 L396.3,195.27 L396.6,195.02 L396.9,195 L397.2,195.21 L397.5,195.51 L397.8,195.72 L398.1,195.81 L398.4,195.75 L398.7,195.59 L399,195.3 L399.3,194.94 L399.6,194.6 L399.9,194.44 L400.2,194.45 L400.5,194.55 L400.8,194.62 L401.1,194.62 L401.4,194.57 L401.7,194.48 L402,194.24 L402.3,193.77 L402.6,193.06 L402.9,192.24 L403.2,191.54 L403.5,191.16 L403.8,191.23 L404.1,191.67 L404.4,192.28 L404.7,192.82 L405,193.14 L405.3,193.18 L405.6,193.02 L405.9,192.85 L406.2,192.85 L406.5,192.96 L406.8,192.98 L407.1,192.85 L407.4,192.64 L407.7,192.47 L408,192.23 L408.3,191.81 L408.6,191.25 L408.9,190.82 L409.2,190.79 L409.5,191.26 L409.8,192.16 L410.1,193.24 L410.4,194.23 L410.7,194.97 L411,195.43 L411.3,195.67 L411.6,195.77 L411.9,195.81 L412.2,195.8 L412.5,195.73 L412.8,195.53 L413.1,195.24 L413.4,194.98 L413.7,194.94 L414,195.13 L414.3,195.37 L414.6,195.49 L414.9,195.47 L415.2,195.44 L415.5,195.5 L415.8,195.64 L416.1,195.77 L416.4,195.85 L416.7,195.89 L417,195.88 L417.3,195.81 L417.6,195.65 L417.9,195.37 L418.2,195.06 L418.5,194.88 L418.8,194.91 L419.1,195.1 L419.4,195.32 L419.7,195.47 L420,195.53 L420.3,195.43 L420.6,195.18 L420.9,194.92 L421.2,194.84 L421.5,194.95 L421.8,195.07 L422.1,195.14 L422.4,195.22 L422.7,195.39 L423,195.6 L423.3,195.73 L423.6,195.74 L423.9,195.62 L424.2,195.44 L424.5,195.32 L424.8,195.35 L425.1,195.52 L425.4,195.69 L425.7,195.79 L426,195.79 L426.3,195.74 L426.6,195.69 L426.9,195.69 L427.2,195.72 L427.5,195.68 L427.8,195.53 L428.1,195.29 L428.4,195.09 L428.7,195.06 L429,195.15 L429.3,195.18 L429.6,195.1 L429.9,195.04 L430.2,195.14 L430.5,195.31 L430.8,195.43 L431.1,195.41 L431.4,195.3 L431.7,195.16 L432,195.01 L432.3,194.84 L432.6,194.64 L432.9,194.44 L433.2,194.28 L433.5,194.19 L433.8,194.15 L434.1,194.12 L434.4,194.01 L434.7,193.77 L435,193.48 L435.3,193.27 L435.6,193.22 L435.9,193.22 L436.2,193.17 L436.5,193.12 L436.8,193.24 L437.1,193.56 L437.4,193.93 L437.7,194.16 L438,194.22 L438.3,194.24 L438.6,194.34 L438.9,194.54 L439.2,194.72 L439.5,194.81 L439.8,194.83 L440.1,194.87 L440.4,194.93 L440.7,195.04 L441,195.19 L441.3,195.36 L441.6,195.52 L441.9,195.64 L442.2,195.67 L442.5,195.59 L442.8,195.47 L443.1,195.41 L443.4,195.47 L443.7,195.62 L444,195.77 L444.3,195.85 L444.6,195.89 L444.9,195.9 L445.2,195.9 L445.5,195.89 L445.8,195.88 L446.1,195.85 L446.4,195.83 L446.7,195.79 L447,195.75 L447.3,195.66 L447.6,195.52 L447.9,195.39 L448.2,195.36 L448.5,195.46 L448.8,195.6 L449.1,195.68 L449.4,195.69 L449.7,195.68 L450,195.67 L450.3,195.65 L450.6,195.61 L450.9,195.6 L451.2,195.66 L451.5,195.75 L451.8,195.82 L452.1,195.83 L452.4,195.76 L452.7,195.57 L453,195.3 L453.3,195.09 L453.6,195.08 L453.9,195.24 L454.2,195.43 L454.5,195.52 L454.8,195.49 L455.1,195.35 L455.4,195.17 L455.7,195.11 L456,195.24 L456.3,195.47 L456.6,195.65 L456.9,195.66 L457.2,195.48 L457.5,195.18 L457.8,194.93 L458.1,194.89 L458.4,195.04 L458.7,195.26 L459,195.46 L459.3,195.58 L459.6,195.63 L459.9,195.62 L460.2,195.62 L460.5,195.68 L460.8,195.76 L461.1,195.81 L461.4,195.81 L461.7,195.76 L462,195.73 L462.3,195.73 L462.6,195.78 L462.9,195.83 L463.2,195.85 L463.5,195.8 L463.8,195.65 L464.1,195.36 L464.4,195.02 L464.7,194.82 L465,194.88 L465.3,195.14 L465.6,195.38 L465.9,195.47 L466.2,195.45 L466.5,195.48 L466.8,195.57 L467.1,195.71 L467.4,195.81 L467.7,195.87 L468,195.89 L468.3,195.9 L468.6,195.9 L468.9,195.9 L469.2,195.89 L469.5,195.89 L469.8,195.88 L470.1,195.86 L470.4,195.84 L470.7,195.82 L471,195.78 L471.3,195.71 L471.6,195.63 L471.9,195.6 L472.2,195.63 L472.5,195.67 L472.8,195.61 L473.1,195.44 L473.4,195.24 L473.7,195.18 L474,195.3 L474.3,195.53 L474.6,195.73 L474.9,195.82 L475.2,195.84 L475.5,195.83 L475.8,195.81 L476.1,195.82 L476.4,195.84 L476.7,195.87 L477,195.89 L477.3,195.9 L477.6,195.9 L477.9,195.89 L478.2,195.88 L478.5,195.84 L478.8,195.78 L479.1,195.69 L479.4,195.54 L479.7,195.38 L480,195.3 L480.3,195.36 L480.6,195.51 L480.9,195.59 L481.2,195.53 L481.5,195.36 L481.8,195.25 L482.1,195.26 L482.4,195.36 L482.7,195.37 L483,195.23 L483.3,195.03 L483.6,194.96 L483.9,195.01 L484.2,195.06 L484.5,195.03 L484.8,194.99 L485.1,195.02 L485.4,195.15 L485.7,195.36 L486,195.58 L486.3,195.71 L486.6,195.73 L486.9,195.64 L487.2,195.52 L487.5,195.47 L487.8,195.54 L488.1,195.68 L488.4,195.77 L488.7,195.78 L489,195.65 L489.3,195.39 L489.6,195.11 L489.9,194.98 L490.2,195.1 L490.5,195.37 L490.8,195.6 L491.1,195.73 L491.4,195.79 L491.7,195.83 L492,195.83 L492.3,195.8 L492.6,195.69 L492.9,195.53 L493.2,195.39 L493.5,195.34 L493.8,195.34 L494.1,195.27 L494.4,195.12 L494.7,195.02 L495,195.13 L495.3,195.39 L495.6,195.64 L495.9,195.81 L496.2,195.86 L496.5,195.84 L496.8,195.75 L497.1,195.63 L497.4,195.51 L497.7,195.47 L498,195.45 L498.3,195.37 L498.6,195.18 L498.9,195.03 L499.2,195.07 L499.5,195.31 L499.8,195.58 L500.1,195.77 L500.4,195.85 L500.7,195.88 L501,195.88 L501.3,195.86 L501.6,195.82 L501.9,195.71 L502.2,195.51 L502.5,195.29 L502.8,195.14 L503.1,195.11 L503.4,195.1 L503.7,195.08 L504,195.12 L504.3,195.29 L504.6,195.53 L504.9,195.71 L505.2,195.79 L505.5,195.81 L505.8,195.83 L506.1,195.84 L506.4,195.83 L506.7,195.79 L507,195.69 L507.3,195.53 L507.6,195.35 L507.9,195.27 L508.2,195.35 L508.5,195.53 L508.8,195.67 L509.1,195.66 L509.4,195.47 L509.7,195.19 L510,194.99 L510.3,195.04 L510.6,195.3 L510.6,197.6 Z" fill="#111111"/>
<path d="M336,214.8 L336,212.67 L336.3,212.75 L336.6,212.92 L336.9,213.07 L337.2,213.15 L337.5,213.17 L337.8,213.15 L338.1,213.05 L338.4,212.85 L338.7,212.62 L339,212.48 L339.3,212.53 L339.6,212.73 L339.9,212.94 L340.2,213.03 L340.5,212.98 L340.8,212.87 L341.1,212.78 L341.4,212.79 L341.7,212.86 L342,212.91 L342.3,212.9 L342.6,212.89 L342.9,212.94 L343.2,213.03 L343.5,213.12 L343.8,213.16 L344.1,213.17 L344.4,213.16 L344.7,213.09 L345,212.96 L345.3,212.78 L345.6,212.65 L345.9,212.63 L346.2,210.34 L346.5,206.81 L346.8,203.01 L347.1,199.84 L347.4,198.66 L347.7,197.7 L348,198.1 L348.3,198.85 L348.6,199.7 L348.9,202.13 L349.2,204.14 L349.5,205.56 L349.8,206.3 L350.1,207.36 L350.4,208.56 L350.7,209.51 L351,209.98 L351.3,210.29 L351.6,210.54 L351.9,210.8 L352.2,211.11 L352.5,211.28 L352.8,211.34 L353.1,211.42 L353.4,211.6 L353.7,211.9 L354,212.2 L354.3,212.37 L354.6,212.47 L354.9,212.53 L355.2,212.53 L355.5,212.51 L355.8,212.5 L356.1,212.28 L356.4,211.59 L356.7,210.87 L357,210.09 L357.3,209.26 L357.6,208.95 L357.9,209.69 L358.2,210.51 L358.5,211.47 L358.8,212 L359.1,212.27 L359.4,212.46 L359.7,212.56 L360,212.6 L360.3,212.57 L360.6,212.46 L360.9,212.31 L361.2,212.18 L361.5,212.14 L361.8,212.17 L362.1,212.26 L362.4,212.4 L362.7,212.6 L363,212.77 L363.3,212.84 L363.6,212.86 L363.9,212.87 L364.2,212.86 L364.5,212.81 L364.8,212.66 L365.1,212.44 L365.4,212.22 L365.7,212.15 L366,212.16 L366.3,212.15 L366.6,212.13 L366.9,212.21 L367.2,212.42 L367.5,212.66 L367.8,212.81 L368.1,212.86 L368.4,212.86 L368.7,212.82 L369,212.76 L369.3,212.64 L369.6,212.44 L369.9,212.28 L370.2,212.27 L370.5,212.42 L370.8,212.62 L371.1,212.76 L371.4,212.83 L371.7,212.85 L372,212.85 L372.3,212.82 L372.6,212.79 L372.9,212.8 L373.2,212.84 L373.5,212.88 L373.8,212.91 L374.1,212.92 L374.4,212.91 L374.7,212.9 L375,212.87 L375.3,212.82 L375.6,212.78 L375.9,212.77 L376.2,212.8 L376.5,212.84 L376.8,212.85 L377.1,212.81 L377.4,212.71 L377.7,212.61 L378,212.55 L378.3,212.55 L378.6,212.51 L378.9,212.35 L379.2,212.11 L379.5,211.97 L379.8,212.03 L380.1,212.18 L380.4,212.25 L380.7,212.21 L381,212.21 L381.3,212.34 L381.6,212.54 L381.9,212.71 L382.2,212.78 L382.5,212.77 L382.8,212.75 L383.1,212.75 L383.4,212.78 L383.7,212.82 L384,212.84 L384.3,212.83 L384.6,212.77 L384.9,212.67 L385.2,212.52 L385.5,212.38 L385.8,212.31 L386.1,212.37 L386.4,212.53 L386.7,212.69 L387,212.8 L387.3,212.83 L387.6,212.83 L387.9,212.76 L388.2,212.6 L388.5,212.33 L388.8,212.04 L389.1,211.85 L389.4,211.9 L389.7,212.15 L390,212.46 L390.3,212.67 L390.6,212.77 L390.9,212.78 L391.2,212.75 L391.5,212.72 L391.8,212.7 L392.1,212.66 L392.4,212.57 L392.7,212.43 L393,212.32 L393.3,212.32 L393.6,212.39 L393.9,212.38 L394.2,212.18 L394.5,211.83 L394.8,211.51 L395.1,211.37 L395.4,211.51 L395.7,211.84 L396,212.22 L396.3,212.47 L396.6,212.54 L396.9,212.48 L397.2,212.43 L397.5,212.45 L397.8,212.55 L398.1,212.59 L398.4,212.46 L398.7,212.26 L399,212 L399.3,211.68 L399.6,211.35 L399.9,211.14 L400.2,211.05 L400.5,211.01 L400.8,210.84 L401.1,210.3 L401.4,209.31 L401.7,208.49 L402,207.93 L402.3,207.5 L402.6,207.1 L402.9,206.8 L403.2,206.45 L403.5,206.18 L403.8,205.97 L404.1,205.9 L404.4,206.06 L404.7,206.11 L405,206.05 L405.3,205.92 L405.6,205.88 L405.9,205.9 L406.2,205.83 L406.5,205.79 L406.8,205.63 L407.1,205.42 L407.4,205.25 L407.7,204.94 L408,204.67 L408.3,204.56 L408.6,204.55 L408.9,204.5 L409.2,204.46 L409.5,204.63 L409.8,205.2 L410.1,205.88 L410.4,206.4 L410.7,206.71 L411,206.94 L411.3,206.65 L411.6,206.43 L411.9,206.2 L412.2,205.87 L412.5,205.42 L412.8,205.26 L413.1,205.8 L413.4,206.38 L413.7,207.09 L414,208.04 L414.3,209 L414.6,209.58 L414.9,209.96 L415.2,210.08 L415.5,210.05 L415.8,210.06 L416.1,210.23 L416.4,210.51 L416.7,210.82 L417,211.02 L417.3,211.09 L417.6,211.11 L417.9,211.16 L418.2,211.27 L418.5,211.41 L418.8,211.55 L419.1,211.67 L419.4,211.74 L419.7,211.75 L420,211.7 L420.3,211.42 L420.6,211.18 L420.9,211.03 L421.2,210.93 L421.5,210.79 L421.8,210.63 L422.1,210.52 L422.4,210.51 L422.7,210.52 L423,210.49 L423.3,210.4 L423.6,210.25 L423.9,210.08 L424.2,209.93 L424.5,209.74 L424.8,209.48 L425.1,209.15 L425.4,208.87 L425.7,208.75 L426,208.76 L426.3,208.76 L426.6,208.75 L426.9,208.7 L427.2,208.63 L427.5,208.48 L427.8,208.25 L428.1,207.91 L428.4,207.49 L428.7,207.09 L429,206.86 L429.3,206.82 L429.6,206.83 L429.9,206.76 L430.2,206.6 L430.5,206.39 L430.8,206.07 L431.1,205.75 L431.4,205.41 L431.7,205.06 L432,204.7 L432.3,204.57 L432.6,204.86 L432.9,205.16 L433.2,205.44 L433.5,205.69 L433.8,205.72 L434.1,205.39 L434.4,205.1 L434.7,204.84 L435,204.57 L435.3,204.28 L435.6,203.98 L435.9,203.66 L436.2,203.31 L436.5,202.96 L436.8,203.11 L437.1,203.48 L437.4,203.73 L437.7,203.81 L438,203.9 L438.3,204.29 L438.6,205.06 L438.9,206.01 L439.2,206.88 L439.5,207.56 L439.8,208.01 L440.1,208.4 L440.4,208.76 L440.7,209.06 L441,209.25 L441.3,209.09 L441.6,208.99 L441.9,209.04 L442.2,209.2 L442.5,209.35 L442.8,209.52 L443.1,209.81 L443.4,210.2 L443.7,210.55 L444,210.74 L444.3,210.78 L444.6,210.82 L444.9,210.93 L445.2,210.99 L445.5,210.97 L445.8,210.86 L446.1,210.61 L446.4,210.28 L446.7,210.01 L447,209.9 L447.3,209.96 L447.6,210.48 L447.9,210.9 L448.2,211.19 L448.5,211.4 L448.8,211.58 L449.1,211.72 L449.4,211.73 L449.7,211.72 L450,211.64 L450.3,211.59 L450.6,211.65 L450.9,211.84 L451.2,212.01 L451.5,212.09 L451.8,212.12 L452.1,212.16 L452.4,212.21 L452.7,212.27 L453,212.32 L453.3,212.38 L453.6,212.45 L453.9,212.5 L454.2,212.53 L454.5,212.55 L454.8,212.58 L455.1,212.58 L455.4,212.54 L455.7,212.43 L456,212.2 L456.3,211.89 L456.6,211.67 L456.9,211.69 L457.2,211.91 L457.5,212.1 L457.8,212.11 L458.1,211.93 L458.4,211.77 L458.7,211.79 L459,212.01 L459.3,212.28 L459.6,212.46 L459.9,212.54 L460.2,212.56 L460.5,212.55 L460.8,212.56 L461.1,212.57 L461.4,212.56 L461.7,212.52 L462,212.42 L462.3,212.26 L462.6,212.13 L462.9,212.1 L463.2,212.18 L463.5,212.26 L463.8,212.23 L464.1,212.13 L464.4,212.07 L464.7,212.11 L465,212.21 L465.3,212.28 L465.6,212.3 L465.9,212.3 L466.2,212.26 L466.5,212.13 L466.8,211.93 L467.1,211.81 L467.4,211.87 L467.7,212.05 L468,212.25 L468.3,212.39 L468.6,212.48 L468.9,212.55 L469.2,212.58 L469.5,212.59 L469.8,212.59 L470.1,212.59 L470.4,212.59 L470.7,212.59 L471,212.59 L471.3,212.58 L471.6,212.56 L471.9,212.46 L472.2,212.28 L472.5,212.02 L472.8,211.84 L473.1,211.84 L473.4,212 L473.7,212.2 L474,212.3 L474.3,212.31 L474.6,212.23 L474.9,212.05 L475.2,211.86 L475.5,211.79 L475.8,211.92 L476.1,212.17 L476.4,212.39 L476.7,212.49 L477,212.52 L477.3,212.52 L477.6,212.53 L477.9,212.54 L478.2,212.53 L478.5,212.49 L478.8,212.43 L479.1,212.37 L479.4,212.33 L479.7,212.33 L480,212.38 L480.3,212.45 L480.6,212.52 L480.9,212.56 L481.2,212.58 L481.5,212.59 L481.8,212.58 L482.1,212.57 L482.4,212.57 L482.7,212.56 L483,212.54 L483.3,212.48 L483.6,212.38 L483.9,212.3 L484.2,212.28 L484.5,212.32 L484.8,212.32 L485.1,212.21 L485.4,212.01 L485.7,211.86 L486,211.88 L486.3,212.06 L486.6,212.22 L486.9,212.27 L487.2,212.26 L487.5,212.26 L487.8,212.32 L488.1,212.37 L488.4,212.37 L488.7,212.33 L489,212.32 L489.3,212.36 L489.6,212.44 L489.9,212.5 L490.2,212.5 L490.5,212.47 L490.8,212.45 L491.1,212.46 L491.4,212.48 L491.7,212.45 L492,212.31 L492.3,212.06 L492.6,211.83 L492.9,211.78 L493.2,211.95 L493.5,212.21 L493.8,212.39 L494.1,212.4 L494.4,212.28 L494.7,212.09 L495,211.94 L495.3,211.9 L495.6,211.92 L495.9,211.97 L496.2,212.05 L496.5,212.2 L496.8,212.38 L497.1,212.5 L497.4,212.56 L497.7,212.57 L498,212.55 L498.3,212.53 L498.6,212.52 L498.9,212.51 L499.2,212.49 L499.5,212.47 L499.8,212.46 L500.1,212.46 L500.4,212.44 L500.7,212.35 L501,212.21 L501.3,212.1 L501.6,212.12 L501.9,212.25 L502.2,212.41 L502.5,212.49 L502.8,212.46 L503.1,212.32 L503.4,212.11 L503.7,211.94 L504,211.94 L504.3,212.1 L504.6,212.29 L504.9,212.4 L505.2,212.46 L505.5,212.5 L505.8,212.53 L506.1,212.56 L506.4,212.58 L506.7,212.58 L507,212.56 L507.3,212.53 L507.6,212.51 L507.9,212.5 L508.2,212.51 L508.5,212.51 L508.8,212.46 L509.1,212.34 L509.4,212.22 L509.7,212.18 L510,212.25 L510.3,212.37 L510.6,212.48 L510.6,214.8 Z" fill="#e0382e"/>
<path d="M336,232.6 L336,231.04 L336.3,231.09 L336.6,231.14 L336.9,231.17 L337.2,231.19 L337.5,231.19 L337.8,231.17 L338.1,231.16 L338.4,231.15 L338.7,231.15 L339,231.16 L339.3,231.17 L339.6,231.17 L339.9,231.15 L340.2,231.12 L340.5,231.09 L340.8,231.08 L341.1,231.09 L341.4,231.11 L341.7,231.11 L342,231.11 L342.3,231.12 L342.6,231.15 L342.9,231.17 L343.2,231.19 L343.5,231.19 L343.8,231.16 L344.1,231.1 L344.4,230.97 L344.7,230.72 L345,230.33 L345.3,229.75 L345.6,228.94 L345.9,227.8 L346.2,226.27 L346.5,224.41 L346.8,222.38 L347.1,220.47 L347.4,218.98 L347.7,218.23 L348,218.36 L348.3,219.31 L348.6,220.85 L348.9,222.71 L349.2,224.6 L349.5,226.33 L349.8,227.79 L350.1,228.95 L350.4,229.8 L350.7,230.36 L351,230.71 L351.3,230.92 L351.6,231.04 L351.9,231.11 L352.2,231.12 L352.5,231.11 L352.8,231.11 L353.1,231.12 L353.4,231.13 L353.7,231.14 L354,231.14 L354.3,231.13 L354.6,231.11 L354.9,231.06 L355.2,231 L355.5,230.96 L355.8,230.92 L356.1,230.83 L356.4,230.63 L356.7,230.35 L357,230.14 L357.3,230.15 L357.6,230.37 L357.9,230.66 L358.2,230.9 L358.5,231.01 L358.8,231.02 L359.1,231.03 L359.4,231.06 L359.7,231.11 L360,231.15 L360.3,231.16 L360.6,231.17 L360.9,231.17 L361.2,231.17 L361.5,231.16 L361.8,231.14 L362.1,231.11 L362.4,231.11 L362.7,231.13 L363,231.15 L363.3,231.18 L363.6,231.19 L363.9,231.19 L364.2,231.18 L364.5,231.18 L364.8,231.18 L365.1,231.18 L365.4,231.17 L365.7,231.17 L366,231.17 L366.3,231.18 L366.6,231.19 L366.9,231.19 L367.2,231.19 L367.5,231.2 L367.8,231.2 L368.1,231.19 L368.4,231.18 L368.7,231.15 L369,231.13 L369.3,231.13 L369.6,231.14 L369.9,231.17 L370.2,231.18 L370.5,231.19 L370.8,231.18 L371.1,231.16 L371.4,231.1 L371.7,231.03 L372,230.97 L372.3,230.97 L372.6,231.01 L372.9,231.06 L373.2,231.09 L373.5,231.11 L373.8,231.14 L374.1,231.17 L374.4,231.18 L374.7,231.18 L375,231.16 L375.3,231.11 L375.6,231.04 L375.9,230.99 L376.2,230.98 L376.5,231.02 L376.8,231.07 L377.1,231.09 L377.4,231.09 L377.7,231.06 L378,230.99 L378.3,230.93 L378.6,230.91 L378.9,230.97 L379.2,231.06 L379.5,231.14 L379.8,231.17 L380.1,231.18 L380.4,231.18 L380.7,231.17 L381,231.17 L381.3,231.16 L381.6,231.14 L381.9,231.1 L382.2,231.07 L382.5,231.07 L382.8,231.09 L383.1,231.12 L383.4,231.13 L383.7,231.11 L384,231.08 L384.3,231.04 L384.6,231.01 L384.9,231.02 L385.2,231.07 L385.5,231.12 L385.8,231.16 L386.1,231.18 L386.4,231.19 L386.7,231.19 L387,231.18 L387.3,231.14 L387.6,231.1 L387.9,231.07 L388.2,231.05 L388.5,231.04 L388.8,231.01 L389.1,230.94 L389.4,230.88 L389.7,230.88 L390,230.94 L390.3,231.03 L390.6,231.1 L390.9,231.14 L391.2,231.15 L391.5,231.16 L391.8,231.15 L392.1,231.12 L392.4,231.1 L392.7,231.11 L393,231.13 L393.3,231.16 L393.6,231.18 L393.9,231.2 L394.2,231.19 L394.5,231.17 L394.8,231.12 L395.1,231.04 L395.4,230.95 L395.7,230.91 L396,230.94 L396.3,231.01 L396.6,231.05 L396.9,231.04 L397.2,231.02 L397.5,231.01 L397.8,231.02 L398.1,231.04 L398.4,231.07 L398.7,231.11 L399,231.15 L399.3,231.18 L399.6,231.19 L399.9,231.19 L400.2,231.19 L400.5,231.17 L400.8,231.16 L401.1,231.16 L401.4,231.17 L401.7,231.16 L402,231.14 L402.3,231.06 L402.6,230.89 L402.9,230.62 L403.2,230.24 L403.5,229.78 L403.8,229.36 L404.1,229.09 L404.4,229.05 L404.7,229.22 L405,229.5 L405.3,229.77 L405.6,229.98 L405.9,230.15 L406.2,230.3 L406.5,230.47 L406.8,230.64 L407.1,230.81 L407.4,230.96 L407.7,231.06 L408,231.13 L408.3,231.17 L408.6,231.19 L408.9,231.19 L409.2,231.18 L409.5,231.16 L409.8,231.13 L410.1,231.11 L410.4,231.1 L410.7,231.12 L411,231.15 L411.3,231.16 L411.6,231.16 L411.9,231.15 L412.2,231.14 L412.5,231.11 L412.8,231.06 L413.1,230.99 L413.4,230.96 L413.7,230.98 L414,231.05 L414.3,231.12 L414.6,231.15 L414.9,231.16 L415.2,231.17 L415.5,231.18 L415.8,231.18 L416.1,231.18 L416.4,231.17 L416.7,231.14 L417,231.12 L417.3,231.11 L417.6,231.13 L417.9,231.16 L418.2,231.18 L418.5,231.19 L418.8,231.2 L419.1,231.2 L419.4,231.19 L419.7,231.16 L420,231.11 L420.3,231.04 L420.6,230.99 L420.9,230.99 L421.2,231.05 L421.5,231.11 L421.8,231.13 L422.1,231.12 L422.4,231.08 L422.7,231.05 L423,231.06 L423.3,231.09 L423.6,231.14 L423.9,231.17 L424.2,231.18 L424.5,231.17 L424.8,231.14 L425.1,231.11 L425.4,231.1 L425.7,231.1 L426,231.1 L426.3,231.06 L426.6,231.01 L426.9,230.98 L427.2,231 L427.5,231.04 L427.8,231.06 L428.1,231.04 L428.4,231.03 L428.7,231.05 L429,231.09 L429.3,231.12 L429.6,231.1 L429.9,231.03 L430.2,230.96 L430.5,230.93 L430.8,230.97 L431.1,231.03 L431.4,231.06 L431.7,231.06 L432,231.05 L432.3,231.07 L432.6,231.12 L432.9,231.16 L433.2,231.18 L433.5,231.19 L433.8,231.18 L434.1,231.15 L434.4,231.1 L434.7,231.03 L435,230.98 L435.3,230.97 L435.6,230.99 L435.9,230.99 L436.2,230.95 L436.5,230.91 L436.8,230.93 L437.1,231.01 L437.4,231.1 L437.7,231.16 L438,231.18 L438.3,231.2 L438.6,231.19 L438.9,231.19 L439.2,231.19 L439.5,231.19 L439.8,231.18 L440.1,231.17 L440.4,231.11 L440.7,231.03 L441,230.94 L441.3,230.9 L441.6,230.94 L441.9,231.02 L442.2,231.06 L442.5,231.06 L442.8,231.05 L443.1,231.06 L443.4,231.1 L443.7,231.15 L444,231.17 L444.3,231.18 L444.6,231.17 L444.9,231.16 L445.2,231.15 L445.5,231.15 L445.8,231.16 L446.1,231.16 L446.4,231.15 L446.7,231.15 L447,231.16 L447.3,231.18 L447.6,231.19 L447.9,231.19 L448.2,231.19 L448.5,231.18 L448.8,231.17 L449.1,231.16 L449.4,231.16 L449.7,231.17 L450,231.19 L450.3,231.19 L450.6,231.2 L450.9,231.19 L451.2,231.18 L451.5,231.16 L451.8,231.14 L452.1,231.14 L452.4,231.16 L452.7,231.17 L453,231.16 L453.3,231.11 L453.6,231.04 L453.9,230.98 L454.2,230.97 L454.5,231.02 L454.8,231.09 L455.1,231.13 L455.4,231.1 L455.7,231.03 L456,230.94 L456.3,230.9 L456.6,230.95 L456.9,231.04 L457.2,231.12 L457.5,231.16 L457.8,231.17 L458.1,231.16 L458.4,231.16 L458.7,231.17 L459,231.17 L459.3,231.16 L459.6,231.12 L459.9,231.08 L460.2,231.04 L460.5,231.03 L460.8,231.05 L461.1,231.08 L461.4,231.12 L461.7,231.16 L462,231.18 L462.3,231.19 L462.6,231.2 L462.9,231.2 L463.2,231.2 L463.5,231.19 L463.8,231.19 L464.1,231.19 L464.4,231.18 L464.7,231.16 L465,231.12 L465.3,231.04 L465.6,230.97 L465.9,230.95 L466.2,230.99 L466.5,231.05 L466.8,231.07 L467.1,231.03 L467.4,230.98 L467.7,230.97 L468,231 L468.3,231.03 L468.6,231.04 L468.9,231.03 L469.2,231.05 L469.5,231.1 L469.8,231.15 L470.1,231.18 L470.4,231.19 L470.7,231.19 L471,231.17 L471.3,231.12 L471.6,231.04 L471.9,230.97 L472.2,230.95 L472.5,230.98 L472.8,231.02 L473.1,231.05 L473.4,231.09 L473.7,231.13 L474,231.16 L474.3,231.18 L474.6,231.17 L474.9,231.14 L475.2,231.11 L475.5,231.1 L475.8,231.11 L476.1,231.13 L476.4,231.14 L476.7,231.11 L477,231.08 L477.3,231.05 L477.6,231.03 L477.9,231 L478.2,230.99 L478.5,231 L478.8,231.06 L479.1,231.12 L479.4,231.17 L479.7,231.19 L480,231.19 L480.3,231.18 L480.6,231.15 L480.9,231.08 L481.2,230.99 L481.5,230.94 L481.8,230.95 L482.1,231 L482.4,231.03 L482.7,231 L483,230.95 L483.3,230.94 L483.6,230.99 L483.9,231.08 L484.2,231.15 L484.5,231.18 L484.8,231.17 L485.1,231.13 L485.4,231.06 L485.7,231 L486,230.97 L486.3,231.01 L486.6,231.06 L486.9,231.09 L487.2,231.08 L487.5,231.04 L487.8,231.04 L488.1,231.07 L488.4,231.12 L488.7,231.16 L489,231.18 L489.3,231.18 L489.6,231.19 L489.9,231.2 L490.2,231.2 L490.5,231.2 L490.8,231.2 L491.1,231.2 L491.4,231.19 L491.7,231.19 L492,231.18 L492.3,231.15 L492.6,231.12 L492.9,231.09 L493.2,231.1 L493.5,231.13 L493.8,231.16 L494.1,231.17 L494.4,231.17 L494.7,231.15 L495,231.13 L495.3,231.13 L495.6,231.14 L495.9,231.14 L496.2,231.13 L496.5,231.09 L496.8,231.07 L497.1,231.08 L497.4,231.11 L497.7,231.14 L498,231.15 L498.3,231.13 L498.6,231.11 L498.9,231.11 L499.2,231.13 L499.5,231.13 L499.8,231.1 L500.1,231.06 L500.4,231.03 L500.7,231.06 L501,231.11 L501.3,231.15 L501.6,231.18 L501.9,231.18 L502.2,231.16 L502.5,231.13 L502.8,231.11 L503.1,231.1 L503.4,231.09 L503.7,231.1 L504,231.12 L504.3,231.15 L504.6,231.16 L504.9,231.15 L505.2,231.08 L505.5,230.99 L505.8,230.91 L506.1,230.9 L506.4,230.94 L506.7,231 L507,231.03 L507.3,231.06 L507.6,231.1 L507.9,231.14 L508.2,231.16 L508.5,231.17 L508.8,231.17 L509.1,231.17 L509.4,231.16 L509.7,231.16 L510,231.15 L510.3,231.15 L510.6,231.16 L510.6,232.6 Z" fill="#111111"/>
<path d="M336,252 L336,250.42 L336.3,250.49 L336.6,250.55 L336.9,250.58 L337.2,250.58 L337.5,250.58 L337.8,250.55 L338.1,250.53 L338.4,250.5 L338.7,250.46 L339,250.42 L339.3,250.4 L339.6,250.42 L339.9,250.46 L340.2,250.49 L340.5,250.5 L340.8,250.51 L341.1,250.54 L341.4,250.55 L341.7,250.56 L342,250.56 L342.3,250.57 L342.6,250.58 L342.9,250.59 L343.2,250.59 L343.5,250.59 L343.8,250.57 L344.1,250.56 L344.4,250.55 L344.7,250.56 L345,250.57 L345.3,250.59 L345.6,250.59 L345.9,250.59 L346.2,250.58 L346.5,248.84 L346.8,247.09 L347.1,245.36 L347.4,244.54 L347.7,244.18 L348,243.81 L348.3,243.59 L348.6,243.7 L348.9,243.79 L349.2,243.87 L349.5,244.3 L349.8,244.89 L350.1,245.45 L350.4,246 L350.7,246.55 L351,247.2 L351.3,247.94 L351.6,248.65 L351.9,249.26 L352.2,249.81 L352.5,250.34 L352.8,250.5 L353.1,250.5 L353.4,250.51 L353.7,250.5 L354,250.45 L354.3,250.39 L354.6,250.34 L354.9,250.31 L355.2,250.29 L355.5,250.26 L355.8,250.23 L356.1,250.24 L356.4,250.3 L356.7,250.39 L357,250.46 L357.3,250.43 L357.6,250.26 L357.9,249.9 L358.2,249.49 L358.5,249.32 L358.8,249.52 L359.1,249.92 L359.4,250.24 L359.7,250.41 L360,250.48 L360.3,250.5 L360.6,250.49 L360.9,250.44 L361.2,250.38 L361.5,250.38 L361.8,250.42 L362.1,250.49 L362.4,250.55 L362.7,250.58 L363,250.58 L363.3,250.58 L363.6,250.57 L363.9,250.54 L364.2,250.5 L364.5,250.46 L364.8,250.46 L365.1,250.48 L365.4,250.49 L365.7,250.49 L366,250.49 L366.3,250.5 L366.6,250.51 L366.9,250.5 L367.2,250.48 L367.5,250.48 L367.8,250.5 L368.1,250.52 L368.4,250.48 L368.7,250.38 L369,250.24 L369.3,250.14 L369.6,250.13 L369.9,250.22 L370.2,250.35 L370.5,250.43 L370.8,250.43 L371.1,250.4 L371.4,250.39 L371.7,250.43 L372,250.5 L372.3,250.55 L372.6,250.58 L372.9,250.58 L373.2,250.56 L373.5,250.54 L373.8,250.53 L374.1,250.54 L374.4,250.56 L374.7,250.58 L375,250.58 L375.3,250.57 L375.6,250.54 L375.9,250.49 L376.2,250.44 L376.5,250.41 L376.8,250.41 L377.1,250.45 L377.4,250.5 L377.7,250.52 L378,250.5 L378.3,250.46 L378.6,250.39 L378.9,250.31 L379.2,250.25 L379.5,250.26 L379.8,250.33 L380.1,250.39 L380.4,250.38 L380.7,250.32 L381,250.28 L381.3,250.32 L381.6,250.41 L381.9,250.5 L382.2,250.56 L382.5,250.58 L382.8,250.58 L383.1,250.57 L383.4,250.56 L383.7,250.56 L384,250.57 L384.3,250.58 L384.6,250.59 L384.9,250.58 L385.2,250.57 L385.5,250.56 L385.8,250.56 L386.1,250.57 L386.4,250.58 L386.7,250.59 L387,250.58 L387.3,250.57 L387.6,250.55 L387.9,250.54 L388.2,250.54 L388.5,250.53 L388.8,250.51 L389.1,250.47 L389.4,250.45 L389.7,250.47 L390,250.51 L390.3,250.55 L390.6,250.54 L390.9,250.49 L391.2,250.42 L391.5,250.37 L391.8,250.38 L392.1,250.43 L392.4,250.49 L392.7,250.51 L393,250.52 L393.3,250.52 L393.6,250.53 L393.9,250.52 L394.2,250.49 L394.5,250.46 L394.8,250.44 L395.1,250.44 L395.4,250.41 L395.7,250.34 L396,250.29 L396.3,250.3 L396.6,250.36 L396.9,250.41 L397.2,250.38 L397.5,250.32 L397.8,250.28 L398.1,250.32 L398.4,250.42 L398.7,250.5 L399,250.53 L399.3,250.52 L399.6,250.49 L399.9,250.44 L400.2,250.39 L400.5,250.38 L400.8,250.4 L401.1,250.44 L401.4,250.46 L401.7,250.48 L402,250.5 L402.3,250.51 L402.6,250.49 L402.9,250.42 L403.2,249.42 L403.5,248 L403.8,246.65 L404.1,245.75 L404.4,245.71 L404.7,245.65 L405,245.6 L405.3,245.56 L405.6,245.67 L405.9,246.07 L406.2,246.45 L406.5,246.81 L406.8,246.96 L407.1,247.01 L407.4,247.09 L407.7,247.23 L408,247.41 L408.3,247.56 L408.6,247.7 L408.9,247.89 L409.2,248.11 L409.5,248.38 L409.8,248.65 L410.1,249.04 L410.4,249.39 L410.7,249.74 L411,250.13 L411.3,250.42 L411.6,250.45 L411.9,250.48 L412.2,250.5 L412.5,250.47 L412.8,250.4 L413.1,250.31 L413.4,250.29 L413.7,250.33 L414,250.41 L414.3,250.46 L414.6,250.45 L414.9,250.41 L415.2,250.41 L415.5,250.45 L415.8,250.51 L416.1,250.56 L416.4,250.59 L416.7,250.59 L417,250.59 L417.3,250.59 L417.6,250.59 L417.9,250.59 L418.2,250.58 L418.5,250.55 L418.8,250.49 L419.1,250.38 L419.4,250.29 L419.7,250.26 L420,250.33 L420.3,250.44 L420.6,250.52 L420.9,250.54 L421.2,250.49 L421.5,250.4 L421.8,250.31 L422.1,250.28 L422.4,250.32 L422.7,250.39 L423,250.43 L423.3,250.42 L423.6,250.4 L423.9,250.37 L424.2,250.35 L424.5,250.33 L424.8,250.32 L425.1,250.36 L425.4,250.44 L425.7,250.5 L426,250.54 L426.3,250.54 L426.6,250.54 L426.9,250.55 L427.2,250.56 L427.5,250.55 L427.8,250.51 L428.1,250.45 L428.4,250.41 L428.7,250.4 L429,250.42 L429.3,250.41 L429.6,250.34 L429.9,250.26 L430.2,250.26 L430.5,250.33 L430.8,250.43 L431.1,250.48 L431.4,250.45 L431.7,250.37 L432,250.3 L432.3,250.3 L432.6,250.38 L432.9,250.47 L433.2,250.53 L433.5,250.54 L433.8,250.52 L434.1,250.48 L434.4,250.43 L434.7,249.94 L435,248.6 L435.3,247.25 L435.6,245.95 L435.9,245.86 L436.2,245.86 L436.5,245.92 L436.8,245.99 L437.1,246.34 L437.4,246.6 L437.7,246.78 L438,246.9 L438.3,247.02 L438.6,247.23 L438.9,247.55 L439.2,247.92 L439.5,248.25 L439.8,248.52 L440.1,248.8 L440.4,249.16 L440.7,249.54 L441,249.91 L441.3,250.27 L441.6,250.5 L441.9,250.5 L442.2,250.52 L442.5,250.56 L442.8,250.57 L443.1,250.57 L443.4,250.55 L443.7,250.52 L444,250.5 L444.3,250.51 L444.6,250.54 L444.9,250.55 L445.2,250.54 L445.5,250.48 L445.8,250.39 L446.1,250.29 L446.4,250.25 L446.7,250.29 L447,250.39 L447.3,250.48 L447.6,250.51 L447.9,250.49 L448.2,250.47 L448.5,250.46 L448.8,250.48 L449.1,250.51 L449.4,250.54 L449.7,250.56 L450,250.57 L450.3,250.58 L450.6,250.57 L450.9,250.55 L451.2,250.53 L451.5,250.5 L451.8,250.45 L452.1,250.4 L452.4,250.36 L452.7,250.34 L453,250.35 L453.3,250.4 L453.6,250.47 L453.9,250.52 L454.2,250.54 L454.5,250.52 L454.8,250.5 L455.1,250.48 L455.4,250.46 L455.7,250.44 L456,250.42 L456.3,250.42 L456.6,250.46 L456.9,250.49 L457.2,250.51 L457.5,250.51 L457.8,250.53 L458.1,250.55 L458.4,250.56 L458.7,250.54 L459,250.5 L459.3,250.45 L459.6,250.44 L459.9,250.46 L460.2,250.51 L460.5,250.54 L460.8,250.55 L461.1,250.54 L461.4,250.53 L461.7,250.53 L462,250.55 L462.3,250.56 L462.6,250.55 L462.9,250.54 L463.2,250.54 L463.5,250.55 L463.8,250.56 L464.1,250.57 L464.4,250.57 L464.7,250.56 L465,250.51 L465.3,250.43 L465.6,250.34 L465.9,250.3 L466.2,250.33 L466.5,250.41 L466.8,250.46 L467.1,250.46 L467.4,250.46 L467.7,250.48 L468,250.52 L468.3,250.55 L468.6,250.54 L468.9,250.5 L469.2,250.45 L469.5,250.42 L469.8,250.44 L470.1,250.49 L470.4,250.54 L470.7,250.57 L471,250.57 L471.3,250.57 L471.6,250.55 L471.9,250.52 L472.2,250.49 L472.5,250.46 L472.8,250.44 L473.1,250.43 L473.4,250.42 L473.7,250.43 L474,250.46 L474.3,250.51 L474.6,250.55 L474.9,250.57 L475.2,250.56 L475.5,250.54 L475.8,250.51 L476.1,250.51 L476.4,250.53 L476.7,250.55 L477,250.56 L477.3,250.54 L477.6,250.53 L477.9,250.53 L478.2,250.53 L478.5,250.53 L478.8,250.5 L479.1,250.47 L479.4,250.44 L479.7,250.42 L480,250.39 L480.3,250.31 L480.6,250.24 L480.9,250.23 L481.2,250.3 L481.5,250.4 L481.8,250.49 L482.1,250.54 L482.4,250.57 L482.7,250.59 L483,250.59 L483.3,250.58 L483.6,250.57 L483.9,250.57 L484.2,250.57 L484.5,250.57 L484.8,250.54 L485.1,250.47 L485.4,250.39 L485.7,250.33 L486,250.33 L486.3,250.39 L486.6,250.43 L486.9,250.43 L487.2,250.43 L487.5,250.44 L487.8,250.47 L488.1,250.49 L488.4,250.49 L488.7,250.49 L489,250.51 L489.3,250.55 L489.6,250.57 L489.9,250.59 L490.2,250.59 L490.5,250.59 L490.8,250.59 L491.1,250.59 L491.4,250.59 L491.7,250.59 L492,250.58 L492.3,250.56 L492.6,250.55 L492.9,250.53 L493.2,250.51 L493.5,250.48 L493.8,250.46 L494.1,250.47 L494.4,250.51 L494.7,250.54 L495,250.55 L495.3,250.53 L495.6,250.49 L495.9,250.46 L496.2,250.46 L496.5,250.48 L496.8,250.48 L497.1,250.45 L497.4,250.42 L497.7,250.42 L498,250.43 L498.3,250.41 L498.6,250.38 L498.9,250.37 L499.2,250.41 L499.5,250.47 L499.8,250.52 L500.1,250.55 L500.4,250.56 L500.7,250.56 L501,250.57 L501.3,250.55 L501.6,250.52 L501.9,250.49 L502.2,250.49 L502.5,250.51 L502.8,250.55 L503.1,250.58 L503.4,250.59 L503.7,250.59 L504,250.59 L504.3,250.6 L504.6,250.6 L504.9,250.59 L505.2,250.58 L505.5,250.56 L505.8,250.54 L506.1,250.52 L506.4,250.53 L506.7,250.55 L507,250.56 L507.3,250.56 L507.6,250.55 L507.9,250.55 L508.2,250.56 L508.5,250.57 L508.8,250.55 L509.1,250.49 L509.4,250.41 L509.7,250.35 L510,250.34 L510.3,250.37 L510.6,250.41 L510.6,252 Z" fill="#e0382e"/>
<path d="M336,273.2 L336,272.2 L336.3,272.2 L336.6,272.2 L336.9,272.15 L337.2,271.98 L337.5,271.62 L337.8,271.33 L338.1,271.46 L338.4,271.83 L338.7,272.05 L339,271.99 L339.3,273.2 L339.6,273.2 L339.9,273.2 L340.2,273.2 L340.5,273.2 L340.8,273.2 L341.1,273.2 L341.4,273.2 L341.7,273.2 L342,273.2 L342.3,273.2 L342.6,273.2 L342.9,273.2 L343.2,273.2 L343.5,273.2 L343.8,273.2 L344.1,273.2 L344.4,273.2 L344.7,273.2 L345,272 L345.3,272.15 L345.6,272.2 L345.9,272.2 L346.2,272.19 L346.5,272.18 L346.8,272.14 L347.1,272.1 L347.4,272.04 L347.7,271.32 L348,268.04 L348.3,262.43 L348.6,261.14 L348.9,266.16 L349.2,270.55 L349.5,271.91 L349.8,272.14 L350.1,272.18 L350.4,272.19 L350.7,272.19 L351,272.18 L351.3,272.18 L351.6,272.19 L351.9,272.18 L352.2,272.1 L352.5,271.94 L352.8,271.82 L353.1,271.88 L353.4,272.05 L353.7,272.16 L354,272.19 L354.3,272.2 L354.6,272.18 L354.9,272.12 L355.2,272.03 L355.5,271.97 L355.8,272.02 L356.1,272.12 L356.4,272.18 L356.7,272.2 L357,272.19 L357.3,272.16 L357.6,272.06 L357.9,271.93 L358.2,271.9 L358.5,272.01 L358.8,272.13 L359.1,272.17 L359.4,272.17 L359.7,272.15 L360,272.16 L360.3,272.18 L360.6,272.19 L360.9,272.16 L361.2,272.05 L361.5,271.83 L361.8,271.68 L362.1,271.79 L362.4,272 L362.7,272.09 L363,272.01 L363.3,271.9 L363.6,271.92 L363.9,272.05 L364.2,272.15 L364.5,272.19 L364.8,272.2 L365.1,272.19 L365.4,272.17 L365.7,272.16 L366,272.16 L366.3,272.08 L366.6,271.85 L366.9,271.57 L367.2,271.54 L367.5,271.81 L367.8,272.06 L368.1,272.13 L368.4,272.05 L368.7,271.92 L369,271.89 L369.3,272.01 L369.6,272.13 L369.9,272.16 L370.2,272.11 L370.5,272.01 L370.8,271.92 L371.1,271.77 L371.4,271.56 L371.7,271.55 L372,271.81 L372.3,272.06 L372.6,272.17 L372.9,272.16 L373.2,272.09 L373.5,272.02 L373.8,271.96 L374.1,271.82 L374.4,271.53 L374.7,271.42 L375,271.67 L375.3,271.99 L375.6,272.15 L375.9,272.2 L376.2,272.2 L376.5,272.19 L376.8,272.18 L377.1,272.17 L377.4,272.17 L377.7,272.18 L378,272.14 L378.3,271.98 L378.6,271.68 L378.9,271.51 L379.2,271.67 L379.5,271.97 L379.8,272.14 L380.1,272.19 L380.4,272.2 L380.7,272.19 L381,272.16 L381.3,272.1 L381.6,272.06 L381.9,272.05 L382.2,271.95 L382.5,271.66 L382.8,271.38 L383.1,271.45 L383.4,271.7 L383.7,271.83 L384,271.9 L384.3,272.03 L384.6,272.14 L384.9,272.19 L385.2,272.2 L385.5,272.19 L385.8,272.19 L386.1,272.19 L386.4,272.19 L386.7,272.2 L387,272.2 L387.3,272.2 L387.6,272.19 L387.9,272.16 L388.2,272.07 L388.5,271.95 L388.8,271.93 L389.1,272.03 L389.4,272.14 L389.7,272.19 L390,272.16 L390.3,272.05 L390.6,271.83 L390.9,271.68 L391.2,271.79 L391.5,272.02 L391.8,272.15 L392.1,272.19 L392.4,272.2 L392.7,272.2 L393,272.19 L393.3,272.15 L393.6,272.06 L393.9,271.99 L394.2,272.02 L394.5,272.09 L394.8,272.07 L395.1,271.9 L395.4,271.7 L395.7,271.71 L396,271.93 L396.3,272.07 L396.6,271.99 L396.9,271.72 L397.2,271.53 L397.5,271.67 L397.8,271.96 L398.1,272.14 L398.4,272.19 L398.7,272.2 L399,272.15 L399.3,271.97 L399.6,271.65 L399.9,271.43 L400.2,271.55 L400.5,271.81 L400.8,271.95 L401.1,272.04 L401.4,272.13 L401.7,272.17 L402,272.16 L402.3,272.15 L402.6,272.16 L402.9,272.18 L403.2,272.19 L403.5,272.16 L403.8,272.09 L404.1,272.03 L404.4,272.05 L404.7,272.13 L405,272.18 L405.3,272.19 L405.6,272.15 L405.9,271.91 L406.2,270.89 L406.5,268.12 L406.8,264.51 L407.1,263.73 L407.4,266.66 L407.7,269.83 L408,271.35 L408.3,271.89 L408.6,272.08 L408.9,272.12 L409.2,272.15 L409.5,272.18 L409.8,272.19 L410.1,272.2 L410.4,272.2 L410.7,272.2 L411,272.2 L411.3,272.18 L411.6,272.17 L411.9,272.17 L412.2,272.18 L412.5,272.19 L412.8,272.2 L413.1,272.18 L413.4,272.13 L413.7,272.06 L414,272.03 L414.3,272.08 L414.6,272.15 L414.9,272.19 L415.2,272.2 L415.5,272.19 L415.8,272.17 L416.1,272.17 L416.4,272.18 L416.7,272.19 L417,272.19 L417.3,272.13 L417.6,271.99 L417.9,271.85 L418.2,271.87 L418.5,272.02 L418.8,272.14 L419.1,272.17 L419.4,272.11 L419.7,272.01 L420,271.98 L420.3,272.04 L420.6,272.07 L420.9,271.93 L421.2,271.67 L421.5,271.59 L421.8,271.79 L422.1,272.04 L422.4,272.1 L422.7,271.94 L423,271.64 L423.3,271.51 L423.6,271.72 L423.9,272.01 L424.2,272.14 L424.5,272.13 L424.8,271.99 L425.1,271.85 L425.4,271.87 L425.7,272.02 L426,272.15 L426.3,272.18 L426.6,272.17 L426.9,272.13 L427.2,272.1 L427.5,272.12 L427.8,272.17 L428.1,272.19 L428.4,272.19 L428.7,272.18 L429,272.17 L429.3,272.17 L429.6,272.18 L429.9,272.19 L430.2,272.19 L430.5,272.18 L430.8,272.15 L431.1,272.15 L431.4,272.16 L431.7,272.19 L432,272.2 L432.3,272.19 L432.6,272.17 L432.9,272.11 L433.2,272.04 L433.5,272.03 L433.8,272.1 L434.1,272.17 L434.4,272.19 L434.7,272.19 L435,272.15 L435.3,272.02 L435.6,271.81 L435.9,271.72 L436.2,271.86 L436.5,272.04 L436.8,272.13 L437.1,272.16 L437.4,272.18 L437.7,272.19 L438,272.2 L438.3,272.2 L438.6,272.19 L438.9,272.19 L439.2,272.19 L439.5,272.19 L439.8,272.2 L440.1,272.18 L440.4,272.1 L440.7,271.88 L441,271.63 L441.3,271.61 L441.6,271.84 L441.9,272.04 L442.2,272.1 L442.5,272.11 L442.8,272.07 L443.1,271.67 L443.4,270.45 L443.7,268.78 L444,268.28 L444.3,269.42 L444.6,270.84 L444.9,271.68 L445.2,272.05 L445.5,272.17 L445.8,272.17 L446.1,272.13 L446.4,272.1 L446.7,272.12 L447,272.16 L447.3,272.18 L447.6,272.19 L447.9,272.18 L448.2,272.12 L448.5,271.92 L448.8,271.6 L449.1,271.43 L449.4,271.43 L449.7,270.73 L450,268.59 L450.3,266.43 L450.6,266.8 L450.9,269.24 L451.2,271.22 L451.5,271.99 L451.8,272.11 L452.1,272.02 L452.4,271.92 L452.7,271.95 L453,272.07 L453.3,272.16 L453.6,272.16 L453.9,272.08 L454.2,271.98 L454.5,271.96 L454.8,272.05 L455.1,272.15 L455.4,272.19 L455.7,272.2 L456,272.2 L456.3,272.19 L456.6,272.17 L456.9,272.12 L457.2,272.09 L457.5,272.11 L457.8,272.15 L458.1,272.11 L458.4,271.73 L458.7,270.43 L459,268.26 L459.3,267.09 L459.6,268.38 L459.9,270.57 L460.2,271.8 L460.5,272.11 L460.8,272.04 L461.1,271.84 L461.4,271.71 L461.7,271.82 L462,272.03 L462.3,272.16 L462.6,272.19 L462.9,272.2 L463.2,272.19 L463.5,272.13 L463.8,271.87 L464.1,271.02 L464.4,269.11 L464.7,266.49 L465,265.12 L465.3,266.46 L465.6,269.2 L465.9,271.18 L466.2,271.89 L466.5,271.66 L466.8,270.68 L467.1,269.62 L467.4,269.61 L467.7,270.66 L468,271.66 L468.3,272.06 L468.6,272.06 L468.9,271.84 L469.2,271.62 L469.5,271.67 L469.8,271.92 L470.1,272.08 L470.4,272.05 L470.7,271.95 L471,271.94 L471.3,272.04 L471.6,272.08 L471.9,271.8 L472.2,270.9 L472.5,269.72 L472.8,269.51 L473.1,270.52 L473.4,271.57 L473.7,272 L474,272.1 L474.3,272.15 L474.6,272.18 L474.9,272.2 L475.2,272.19 L475.5,272.13 L475.8,271.97 L476.1,271.77 L476.4,271.74 L476.7,271.91 L477,272.1 L477.3,272.18 L477.6,272.19 L477.9,272.15 L478.2,272.08 L478.5,272.03 L478.8,272.07 L479.1,272.14 L479.4,272.19 L479.7,272.19 L480,272.18 L480.3,272.15 L480.6,272.13 L480.9,272.15 L481.2,272.17 L481.5,272.19 L481.8,272.2 L482.1,272.2 L482.4,272.2 L482.7,272.19 L483,272.17 L483.3,272.16 L483.6,272.17 L483.9,272.19 L484.2,272.2 L484.5,272.19 L484.8,272.18 L485.1,272.13 L485.4,272.08 L485.7,272.09 L486,272.14 L486.3,272.18 L486.6,272.19 L486.9,272.19 L487.2,272.17 L487.5,272.15 L487.8,272.15 L488.1,272.17 L488.4,272.18 L488.7,272.17 L489,272.15 L489.3,272.15 L489.6,272.18 L489.9,272.19 L490.2,272.2 L490.5,272.2 L490.8,272.2 L491.1,272.19 L491.4,272.12 L491.7,271.95 L492,271.76 L492.3,271.75 L492.6,271.94 L492.9,272.1 L493.2,272.13 L493.5,272.05 L493.8,271.96 L494.1,271.98 L494.4,272.08 L494.7,272.17 L495,272.19 L495.3,272.16 L495.6,272.03 L495.9,271.8 L496.2,271.67 L496.5,271.8 L496.8,272.02 L497.1,272.11 L497.4,272.06 L497.7,271.98 L498,272 L498.3,272.09 L498.6,272.17 L498.9,272.19 L499.2,272.18 L499.5,272.09 L499.8,271.87 L500.1,271.63 L500.4,271.59 L500.7,271.69 L501,271.57 L501.3,271.33 L501.6,271.43 L501.9,271.8 L502.2,272.08 L502.5,272.18 L502.8,272.19 L503.1,272.16 L503.4,272.1 L503.7,271.94 L504,271.74 L504.3,271.73 L504.6,271.92 L504.9,272.11 L505.2,272.18 L505.5,272.19 L505.8,272.18 L506.1,272.18 L506.4,272.19 L506.7,272.2 L507,272.2 L507.3,272.18 L507.6,272.14 L507.9,272.09 L508.2,272.07 L508.5,272.04 L508.8,271.94 L509.1,271.88 L509.4,271.94 L509.7,271.98 L510,271.81 L510.3,271.58 L510.6,271.61 L510.6,273.2 Z" fill="#2e4e9e"/>
<rect x="433.2" y="236.8" width="10.3" height="1.6" fill="#2aa84a"/>
<line x1="335.6" y1="182.6" x2="335.6" y2="197.5" stroke="#555555" stroke-width="0.9"/>
<text x="329.4" y="186.5" font-size="5.4" text-anchor="start" fill="#231f20" textLength="2.58" lengthAdjust="spacingAndGlyphs" stroke="#231f20" stroke-width="0.1">1</text>
<line x1="335.6" y1="200" x2="335.6" y2="214.8" stroke="#555555" stroke-width="0.9"/>
<text x="329.4" y="203.9" font-size="5.4" text-anchor="start" fill="#231f20" textLength="2.58" lengthAdjust="spacingAndGlyphs" stroke="#231f20" stroke-width="0.1">1</text>
<line x1="335.6" y1="217.7" x2="335.6" y2="232.5" stroke="#555555" stroke-width="0.9"/>
<text x="329.4" y="222.7" font-size="5.4" text-anchor="start" fill="#231f20" textLength="2.58" lengthAdjust="spacingAndGlyphs" stroke="#231f20" stroke-width="0.1">4</text>
<line x1="335.6" y1="237.3" x2="335.6" y2="252.1" stroke="#555555" stroke-width="0.9"/>
<text x="329.4" y="241.5" font-size="5.4" text-anchor="start" fill="#231f20" textLength="2.58" lengthAdjust="spacingAndGlyphs" stroke="#231f20" stroke-width="0.1">4</text>
<line x1="335.6" y1="257.3" x2="335.6" y2="273.1" stroke="#555555" stroke-width="0.9"/>
<text x="329.4" y="261.5" font-size="5.4" text-anchor="start" fill="#231f20" textLength="2.58" lengthAdjust="spacingAndGlyphs" stroke="#231f20" stroke-width="0.1">2</text>
<line x1="297" y1="189.2" x2="297" y2="211.8" stroke="#444444" stroke-width="1"/>
<text transform="translate(290.6 200.8) rotate(-90)" x="0" y="0" font-size="5.6" text-anchor="middle" dominant-baseline="central" fill="#231f20" textLength="15.8" lengthAdjust="spacingAndGlyphs" stroke="#231f20" stroke-width="0.1">K27ac</text>
<line x1="297" y1="223.5" x2="297" y2="250" stroke="#444444" stroke-width="1"/>
<text transform="translate(290.6 237) rotate(-90)" x="0" y="0" font-size="5.6" text-anchor="middle" dominant-baseline="central" fill="#231f20" textLength="18.4" lengthAdjust="spacingAndGlyphs" stroke="#231f20" stroke-width="0.1">K4me3</text>
<line x1="297" y1="260.8" x2="297" y2="275.4" stroke="#444444" stroke-width="1"/>
<text transform="translate(290.6 268.5) rotate(-90)" x="0" y="0" font-size="5.6" text-anchor="middle" dominant-baseline="central" fill="#231f20" textLength="11" lengthAdjust="spacingAndGlyphs" stroke="#231f20" stroke-width="0.1">C&amp;R</text>
<text x="307.4" y="194.6" font-size="5.8" text-anchor="start" fill="#231f20" textLength="11.2" lengthAdjust="spacingAndGlyphs" stroke="#231f20" stroke-width="0.1" font-style="italic">MEP</text>
<text x="304.6" y="210.8" font-size="5.8" text-anchor="start" fill="#d95a46" textLength="15.9" lengthAdjust="spacingAndGlyphs" stroke="#d95a46" stroke-width="0.08">L-MEP</text>
<text x="307.4" y="229.6" font-size="5.8" text-anchor="start" fill="#231f20" textLength="11.2" lengthAdjust="spacingAndGlyphs" stroke="#231f20" stroke-width="0.1" font-style="italic">MEP</text>
<text x="304.6" y="248.8" font-size="5.8" text-anchor="start" fill="#d95a46" textLength="15.9" lengthAdjust="spacingAndGlyphs" stroke="#d95a46" stroke-width="0.08">L-MEP</text>
<text x="300.8" y="269.6" font-size="5.8" text-anchor="start" fill="#5060a8" textLength="23.5" lengthAdjust="spacingAndGlyphs" stroke="#5060a8" stroke-width="0.08">Prdm16s</text>
<text x="340" y="283.5" font-size="5.8" text-anchor="start" fill="#231f20" textLength="15.4" lengthAdjust="spacingAndGlyphs" stroke="#231f20" stroke-width="0.1">-55kb</text>
<text x="398.7" y="283.6" font-size="5.8" text-anchor="start" fill="#231f20" textLength="15.1" lengthAdjust="spacingAndGlyphs" stroke="#231f20" stroke-width="0.1">-21kb</text>
<text x="423.6" y="282.7" font-size="5.8" text-anchor="start" fill="#231f20" textLength="9.8" lengthAdjust="spacingAndGlyphs" stroke="#231f20" stroke-width="0.1">Elf1</text>
<line x1="436.8" y1="279.4" x2="509.3" y2="279.4" stroke="#111111" stroke-width="1"/>
<rect x="436" y="276.9" width="1.8" height="5" fill="#111111"/>
<rect x="475.25" y="277" width="1.1" height="4.8" fill="#111111"/>
<rect x="482.55" y="277" width="1.1" height="4.8" fill="#111111"/>
<rect x="484.75" y="277" width="1.1" height="4.8" fill="#111111"/>
<rect x="486.85" y="277" width="1.1" height="4.8" fill="#111111"/>
<rect x="489.15" y="277" width="1.1" height="4.8" fill="#111111"/>
<rect x="494.45" y="277" width="1.1" height="4.8" fill="#111111"/>
<rect x="505.2" y="277" width="4.2" height="4.8" fill="#111111"/>
<polyline points="446.3,278.0 447.8,279.4 446.3,280.8" fill="none" stroke="#111111" stroke-width="0.85"/>
<polyline points="455.5,278.0 457,279.4 455.5,280.8" fill="none" stroke="#111111" stroke-width="0.85"/>
<polyline points="465.8,278.0 467.3,279.4 465.8,280.8" fill="none" stroke="#111111" stroke-width="0.85"/>
<polyline points="500.1,278.0 501.6,279.4 500.1,280.8" fill="none" stroke="#111111" stroke-width="0.85"/>
<rect x="0" y="0" width="520" height="1.45" fill="#484848"/>
<rect x="0" y="0" width="1.6" height="421" fill="#4a4a4a"/>
<rect x="518.8" y="0" width="1.2" height="421" fill="#050505"/>
<rect x="0" y="419.6" width="520" height="1.4" fill="#484848"/>
</svg>
</body></html>
